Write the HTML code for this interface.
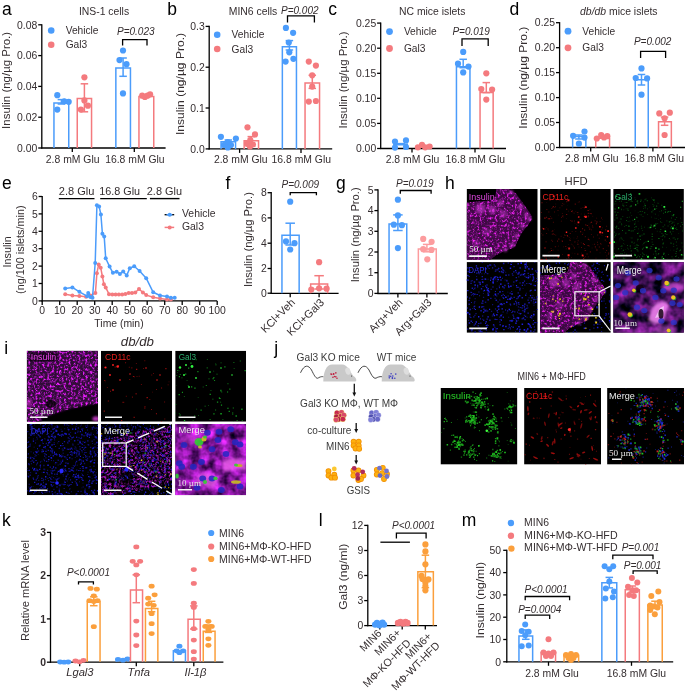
<!DOCTYPE html>
<html><head><meta charset="utf-8"><style>
html,body{margin:0;padding:0;background:#fff;width:685px;height:693px;overflow:hidden}
svg{will-change:transform}
svg text{font-family:"Liberation Sans",sans-serif}
</style></head><body>
<svg width="685" height="693" viewBox="0 0 685 693" style="display:block;font-family:'Liberation Sans', sans-serif"><defs><filter id="fmag" x="0" y="0" width="1" height="1" color-interpolation-filters="sRGB"><feTurbulence type="fractalNoise" baseFrequency="0.400" numOctaves="3" seed="3" result="n"/><feColorMatrix in="n" type="matrix" values="1.600 0 0 0 -0.360 0.220 0 0 0 -0.050 1.600 0 0 0 -0.340 3.000 0 0 0 -1.120" result="c"/><feGaussianBlur in="c" stdDeviation="0.30" result="c"/><feComposite in="c" in2="SourceGraphic" operator="in"/></filter><filter id="fblur1" x="-1" y="-1" width="3" height="3"><feGaussianBlur stdDeviation="1.2"/></filter><filter id="fmag2" x="0" y="0" width="1" height="1" color-interpolation-filters="sRGB"><feTurbulence type="fractalNoise" baseFrequency="0.350" numOctaves="2" seed="7" result="n"/><feColorMatrix in="n" type="matrix" values="2.600 0 0 0 -0.450 0.350 0 0 0 -0.060 2.600 0 0 0 -0.450 0 0 0 0 1" result="c"/><feComposite in="c" in2="SourceGraphic" operator="in"/></filter><filter id="fmagz" x="0" y="0" width="1" height="1" color-interpolation-filters="sRGB"><feTurbulence type="fractalNoise" baseFrequency="0.080" numOctaves="3" seed="11" result="n"/><feColorMatrix in="n" type="matrix" values="1.300 0 0 0 -0.380 0.300 0 0 0 -0.080 1.300 0 0 0 -0.300 0 0 0 0 1" result="c"/><feComposite in="c" in2="SourceGraphic" operator="in"/></filter><filter id="fred" x="0" y="0" width="1" height="1" color-interpolation-filters="sRGB"><feTurbulence type="fractalNoise" baseFrequency="0.500" numOctaves="2" seed="5" result="n"/><feColorMatrix in="n" type="matrix" values="1.200 0 0 0 -0.450 0.000 0 0 0 0.000 0.000 0 0 0 0.000 0 0 0 0 1" result="c"/><feComposite in="c" in2="SourceGraphic" operator="in"/></filter><filter id="fgrn" x="0" y="0" width="1" height="1" color-interpolation-filters="sRGB"><feTurbulence type="fractalNoise" baseFrequency="0.500" numOctaves="2" seed="6" result="n"/><feColorMatrix in="n" type="matrix" values="0.000 0 0 0 0.000 1.200 0 0 0 -0.450 0.100 0 0 0 0.000 0 0 0 0 1" result="c"/><feComposite in="c" in2="SourceGraphic" operator="in"/></filter><clipPath id="cp1"><rect x="466.60" y="188.90" width="71.10" height="70.90"/></clipPath><clipPath id="cp2"><rect x="540.10" y="188.90" width="70.70" height="70.90"/></clipPath><clipPath id="cp3"><rect x="613.20" y="188.90" width="70.70" height="70.90"/></clipPath><clipPath id="cp4"><rect x="466.60" y="262.10" width="71.10" height="70.70"/></clipPath><clipPath id="cp5"><rect x="540.10" y="262.10" width="70.70" height="70.70"/></clipPath><filter id="fblur2" x="-1" y="-1" width="3" height="3"><feGaussianBlur stdDeviation="1.6"/></filter><filter id="fblur08" x="-1" y="-1" width="3" height="3"><feGaussianBlur stdDeviation="0.7"/></filter><clipPath id="cp6"><rect x="613.20" y="262.10" width="70.70" height="70.70"/></clipPath><filter id="fmagi" x="0" y="0" width="1" height="1" color-interpolation-filters="sRGB"><feTurbulence type="fractalNoise" baseFrequency="0.420" numOctaves="4" seed="13" result="n"/><feColorMatrix in="n" type="matrix" values="1.600 0 0 0 -0.350 0.200 0 0 0 -0.040 1.700 0 0 0 -0.350 3.200 0 0 0 -1.150" result="c"/><feGaussianBlur in="c" stdDeviation="0.30" result="c"/><feComposite in="c" in2="SourceGraphic" operator="in"/></filter><clipPath id="cp7"><rect x="26.80" y="350.70" width="71.20" height="71.00"/></clipPath><clipPath id="cp8"><rect x="101.00" y="350.70" width="71.10" height="71.00"/></clipPath><clipPath id="cp9"><rect x="175.20" y="350.70" width="70.90" height="71.00"/></clipPath><clipPath id="cp10"><rect x="26.80" y="423.90" width="71.20" height="71.30"/></clipPath><clipPath id="cp11"><rect x="101.00" y="423.90" width="71.10" height="71.30"/></clipPath><filter id="fmagzi" x="0" y="0" width="1" height="1" color-interpolation-filters="sRGB"><feTurbulence type="fractalNoise" baseFrequency="0.100" numOctaves="3" seed="17" result="n"/><feColorMatrix in="n" type="matrix" values="1.300 0 0 0 -0.120 0.300 0 0 0 -0.060 1.350 0 0 0 -0.050 0 0 0 0 1" result="c"/><feComposite in="c" in2="SourceGraphic" operator="in"/></filter><clipPath id="cp12"><rect x="175.20" y="423.90" width="70.90" height="71.30"/></clipPath><clipPath id="cp13"><rect x="440.50" y="388.00" width="76.90" height="76.60"/></clipPath><clipPath id="cp14"><rect x="524.10" y="388.00" width="76.90" height="76.60"/></clipPath><clipPath id="cp15"><rect x="607.10" y="388.00" width="76.90" height="76.60"/></clipPath></defs><text x="2.00" y="14.80" font-size="17.50" fill="#000">a</text>
<text x="104.00" y="14.92" font-size="10.40" text-anchor="middle" fill="#352e30" style="">INS-1 cells</text>
<text x="6.50" y="84.27" font-size="10.80" text-anchor="middle" fill="#352e30" transform="rotate(-90 6.50 80.40)" textLength="97.0" lengthAdjust="spacingAndGlyphs">Insulin (ng/µg Pro.)</text>
<line x1="41.80" y1="24.20" x2="41.80" y2="148.60" stroke="#000" stroke-width="1.30" stroke-linecap="butt"/>
<line x1="38.20" y1="24.80" x2="41.80" y2="24.80" stroke="#000" stroke-width="1.30" stroke-linecap="butt"/>
<text x="37.30" y="28.52" font-size="10.40" text-anchor="end" fill="#352e30" style="">0.08</text>
<line x1="38.20" y1="55.60" x2="41.80" y2="55.60" stroke="#000" stroke-width="1.30" stroke-linecap="butt"/>
<text x="37.30" y="59.32" font-size="10.40" text-anchor="end" fill="#352e30" style="">0.06</text>
<line x1="38.20" y1="86.40" x2="41.80" y2="86.40" stroke="#000" stroke-width="1.30" stroke-linecap="butt"/>
<text x="37.30" y="90.12" font-size="10.40" text-anchor="end" fill="#352e30" style="">0.04</text>
<line x1="38.20" y1="117.20" x2="41.80" y2="117.20" stroke="#000" stroke-width="1.30" stroke-linecap="butt"/>
<text x="37.30" y="120.92" font-size="10.40" text-anchor="end" fill="#352e30" style="">0.02</text>
<line x1="38.20" y1="148.00" x2="41.80" y2="148.00" stroke="#000" stroke-width="1.30" stroke-linecap="butt"/>
<text x="37.30" y="151.72" font-size="10.40" text-anchor="end" fill="#352e30" style="">0.00</text>
<line x1="41.20" y1="148.00" x2="165.60" y2="148.00" stroke="#000" stroke-width="1.30" stroke-linecap="butt"/>
<line x1="72.30" y1="148.00" x2="72.30" y2="152.00" stroke="#000" stroke-width="1.30" stroke-linecap="butt"/>
<line x1="134.30" y1="148.00" x2="134.30" y2="152.00" stroke="#000" stroke-width="1.30" stroke-linecap="butt"/>
<path d="M53.95 148.00 L53.95 102.95 L68.75 102.95 L68.75 148.00" stroke="#4b9cfb" stroke-width="1.50" fill="none" stroke-linejoin="miter"/>
<line x1="61.40" y1="104.00" x2="61.40" y2="99.60" stroke="#4b9cfb" stroke-width="1.50" stroke-linecap="butt"/>
<line x1="57.65" y1="99.60" x2="65.15" y2="99.60" stroke="#4b9cfb" stroke-width="1.50" stroke-linecap="butt"/>
<line x1="57.65" y1="104.00" x2="65.15" y2="104.00" stroke="#4b9cfb" stroke-width="1.50" stroke-linecap="butt"/>
<circle cx="57.30" cy="95.20" r="3.10" fill="#4b9cfb"/>
<circle cx="57.30" cy="109.60" r="3.10" fill="#4b9cfb"/>
<circle cx="64.30" cy="101.30" r="3.10" fill="#4b9cfb"/>
<circle cx="68.70" cy="101.80" r="3.10" fill="#4b9cfb"/>
<path d="M77.25 148.00 L77.25 98.55 L91.55 98.55 L91.55 148.00" stroke="#f47a7e" stroke-width="1.50" fill="none" stroke-linejoin="miter"/>
<line x1="84.40" y1="111.80" x2="84.40" y2="83.80" stroke="#f47a7e" stroke-width="1.50" stroke-linecap="butt"/>
<line x1="80.65" y1="83.80" x2="88.15" y2="83.80" stroke="#f47a7e" stroke-width="1.50" stroke-linecap="butt"/>
<line x1="80.65" y1="111.80" x2="88.15" y2="111.80" stroke="#f47a7e" stroke-width="1.50" stroke-linecap="butt"/>
<circle cx="84.40" cy="77.30" r="3.10" fill="#f47a7e"/>
<circle cx="84.40" cy="100.40" r="3.10" fill="#f47a7e"/>
<circle cx="87.90" cy="105.70" r="3.10" fill="#f47a7e"/>
<circle cx="80.90" cy="109.60" r="3.10" fill="#f47a7e"/>
<path d="M115.85 148.00 L115.85 67.95 L130.45 67.95 L130.45 148.00" stroke="#4b9cfb" stroke-width="1.50" fill="none" stroke-linejoin="miter"/>
<line x1="123.10" y1="76.30" x2="123.10" y2="58.00" stroke="#4b9cfb" stroke-width="1.50" stroke-linecap="butt"/>
<line x1="119.35" y1="58.00" x2="126.85" y2="58.00" stroke="#4b9cfb" stroke-width="1.50" stroke-linecap="butt"/>
<line x1="119.35" y1="76.30" x2="126.85" y2="76.30" stroke="#4b9cfb" stroke-width="1.50" stroke-linecap="butt"/>
<circle cx="123.00" cy="50.50" r="3.10" fill="#4b9cfb"/>
<circle cx="119.50" cy="60.10" r="3.10" fill="#4b9cfb"/>
<circle cx="126.50" cy="64.20" r="3.10" fill="#4b9cfb"/>
<circle cx="123.00" cy="93.40" r="3.10" fill="#4b9cfb"/>
<path d="M138.95 148.00 L138.95 96.45 L153.75 96.45 L153.75 148.00" stroke="#f47a7e" stroke-width="1.50" fill="none" stroke-linejoin="miter"/>
<circle cx="142.20" cy="95.70" r="3.10" fill="#f47a7e"/>
<circle cx="144.90" cy="96.90" r="3.10" fill="#f47a7e"/>
<circle cx="147.50" cy="95.70" r="3.10" fill="#f47a7e"/>
<circle cx="150.10" cy="94.30" r="3.10" fill="#f47a7e"/>
<circle cx="51.20" cy="30.50" r="3.30" fill="#4b9cfb"/>
<text x="65.70" y="34.15" font-size="10.20" text-anchor="start" fill="#352e30" style="">Vehicle</text>
<circle cx="51.20" cy="44.70" r="3.30" fill="#f47a7e"/>
<text x="65.70" y="48.35" font-size="10.20" text-anchor="start" fill="#352e30" style="">Gal3</text>
<text x="117.00" y="35.18" font-size="10.00" text-anchor="start" fill="#352e30" style="font-style:italic;">P=0.023</text>
<path d="M122.60 45.60 L122.60 39.70 L147.00 39.70 L147.00 45.60" stroke="#000" stroke-width="1.30" fill="none" />
<text x="72.70" y="162.52" font-size="10.40" text-anchor="middle" fill="#352e30" style="">2.8 mM Glu</text>
<text x="134.90" y="162.52" font-size="10.40" text-anchor="middle" fill="#352e30" style="">16.8 mM Glu</text>
<text x="167.30" y="14.80" font-size="17.50" fill="#000">b</text>
<text x="253.00" y="14.62" font-size="10.40" text-anchor="middle" fill="#352e30" style="">MIN6 cells</text>
<text x="281.00" y="14.48" font-size="10.00" text-anchor="start" fill="#352e30" style="font-style:italic;">P=0.002</text>
<path d="M287.50 22.50 L287.50 15.80 L314.40 15.80 L314.40 22.50" stroke="#000" stroke-width="1.30" fill="none" />
<text x="180.30" y="87.87" font-size="10.80" text-anchor="middle" fill="#352e30" transform="rotate(-90 180.30 84.00)" textLength="102.0" lengthAdjust="spacingAndGlyphs">Insulin (ng/µg Pro.)</text>
<line x1="209.20" y1="25.80" x2="209.20" y2="149.50" stroke="#000" stroke-width="1.30" stroke-linecap="butt"/>
<line x1="205.60" y1="26.40" x2="209.20" y2="26.40" stroke="#000" stroke-width="1.30" stroke-linecap="butt"/>
<text x="204.70" y="30.12" font-size="10.40" text-anchor="end" fill="#352e30" style="">0.3</text>
<line x1="205.60" y1="67.20" x2="209.20" y2="67.20" stroke="#000" stroke-width="1.30" stroke-linecap="butt"/>
<text x="204.70" y="70.92" font-size="10.40" text-anchor="end" fill="#352e30" style="">0.2</text>
<line x1="205.60" y1="108.00" x2="209.20" y2="108.00" stroke="#000" stroke-width="1.30" stroke-linecap="butt"/>
<text x="204.70" y="111.72" font-size="10.40" text-anchor="end" fill="#352e30" style="">0.1</text>
<line x1="205.60" y1="148.90" x2="209.20" y2="148.90" stroke="#000" stroke-width="1.30" stroke-linecap="butt"/>
<text x="204.70" y="152.62" font-size="10.40" text-anchor="end" fill="#352e30" style="">0.0</text>
<line x1="208.60" y1="148.90" x2="332.20" y2="148.90" stroke="#000" stroke-width="1.30" stroke-linecap="butt"/>
<line x1="239.60" y1="148.90" x2="239.60" y2="152.90" stroke="#000" stroke-width="1.30" stroke-linecap="butt"/>
<line x1="301.00" y1="148.90" x2="301.00" y2="152.90" stroke="#000" stroke-width="1.30" stroke-linecap="butt"/>
<path d="M221.05 148.90 L221.05 141.75 L235.55 141.75 L235.55 148.90" stroke="#4b9cfb" stroke-width="1.50" fill="none" stroke-linejoin="miter"/>
<line x1="228.30" y1="146.50" x2="228.30" y2="140.00" stroke="#4b9cfb" stroke-width="1.50" stroke-linecap="butt"/>
<line x1="224.55" y1="140.00" x2="232.05" y2="140.00" stroke="#4b9cfb" stroke-width="1.50" stroke-linecap="butt"/>
<line x1="224.55" y1="146.50" x2="232.05" y2="146.50" stroke="#4b9cfb" stroke-width="1.50" stroke-linecap="butt"/>
<circle cx="220.90" cy="136.80" r="3.10" fill="#4b9cfb"/>
<circle cx="235.90" cy="138.50" r="3.10" fill="#4b9cfb"/>
<circle cx="227.80" cy="142.00" r="3.10" fill="#4b9cfb"/>
<circle cx="224.00" cy="145.00" r="3.10" fill="#4b9cfb"/>
<circle cx="231.00" cy="145.00" r="3.10" fill="#4b9cfb"/>
<circle cx="227.80" cy="147.50" r="3.10" fill="#4b9cfb"/>
<path d="M244.15 148.90 L244.15 140.75 L258.55 140.75 L258.55 148.90" stroke="#f47a7e" stroke-width="1.50" fill="none" stroke-linejoin="miter"/>
<line x1="251.30" y1="146.00" x2="251.30" y2="136.60" stroke="#f47a7e" stroke-width="1.50" stroke-linecap="butt"/>
<line x1="247.55" y1="136.60" x2="255.05" y2="136.60" stroke="#f47a7e" stroke-width="1.50" stroke-linecap="butt"/>
<line x1="247.55" y1="146.00" x2="255.05" y2="146.00" stroke="#f47a7e" stroke-width="1.50" stroke-linecap="butt"/>
<circle cx="247.50" cy="127.30" r="3.10" fill="#f47a7e"/>
<circle cx="255.00" cy="134.40" r="3.10" fill="#f47a7e"/>
<circle cx="250.30" cy="140.00" r="3.10" fill="#f47a7e"/>
<circle cx="247.00" cy="143.80" r="3.10" fill="#f47a7e"/>
<circle cx="253.00" cy="144.50" r="3.10" fill="#f47a7e"/>
<circle cx="250.00" cy="146.50" r="3.10" fill="#f47a7e"/>
<path d="M282.35 148.90 L282.35 46.65 L296.45 46.65 L296.45 148.90" stroke="#4b9cfb" stroke-width="1.50" fill="none" stroke-linejoin="miter"/>
<line x1="289.40" y1="50.00" x2="289.40" y2="40.60" stroke="#4b9cfb" stroke-width="1.50" stroke-linecap="butt"/>
<line x1="285.65" y1="40.60" x2="293.15" y2="40.60" stroke="#4b9cfb" stroke-width="1.50" stroke-linecap="butt"/>
<line x1="285.65" y1="50.00" x2="293.15" y2="50.00" stroke="#4b9cfb" stroke-width="1.50" stroke-linecap="butt"/>
<circle cx="285.90" cy="27.90" r="3.10" fill="#4b9cfb"/>
<circle cx="293.10" cy="32.80" r="3.10" fill="#4b9cfb"/>
<circle cx="288.80" cy="42.50" r="3.10" fill="#4b9cfb"/>
<circle cx="289.30" cy="52.30" r="3.10" fill="#4b9cfb"/>
<circle cx="285.60" cy="61.60" r="3.10" fill="#4b9cfb"/>
<circle cx="293.40" cy="58.80" r="3.10" fill="#4b9cfb"/>
<path d="M305.05 148.90 L305.05 83.05 L319.55 83.05 L319.55 148.90" stroke="#f47a7e" stroke-width="1.50" fill="none" stroke-linejoin="miter"/>
<line x1="312.30" y1="88.40" x2="312.30" y2="75.30" stroke="#f47a7e" stroke-width="1.50" stroke-linecap="butt"/>
<line x1="308.55" y1="75.30" x2="316.05" y2="75.30" stroke="#f47a7e" stroke-width="1.50" stroke-linecap="butt"/>
<line x1="308.55" y1="88.40" x2="316.05" y2="88.40" stroke="#f47a7e" stroke-width="1.50" stroke-linecap="butt"/>
<circle cx="308.80" cy="61.60" r="3.10" fill="#f47a7e"/>
<circle cx="315.90" cy="65.60" r="3.10" fill="#f47a7e"/>
<circle cx="312.20" cy="75.30" r="3.10" fill="#f47a7e"/>
<circle cx="312.20" cy="86.60" r="3.10" fill="#f47a7e"/>
<circle cx="308.80" cy="101.60" r="3.10" fill="#f47a7e"/>
<circle cx="315.90" cy="101.00" r="3.10" fill="#f47a7e"/>
<circle cx="217.20" cy="34.70" r="3.30" fill="#4b9cfb"/>
<text x="231.60" y="38.35" font-size="10.20" text-anchor="start" fill="#352e30" style="">Vehicle</text>
<circle cx="217.20" cy="49.00" r="3.30" fill="#f47a7e"/>
<text x="231.60" y="52.65" font-size="10.20" text-anchor="start" fill="#352e30" style="">Gal3</text>
<text x="240.80" y="163.02" font-size="10.40" text-anchor="middle" fill="#352e30" style="">2.8 mM Glu</text>
<text x="301.30" y="163.02" font-size="10.40" text-anchor="middle" fill="#352e30" style="">16.8 mM Glu</text>
<text x="328.20" y="14.80" font-size="17.50" fill="#000">c</text>
<text x="432.20" y="15.22" font-size="10.40" text-anchor="middle" fill="#352e30" style="">NC mice islets</text>
<text x="343.00" y="83.87" font-size="10.80" text-anchor="middle" fill="#352e30" transform="rotate(-90 343.00 80.00)" textLength="97.0" lengthAdjust="spacingAndGlyphs">Insulin (ng/µg Pro.)</text>
<line x1="380.70" y1="22.50" x2="380.70" y2="149.10" stroke="#000" stroke-width="1.30" stroke-linecap="butt"/>
<line x1="377.10" y1="23.10" x2="380.70" y2="23.10" stroke="#000" stroke-width="1.30" stroke-linecap="butt"/>
<text x="376.20" y="26.82" font-size="10.40" text-anchor="end" fill="#352e30" style="">0.25</text>
<line x1="377.10" y1="48.20" x2="380.70" y2="48.20" stroke="#000" stroke-width="1.30" stroke-linecap="butt"/>
<text x="376.20" y="51.92" font-size="10.40" text-anchor="end" fill="#352e30" style="">0.20</text>
<line x1="377.10" y1="73.30" x2="380.70" y2="73.30" stroke="#000" stroke-width="1.30" stroke-linecap="butt"/>
<text x="376.20" y="77.02" font-size="10.40" text-anchor="end" fill="#352e30" style="">0.15</text>
<line x1="377.10" y1="98.30" x2="380.70" y2="98.30" stroke="#000" stroke-width="1.30" stroke-linecap="butt"/>
<text x="376.20" y="102.02" font-size="10.40" text-anchor="end" fill="#352e30" style="">0.10</text>
<line x1="377.10" y1="123.40" x2="380.70" y2="123.40" stroke="#000" stroke-width="1.30" stroke-linecap="butt"/>
<text x="376.20" y="127.12" font-size="10.40" text-anchor="end" fill="#352e30" style="">0.05</text>
<line x1="377.10" y1="148.50" x2="380.70" y2="148.50" stroke="#000" stroke-width="1.30" stroke-linecap="butt"/>
<text x="376.20" y="152.22" font-size="10.40" text-anchor="end" fill="#352e30" style="">0.00</text>
<line x1="380.10" y1="148.50" x2="506.00" y2="148.50" stroke="#000" stroke-width="1.30" stroke-linecap="butt"/>
<line x1="412.00" y1="148.50" x2="412.00" y2="152.50" stroke="#000" stroke-width="1.30" stroke-linecap="butt"/>
<line x1="475.00" y1="148.50" x2="475.00" y2="152.50" stroke="#000" stroke-width="1.30" stroke-linecap="butt"/>
<path d="M393.85 148.50 L393.85 144.15 L407.25 144.15 L407.25 148.50" stroke="#4b9cfb" stroke-width="1.50" fill="none" stroke-linejoin="miter"/>
<circle cx="395.00" cy="141.60" r="3.10" fill="#4b9cfb"/>
<circle cx="406.00" cy="140.40" r="3.10" fill="#4b9cfb"/>
<circle cx="395.00" cy="147.60" r="3.10" fill="#4b9cfb"/>
<circle cx="406.00" cy="147.00" r="3.10" fill="#4b9cfb"/>
<line x1="396.00" y1="143.50" x2="405.00" y2="143.50" stroke="#4b9cfb" stroke-width="1.30" stroke-linecap="butt"/>
<line x1="396.00" y1="145.00" x2="405.00" y2="145.00" stroke="#4b9cfb" stroke-width="1.00" stroke-linecap="butt"/>
<path d="M417.55 148.50 L417.55 146.75 L430.95 146.75 L430.95 148.50" stroke="#f47a7e" stroke-width="1.50" fill="none" stroke-linejoin="miter"/>
<circle cx="417.90" cy="147.30" r="3.10" fill="#f47a7e"/>
<circle cx="422.00" cy="144.90" r="3.10" fill="#f47a7e"/>
<circle cx="425.20" cy="147.30" r="3.10" fill="#f47a7e"/>
<circle cx="429.60" cy="146.50" r="3.10" fill="#f47a7e"/>
<path d="M456.45 148.50 L456.45 66.65 L469.95 66.65 L469.95 148.50" stroke="#4b9cfb" stroke-width="1.50" fill="none" stroke-linejoin="miter"/>
<line x1="463.20" y1="67.70" x2="463.20" y2="59.30" stroke="#4b9cfb" stroke-width="1.50" stroke-linecap="butt"/>
<line x1="459.45" y1="59.30" x2="466.95" y2="59.30" stroke="#4b9cfb" stroke-width="1.50" stroke-linecap="butt"/>
<line x1="459.45" y1="67.70" x2="466.95" y2="67.70" stroke="#4b9cfb" stroke-width="1.50" stroke-linecap="butt"/>
<circle cx="463.20" cy="51.90" r="3.10" fill="#4b9cfb"/>
<circle cx="458.00" cy="63.70" r="3.10" fill="#4b9cfb"/>
<circle cx="468.50" cy="66.60" r="3.10" fill="#4b9cfb"/>
<circle cx="463.20" cy="72.40" r="3.10" fill="#4b9cfb"/>
<path d="M480.05 148.50 L480.05 92.45 L493.15 92.45 L493.15 148.50" stroke="#f47a7e" stroke-width="1.50" fill="none" stroke-linejoin="miter"/>
<line x1="486.30" y1="92.60" x2="486.30" y2="82.60" stroke="#f47a7e" stroke-width="1.50" stroke-linecap="butt"/>
<line x1="482.55" y1="82.60" x2="490.05" y2="82.60" stroke="#f47a7e" stroke-width="1.50" stroke-linecap="butt"/>
<line x1="482.55" y1="92.60" x2="490.05" y2="92.60" stroke="#f47a7e" stroke-width="1.50" stroke-linecap="butt"/>
<circle cx="486.30" cy="73.30" r="3.10" fill="#f47a7e"/>
<circle cx="481.30" cy="89.10" r="3.10" fill="#f47a7e"/>
<circle cx="492.10" cy="89.60" r="3.10" fill="#f47a7e"/>
<circle cx="486.30" cy="99.60" r="3.10" fill="#f47a7e"/>
<circle cx="389.50" cy="31.60" r="3.40" fill="#4b9cfb"/>
<text x="403.90" y="35.25" font-size="10.20" text-anchor="start" fill="#352e30" style="">Vehicle</text>
<circle cx="389.50" cy="48.50" r="3.40" fill="#f47a7e"/>
<text x="403.90" y="52.15" font-size="10.20" text-anchor="start" fill="#352e30" style="">Gal3</text>
<text x="452.40" y="35.48" font-size="10.00" text-anchor="start" fill="#352e30" style="font-style:italic;">P=0.019</text>
<path d="M462.00 46.00 L462.00 38.80 L488.20 38.80 L488.20 46.00" stroke="#000" stroke-width="1.30" fill="none" />
<text x="412.50" y="163.42" font-size="10.40" text-anchor="middle" fill="#352e30" style="">2.8 mM Glu</text>
<text x="475.30" y="163.42" font-size="10.40" text-anchor="middle" fill="#352e30" style="">16.8 mM Glu</text>
<text x="509.50" y="14.80" font-size="17.50" fill="#000">d</text>
<text x="618.80" y="15.22" font-size="10.40" text-anchor="middle" fill="#352e30"><tspan font-style="italic">db/db</tspan> mice islets</text>
<text x="522.80" y="81.57" font-size="10.80" text-anchor="middle" fill="#352e30" transform="rotate(-90 522.80 77.70)" textLength="102.0" lengthAdjust="spacingAndGlyphs">Insulin (ng/µg Pro.)</text>
<line x1="559.60" y1="22.10" x2="559.60" y2="148.10" stroke="#000" stroke-width="1.30" stroke-linecap="butt"/>
<line x1="556.00" y1="22.70" x2="559.60" y2="22.70" stroke="#000" stroke-width="1.30" stroke-linecap="butt"/>
<text x="555.10" y="26.42" font-size="10.40" text-anchor="end" fill="#352e30" style="">0.25</text>
<line x1="556.00" y1="47.70" x2="559.60" y2="47.70" stroke="#000" stroke-width="1.30" stroke-linecap="butt"/>
<text x="555.10" y="51.42" font-size="10.40" text-anchor="end" fill="#352e30" style="">0.20</text>
<line x1="556.00" y1="72.60" x2="559.60" y2="72.60" stroke="#000" stroke-width="1.30" stroke-linecap="butt"/>
<text x="555.10" y="76.32" font-size="10.40" text-anchor="end" fill="#352e30" style="">0.15</text>
<line x1="556.00" y1="97.60" x2="559.60" y2="97.60" stroke="#000" stroke-width="1.30" stroke-linecap="butt"/>
<text x="555.10" y="101.32" font-size="10.40" text-anchor="end" fill="#352e30" style="">0.10</text>
<line x1="556.00" y1="122.50" x2="559.60" y2="122.50" stroke="#000" stroke-width="1.30" stroke-linecap="butt"/>
<text x="555.10" y="126.22" font-size="10.40" text-anchor="end" fill="#352e30" style="">0.05</text>
<line x1="556.00" y1="147.50" x2="559.60" y2="147.50" stroke="#000" stroke-width="1.30" stroke-linecap="butt"/>
<text x="555.10" y="151.22" font-size="10.40" text-anchor="end" fill="#352e30" style="">0.00</text>
<line x1="559.00" y1="147.50" x2="685.50" y2="147.50" stroke="#000" stroke-width="1.30" stroke-linecap="butt"/>
<line x1="590.70" y1="147.50" x2="590.70" y2="151.50" stroke="#000" stroke-width="1.30" stroke-linecap="butt"/>
<line x1="652.90" y1="147.50" x2="652.90" y2="151.50" stroke="#000" stroke-width="1.30" stroke-linecap="butt"/>
<path d="M572.65 147.50 L572.65 136.55 L585.85 136.55 L585.85 147.50" stroke="#4b9cfb" stroke-width="1.50" fill="none" stroke-linejoin="miter"/>
<line x1="578.90" y1="139.00" x2="578.90" y2="135.00" stroke="#4b9cfb" stroke-width="1.50" stroke-linecap="butt"/>
<line x1="575.15" y1="135.00" x2="582.65" y2="135.00" stroke="#4b9cfb" stroke-width="1.50" stroke-linecap="butt"/>
<line x1="575.15" y1="139.00" x2="582.65" y2="139.00" stroke="#4b9cfb" stroke-width="1.50" stroke-linecap="butt"/>
<circle cx="573.10" cy="135.80" r="3.10" fill="#4b9cfb"/>
<circle cx="584.50" cy="131.50" r="3.10" fill="#4b9cfb"/>
<circle cx="584.50" cy="137.60" r="3.10" fill="#4b9cfb"/>
<circle cx="578.90" cy="143.70" r="3.10" fill="#4b9cfb"/>
<path d="M595.75 147.50 L595.75 138.35 L609.55 138.35 L609.55 147.50" stroke="#f47a7e" stroke-width="1.50" fill="none" stroke-linejoin="miter"/>
<circle cx="596.80" cy="138.50" r="3.10" fill="#f47a7e"/>
<circle cx="601.20" cy="135.00" r="3.10" fill="#f47a7e"/>
<circle cx="607.30" cy="136.20" r="3.10" fill="#f47a7e"/>
<circle cx="604.00" cy="137.50" r="3.10" fill="#f47a7e"/>
<path d="M635.25 147.50 L635.25 79.65 L648.25 79.65 L648.25 147.50" stroke="#4b9cfb" stroke-width="1.50" fill="none" stroke-linejoin="miter"/>
<line x1="641.50" y1="85.00" x2="641.50" y2="74.50" stroke="#4b9cfb" stroke-width="1.50" stroke-linecap="butt"/>
<line x1="637.75" y1="74.50" x2="645.25" y2="74.50" stroke="#4b9cfb" stroke-width="1.50" stroke-linecap="butt"/>
<line x1="637.75" y1="85.00" x2="645.25" y2="85.00" stroke="#4b9cfb" stroke-width="1.50" stroke-linecap="butt"/>
<circle cx="641.50" cy="68.40" r="3.10" fill="#4b9cfb"/>
<circle cx="635.70" cy="78.00" r="3.10" fill="#4b9cfb"/>
<circle cx="647.10" cy="78.40" r="3.10" fill="#4b9cfb"/>
<circle cx="641.50" cy="94.70" r="3.10" fill="#4b9cfb"/>
<path d="M658.55 147.50 L658.55 121.75 L671.35 121.75 L671.35 147.50" stroke="#f47a7e" stroke-width="1.50" fill="none" stroke-linejoin="miter"/>
<line x1="664.60" y1="125.30" x2="664.60" y2="117.10" stroke="#f47a7e" stroke-width="1.50" stroke-linecap="butt"/>
<line x1="660.85" y1="117.10" x2="668.35" y2="117.10" stroke="#f47a7e" stroke-width="1.50" stroke-linecap="butt"/>
<line x1="660.85" y1="125.30" x2="668.35" y2="125.30" stroke="#f47a7e" stroke-width="1.50" stroke-linecap="butt"/>
<circle cx="659.30" cy="113.40" r="3.10" fill="#f47a7e"/>
<circle cx="669.80" cy="112.70" r="3.10" fill="#f47a7e"/>
<circle cx="664.60" cy="118.30" r="3.10" fill="#f47a7e"/>
<circle cx="664.60" cy="135.00" r="3.10" fill="#f47a7e"/>
<circle cx="568.00" cy="31.20" r="3.40" fill="#4b9cfb"/>
<text x="582.30" y="34.85" font-size="10.20" text-anchor="start" fill="#352e30" style="">Vehicle</text>
<circle cx="568.00" cy="47.80" r="3.40" fill="#f47a7e"/>
<text x="582.30" y="51.45" font-size="10.20" text-anchor="start" fill="#352e30" style="">Gal3</text>
<text x="633.90" y="45.18" font-size="10.00" text-anchor="start" fill="#352e30" style="font-style:italic;">P=0.002</text>
<path d="M640.60 57.90 L640.60 51.40 L665.60 51.40 L665.60 57.90" stroke="#000" stroke-width="1.30" fill="none" />
<text x="591.80" y="162.12" font-size="10.40" text-anchor="middle" fill="#352e30" style="">2.8 mM Glu</text>
<text x="654.30" y="162.12" font-size="10.40" text-anchor="middle" fill="#352e30" style="">16.8 mM Glu</text>
<text x="225.60" y="188.70" font-size="17.50" fill="#000">f</text>
<text x="247.70" y="243.47" font-size="10.80" text-anchor="middle" fill="#352e30" transform="rotate(-90 247.70 239.60)" textLength="95.0" lengthAdjust="spacingAndGlyphs">Insulin (ng/µg Pro.)</text>
<line x1="271.20" y1="192.10" x2="271.20" y2="293.90" stroke="#000" stroke-width="1.30" stroke-linecap="butt"/>
<line x1="267.60" y1="192.70" x2="271.20" y2="192.70" stroke="#000" stroke-width="1.30" stroke-linecap="butt"/>
<text x="266.70" y="196.42" font-size="10.40" text-anchor="end" fill="#352e30" style="">8</text>
<line x1="267.60" y1="217.90" x2="271.20" y2="217.90" stroke="#000" stroke-width="1.30" stroke-linecap="butt"/>
<text x="266.70" y="221.62" font-size="10.40" text-anchor="end" fill="#352e30" style="">6</text>
<line x1="267.60" y1="243.20" x2="271.20" y2="243.20" stroke="#000" stroke-width="1.30" stroke-linecap="butt"/>
<text x="266.70" y="246.92" font-size="10.40" text-anchor="end" fill="#352e30" style="">4</text>
<line x1="267.60" y1="268.50" x2="271.20" y2="268.50" stroke="#000" stroke-width="1.30" stroke-linecap="butt"/>
<text x="266.70" y="272.22" font-size="10.40" text-anchor="end" fill="#352e30" style="">2</text>
<line x1="267.60" y1="293.20" x2="271.20" y2="293.20" stroke="#000" stroke-width="1.30" stroke-linecap="butt"/>
<text x="266.70" y="296.92" font-size="10.40" text-anchor="end" fill="#352e30" style="">0</text>
<line x1="270.60" y1="293.30" x2="338.60" y2="293.30" stroke="#000" stroke-width="1.30" stroke-linecap="butt"/>
<line x1="290.20" y1="293.30" x2="290.20" y2="297.30" stroke="#000" stroke-width="1.30" stroke-linecap="butt"/>
<line x1="319.10" y1="293.30" x2="319.10" y2="297.30" stroke="#000" stroke-width="1.30" stroke-linecap="butt"/>
<path d="M281.95 293.20 L281.95 235.25 L299.15 235.25 L299.15 293.20" stroke="#4b9cfb" stroke-width="1.50" fill="none" stroke-linejoin="miter"/>
<line x1="290.20" y1="245.00" x2="290.20" y2="223.20" stroke="#4b9cfb" stroke-width="1.50" stroke-linecap="butt"/>
<line x1="285.45" y1="223.20" x2="294.95" y2="223.20" stroke="#4b9cfb" stroke-width="1.50" stroke-linecap="butt"/>
<line x1="285.45" y1="245.00" x2="294.95" y2="245.00" stroke="#4b9cfb" stroke-width="1.50" stroke-linecap="butt"/>
<circle cx="290.20" cy="201.70" r="3.10" fill="#4b9cfb"/>
<circle cx="286.00" cy="241.40" r="3.10" fill="#4b9cfb"/>
<circle cx="294.50" cy="243.20" r="3.10" fill="#4b9cfb"/>
<circle cx="290.20" cy="249.50" r="3.10" fill="#4b9cfb"/>
<path d="M310.65 293.20 L310.65 284.05 L327.65 284.05 L327.65 293.20" stroke="#f47a7e" stroke-width="1.50" fill="none" stroke-linejoin="miter"/>
<line x1="319.10" y1="289.00" x2="319.10" y2="275.70" stroke="#f47a7e" stroke-width="1.50" stroke-linecap="butt"/>
<line x1="314.35" y1="275.70" x2="323.85" y2="275.70" stroke="#f47a7e" stroke-width="1.50" stroke-linecap="butt"/>
<line x1="314.35" y1="289.00" x2="323.85" y2="289.00" stroke="#f47a7e" stroke-width="1.50" stroke-linecap="butt"/>
<circle cx="319.10" cy="262.20" r="3.10" fill="#f47a7e"/>
<circle cx="311.30" cy="289.60" r="3.10" fill="#f47a7e"/>
<circle cx="319.10" cy="288.30" r="3.10" fill="#f47a7e"/>
<circle cx="326.60" cy="288.70" r="3.10" fill="#f47a7e"/>
<text x="281.50" y="188.48" font-size="10.00" text-anchor="start" fill="#352e30" style="font-style:italic;">P=0.009</text>
<path d="M290.20 195.20 L290.20 192.70 L316.40 192.70 L316.40 195.20" stroke="#000" stroke-width="1.30" fill="none" />
<text x="293.00" y="304.24" font-size="11.00" text-anchor="end" fill="#352e30" style="" transform="rotate(-45 293.0 300.3)">KCl+Veh</text>
<text x="322.00" y="304.24" font-size="11.00" text-anchor="end" fill="#352e30" style="" transform="rotate(-45 322.0 300.3)">KCl+Gal3</text>
<text x="336.00" y="188.70" font-size="17.50" fill="#000">g</text>
<text x="355.20" y="238.67" font-size="10.80" text-anchor="middle" fill="#352e30" transform="rotate(-90 355.20 234.80)" textLength="95.0" lengthAdjust="spacingAndGlyphs">Insulin (ng/µg Pro.)</text>
<line x1="378.00" y1="189.30" x2="378.00" y2="294.10" stroke="#000" stroke-width="1.30" stroke-linecap="butt"/>
<line x1="374.40" y1="189.90" x2="378.00" y2="189.90" stroke="#000" stroke-width="1.30" stroke-linecap="butt"/>
<text x="373.50" y="193.62" font-size="10.40" text-anchor="end" fill="#352e30" style="">5</text>
<line x1="374.40" y1="210.60" x2="378.00" y2="210.60" stroke="#000" stroke-width="1.30" stroke-linecap="butt"/>
<text x="373.50" y="214.32" font-size="10.40" text-anchor="end" fill="#352e30" style="">4</text>
<line x1="374.40" y1="231.30" x2="378.00" y2="231.30" stroke="#000" stroke-width="1.30" stroke-linecap="butt"/>
<text x="373.50" y="235.02" font-size="10.40" text-anchor="end" fill="#352e30" style="">3</text>
<line x1="374.40" y1="252.00" x2="378.00" y2="252.00" stroke="#000" stroke-width="1.30" stroke-linecap="butt"/>
<text x="373.50" y="255.72" font-size="10.40" text-anchor="end" fill="#352e30" style="">2</text>
<line x1="374.40" y1="272.70" x2="378.00" y2="272.70" stroke="#000" stroke-width="1.30" stroke-linecap="butt"/>
<text x="373.50" y="276.42" font-size="10.40" text-anchor="end" fill="#352e30" style="">1</text>
<line x1="374.40" y1="293.40" x2="378.00" y2="293.40" stroke="#000" stroke-width="1.30" stroke-linecap="butt"/>
<text x="373.50" y="297.12" font-size="10.40" text-anchor="end" fill="#352e30" style="">0</text>
<line x1="377.40" y1="293.50" x2="447.80" y2="293.50" stroke="#000" stroke-width="1.30" stroke-linecap="butt"/>
<line x1="397.90" y1="293.50" x2="397.90" y2="297.50" stroke="#000" stroke-width="1.30" stroke-linecap="butt"/>
<line x1="426.90" y1="293.50" x2="426.90" y2="297.50" stroke="#000" stroke-width="1.30" stroke-linecap="butt"/>
<path d="M389.05 293.40 L389.05 223.95 L406.75 223.95 L406.75 293.40" stroke="#4b9cfb" stroke-width="1.50" fill="none" stroke-linejoin="miter"/>
<line x1="397.90" y1="230.50" x2="397.90" y2="214.90" stroke="#4b9cfb" stroke-width="1.50" stroke-linecap="butt"/>
<line x1="393.15" y1="214.90" x2="402.65" y2="214.90" stroke="#4b9cfb" stroke-width="1.50" stroke-linecap="butt"/>
<line x1="393.15" y1="230.50" x2="402.65" y2="230.50" stroke="#4b9cfb" stroke-width="1.50" stroke-linecap="butt"/>
<circle cx="397.90" cy="199.70" r="3.10" fill="#4b9cfb"/>
<circle cx="397.90" cy="215.40" r="3.10" fill="#4b9cfb"/>
<circle cx="393.80" cy="224.70" r="3.10" fill="#4b9cfb"/>
<circle cx="401.90" cy="225.20" r="3.10" fill="#4b9cfb"/>
<circle cx="397.90" cy="248.10" r="3.10" fill="#4b9cfb"/>
<path d="M418.35 293.40 L418.35 249.05 L436.25 249.05 L436.25 293.40" stroke="#fc9c9e" stroke-width="1.50" fill="none" stroke-linejoin="miter"/>
<line x1="426.90" y1="251.80" x2="426.90" y2="244.40" stroke="#fc9c9e" stroke-width="1.50" stroke-linecap="butt"/>
<line x1="422.90" y1="244.40" x2="430.90" y2="244.40" stroke="#fc9c9e" stroke-width="1.50" stroke-linecap="butt"/>
<line x1="422.90" y1="251.80" x2="430.90" y2="251.80" stroke="#fc9c9e" stroke-width="1.50" stroke-linecap="butt"/>
<circle cx="423.20" cy="238.90" r="3.10" fill="#fc9c9e"/>
<circle cx="431.60" cy="241.80" r="3.10" fill="#fc9c9e"/>
<circle cx="423.20" cy="249.20" r="3.10" fill="#fc9c9e"/>
<circle cx="431.50" cy="249.90" r="3.10" fill="#fc9c9e"/>
<circle cx="427.30" cy="259.30" r="3.10" fill="#fc9c9e"/>
<text x="396.00" y="186.68" font-size="10.00" text-anchor="start" fill="#352e30" style="font-style:italic;">P=0.019</text>
<path d="M400.30 193.80 L400.30 190.50 L431.10 190.50 L431.10 193.80" stroke="#000" stroke-width="1.30" fill="none" />
<text x="400.60" y="304.24" font-size="11.00" text-anchor="end" fill="#352e30" style="" transform="rotate(-45 400.6 300.3)">Arg+Veh</text>
<text x="429.60" y="304.24" font-size="11.00" text-anchor="end" fill="#352e30" style="" transform="rotate(-45 429.6 300.3)">Arg+Gal3</text>
<text x="2.00" y="526.00" font-size="17.50" fill="#000">k</text>
<text x="25.30" y="594.32" font-size="10.40" text-anchor="middle" fill="#352e30" transform="rotate(-90 25.30 590.60)" textLength="101.0" lengthAdjust="spacingAndGlyphs">Relative mRNA level</text>
<line x1="50.50" y1="531.80" x2="50.50" y2="662.80" stroke="#000" stroke-width="1.30" stroke-linecap="butt"/>
<line x1="46.90" y1="532.40" x2="50.50" y2="532.40" stroke="#000" stroke-width="1.30" stroke-linecap="butt"/>
<text x="46.00" y="536.12" font-size="10.40" text-anchor="end" fill="#352e30" style="font-weight:bold;">3</text>
<line x1="46.90" y1="575.60" x2="50.50" y2="575.60" stroke="#000" stroke-width="1.30" stroke-linecap="butt"/>
<text x="46.00" y="579.32" font-size="10.40" text-anchor="end" fill="#352e30" style="font-weight:bold;">2</text>
<line x1="46.90" y1="618.90" x2="50.50" y2="618.90" stroke="#000" stroke-width="1.30" stroke-linecap="butt"/>
<text x="46.00" y="622.62" font-size="10.40" text-anchor="end" fill="#352e30" style="font-weight:bold;">1</text>
<line x1="46.90" y1="662.20" x2="50.50" y2="662.20" stroke="#000" stroke-width="1.30" stroke-linecap="butt"/>
<text x="46.00" y="665.92" font-size="10.40" text-anchor="end" fill="#352e30" style="font-weight:bold;">0</text>
<line x1="49.90" y1="662.20" x2="223.40" y2="662.20" stroke="#000" stroke-width="1.30" stroke-linecap="butt"/>
<line x1="79.70" y1="662.20" x2="79.70" y2="666.20" stroke="#000" stroke-width="1.30" stroke-linecap="butt"/>
<line x1="136.30" y1="662.20" x2="136.30" y2="666.20" stroke="#000" stroke-width="1.30" stroke-linecap="butt"/>
<line x1="193.80" y1="662.20" x2="193.80" y2="666.20" stroke="#000" stroke-width="1.30" stroke-linecap="butt"/>
<path d="M58.25 661.80 L58.25 661.75 L69.75 661.75 L69.75 661.80" stroke="#4b9cfb" stroke-width="1.50" fill="none" stroke-linejoin="miter"/>
<ellipse cx="60.20" cy="662.00" rx="3.00" ry="2.40" fill="#4b9cfb"/>
<ellipse cx="64.20" cy="662.20" rx="3.00" ry="2.40" fill="#4b9cfb"/>
<ellipse cx="68.20" cy="662.00" rx="3.00" ry="2.40" fill="#4b9cfb"/>
<path d="M73.45 661.80 L73.45 661.25 L84.25 661.25 L84.25 661.80" stroke="#f47a7e" stroke-width="1.50" fill="none" stroke-linejoin="miter"/>
<ellipse cx="75.50" cy="661.00" rx="3.00" ry="2.40" fill="#f47a7e"/>
<ellipse cx="79.50" cy="661.80" rx="3.00" ry="2.40" fill="#f47a7e"/>
<ellipse cx="83.50" cy="660.30" rx="3.00" ry="2.40" fill="#f47a7e"/>
<path d="M87.25 661.80 L87.25 601.45 L100.05 601.45 L100.05 661.80" stroke="#fb9f3c" stroke-width="1.50" fill="none" stroke-linejoin="miter"/>
<line x1="93.80" y1="605.70" x2="93.80" y2="596.80" stroke="#fb9f3c" stroke-width="1.50" stroke-linecap="butt"/>
<line x1="90.05" y1="596.80" x2="97.55" y2="596.80" stroke="#fb9f3c" stroke-width="1.50" stroke-linecap="butt"/>
<line x1="90.05" y1="605.70" x2="97.55" y2="605.70" stroke="#fb9f3c" stroke-width="1.50" stroke-linecap="butt"/>
<ellipse cx="90.50" cy="588.40" rx="3.00" ry="2.40" fill="#fb9f3c"/>
<ellipse cx="96.80" cy="589.20" rx="3.00" ry="2.40" fill="#fb9f3c"/>
<ellipse cx="93.80" cy="595.80" rx="3.00" ry="2.40" fill="#fb9f3c"/>
<ellipse cx="89.50" cy="600.70" rx="3.00" ry="2.40" fill="#fb9f3c"/>
<ellipse cx="93.80" cy="601.50" rx="3.00" ry="2.40" fill="#fb9f3c"/>
<ellipse cx="97.50" cy="600.70" rx="3.00" ry="2.40" fill="#fb9f3c"/>
<ellipse cx="93.80" cy="626.70" rx="3.00" ry="2.40" fill="#fb9f3c"/>
<path d="M116.25 661.80 L116.25 660.25 L128.05 660.25 L128.05 661.80" stroke="#4b9cfb" stroke-width="1.50" fill="none" stroke-linejoin="miter"/>
<ellipse cx="118.00" cy="659.30" rx="3.00" ry="2.40" fill="#4b9cfb"/>
<ellipse cx="123.00" cy="660.20" rx="3.00" ry="2.40" fill="#4b9cfb"/>
<ellipse cx="127.50" cy="658.80" rx="3.00" ry="2.40" fill="#4b9cfb"/>
<path d="M130.45 661.80 L130.45 589.95 L142.55 589.95 L142.55 661.80" stroke="#f47a7e" stroke-width="1.50" fill="none" stroke-linejoin="miter"/>
<line x1="136.30" y1="602.70" x2="136.30" y2="574.80" stroke="#f47a7e" stroke-width="1.50" stroke-linecap="butt"/>
<line x1="132.55" y1="574.80" x2="140.05" y2="574.80" stroke="#f47a7e" stroke-width="1.50" stroke-linecap="butt"/>
<line x1="132.55" y1="602.70" x2="140.05" y2="602.70" stroke="#f47a7e" stroke-width="1.50" stroke-linecap="butt"/>
<ellipse cx="136.30" cy="546.90" rx="3.00" ry="2.40" fill="#f47a7e"/>
<ellipse cx="132.70" cy="561.30" rx="3.00" ry="2.40" fill="#f47a7e"/>
<ellipse cx="140.10" cy="561.30" rx="3.00" ry="2.40" fill="#f47a7e"/>
<ellipse cx="136.30" cy="564.90" rx="3.00" ry="2.40" fill="#f47a7e"/>
<ellipse cx="136.30" cy="574.80" rx="3.00" ry="2.40" fill="#f47a7e"/>
<ellipse cx="136.30" cy="621.10" rx="3.00" ry="2.40" fill="#f47a7e"/>
<ellipse cx="136.30" cy="635.00" rx="3.00" ry="2.40" fill="#f47a7e"/>
<ellipse cx="136.30" cy="645.60" rx="3.00" ry="2.40" fill="#f47a7e"/>
<path d="M145.45 661.80 L145.45 608.45 L157.85 608.45 L157.85 661.80" stroke="#fb9f3c" stroke-width="1.50" fill="none" stroke-linejoin="miter"/>
<line x1="151.60" y1="611.70" x2="151.60" y2="601.30" stroke="#fb9f3c" stroke-width="1.50" stroke-linecap="butt"/>
<line x1="147.85" y1="601.30" x2="155.35" y2="601.30" stroke="#fb9f3c" stroke-width="1.50" stroke-linecap="butt"/>
<line x1="147.85" y1="611.70" x2="155.35" y2="611.70" stroke="#fb9f3c" stroke-width="1.50" stroke-linecap="butt"/>
<ellipse cx="151.60" cy="586.20" rx="3.00" ry="2.40" fill="#fb9f3c"/>
<ellipse cx="154.60" cy="594.80" rx="3.00" ry="2.40" fill="#fb9f3c"/>
<ellipse cx="148.20" cy="598.20" rx="3.00" ry="2.40" fill="#fb9f3c"/>
<ellipse cx="153.60" cy="605.30" rx="3.00" ry="2.40" fill="#fb9f3c"/>
<ellipse cx="148.20" cy="604.10" rx="3.00" ry="2.40" fill="#fb9f3c"/>
<ellipse cx="151.60" cy="613.70" rx="3.00" ry="2.40" fill="#fb9f3c"/>
<ellipse cx="151.60" cy="623.70" rx="3.00" ry="2.40" fill="#fb9f3c"/>
<ellipse cx="151.60" cy="633.60" rx="3.00" ry="2.40" fill="#fb9f3c"/>
<path d="M173.35 661.80 L173.35 650.65 L185.45 650.65 L185.45 661.80" stroke="#4b9cfb" stroke-width="1.50" fill="none" stroke-linejoin="miter"/>
<ellipse cx="179.40" cy="646.20" rx="3.00" ry="2.40" fill="#4b9cfb"/>
<ellipse cx="176.60" cy="650.80" rx="3.00" ry="2.40" fill="#4b9cfb"/>
<ellipse cx="183.10" cy="650.80" rx="3.00" ry="2.40" fill="#4b9cfb"/>
<ellipse cx="179.40" cy="652.70" rx="3.00" ry="2.40" fill="#4b9cfb"/>
<path d="M188.05 661.80 L188.05 619.25 L200.25 619.25 L200.25 661.80" stroke="#f47a7e" stroke-width="1.50" fill="none" stroke-linejoin="miter"/>
<line x1="193.80" y1="629.00" x2="193.80" y2="605.90" stroke="#f47a7e" stroke-width="1.50" stroke-linecap="butt"/>
<line x1="190.05" y1="605.90" x2="197.55" y2="605.90" stroke="#f47a7e" stroke-width="1.50" stroke-linecap="butt"/>
<line x1="190.05" y1="629.00" x2="197.55" y2="629.00" stroke="#f47a7e" stroke-width="1.50" stroke-linecap="butt"/>
<ellipse cx="193.80" cy="569.60" rx="3.00" ry="2.40" fill="#f47a7e"/>
<ellipse cx="193.80" cy="583.40" rx="3.00" ry="2.40" fill="#f47a7e"/>
<ellipse cx="193.80" cy="603.20" rx="3.00" ry="2.40" fill="#f47a7e"/>
<ellipse cx="193.80" cy="607.40" rx="3.00" ry="2.40" fill="#f47a7e"/>
<ellipse cx="193.80" cy="628.70" rx="3.00" ry="2.40" fill="#f47a7e"/>
<ellipse cx="193.80" cy="640.10" rx="3.00" ry="2.40" fill="#f47a7e"/>
<ellipse cx="193.80" cy="651.70" rx="3.00" ry="2.40" fill="#f47a7e"/>
<ellipse cx="193.80" cy="659.10" rx="3.00" ry="2.40" fill="#f47a7e"/>
<path d="M203.25 661.80 L203.25 631.25 L215.05 631.25 L215.05 661.80" stroke="#fb9f3c" stroke-width="1.50" fill="none" stroke-linejoin="miter"/>
<line x1="208.40" y1="632.40" x2="208.40" y2="625.00" stroke="#fb9f3c" stroke-width="1.50" stroke-linecap="butt"/>
<line x1="204.65" y1="625.00" x2="212.15" y2="625.00" stroke="#fb9f3c" stroke-width="1.50" stroke-linecap="butt"/>
<line x1="204.65" y1="632.40" x2="212.15" y2="632.40" stroke="#fb9f3c" stroke-width="1.50" stroke-linecap="butt"/>
<ellipse cx="208.40" cy="621.30" rx="3.00" ry="2.40" fill="#fb9f3c"/>
<ellipse cx="205.30" cy="626.40" rx="3.00" ry="2.40" fill="#fb9f3c"/>
<ellipse cx="211.70" cy="626.40" rx="3.00" ry="2.40" fill="#fb9f3c"/>
<ellipse cx="208.40" cy="629.60" rx="3.00" ry="2.40" fill="#fb9f3c"/>
<ellipse cx="208.40" cy="638.80" rx="3.00" ry="2.40" fill="#fb9f3c"/>
<ellipse cx="208.40" cy="645.30" rx="3.00" ry="2.40" fill="#fb9f3c"/>
<text x="66.90" y="575.98" font-size="10.00" text-anchor="start" fill="#352e30" style="font-style:italic;">P&lt;0.0001</text>
<path d="M78.50 584.40 L78.50 581.80 L93.40 581.80 L93.40 584.40" stroke="#000" stroke-width="1.30" fill="none" />
<text x="79.90" y="676.21" font-size="11.20" text-anchor="middle" fill="#352e30" style="font-style:italic;">Lgal3</text>
<text x="138.70" y="676.21" font-size="11.20" text-anchor="middle" fill="#352e30" style="font-style:italic;">Tnfa</text>
<text x="195.50" y="676.21" font-size="11.20" text-anchor="middle" fill="#352e30" style="font-style:italic;">Il-1β</text>
<circle cx="211.20" cy="533.00" r="3.10" fill="#4b9cfb"/>
<text x="219.10" y="536.62" font-size="10.40" text-anchor="start" fill="#352e30" style="">MIN6</text>
<circle cx="211.20" cy="546.50" r="3.10" fill="#f47a7e"/>
<text x="219.10" y="550.22" font-size="10.40" text-anchor="start" fill="#352e30" style="" textLength="92.3" lengthAdjust="spacingAndGlyphs">MIN6+MΦ-KO-HFD</text>
<circle cx="211.20" cy="559.00" r="3.10" fill="#fb9f3c"/>
<text x="219.10" y="562.72" font-size="10.40" text-anchor="start" fill="#352e30" style="" textLength="92.5" lengthAdjust="spacingAndGlyphs">MIN6+MΦ-WT-HFD</text>
<text x="318.70" y="525.70" font-size="17.50" fill="#000">l</text>
<text x="343.60" y="580.67" font-size="10.80" text-anchor="middle" fill="#352e30" transform="rotate(-90 343.60 576.80)" textLength="66.0" lengthAdjust="spacingAndGlyphs">Gal3 (ng/ml)</text>
<line x1="367.80" y1="524.80" x2="367.80" y2="626.20" stroke="#000" stroke-width="1.30" stroke-linecap="butt"/>
<line x1="364.20" y1="525.40" x2="367.80" y2="525.40" stroke="#000" stroke-width="1.30" stroke-linecap="butt"/>
<text x="363.30" y="529.12" font-size="10.40" text-anchor="end" fill="#352e30" style="">12</text>
<line x1="364.20" y1="550.50" x2="367.80" y2="550.50" stroke="#000" stroke-width="1.30" stroke-linecap="butt"/>
<text x="363.30" y="554.22" font-size="10.40" text-anchor="end" fill="#352e30" style="">9</text>
<line x1="364.20" y1="575.50" x2="367.80" y2="575.50" stroke="#000" stroke-width="1.30" stroke-linecap="butt"/>
<text x="363.30" y="579.22" font-size="10.40" text-anchor="end" fill="#352e30" style="">6</text>
<line x1="364.20" y1="600.60" x2="367.80" y2="600.60" stroke="#000" stroke-width="1.30" stroke-linecap="butt"/>
<text x="363.30" y="604.32" font-size="10.40" text-anchor="end" fill="#352e30" style="">3</text>
<line x1="364.20" y1="625.60" x2="367.80" y2="625.60" stroke="#000" stroke-width="1.30" stroke-linecap="butt"/>
<text x="363.30" y="629.32" font-size="10.40" text-anchor="end" fill="#352e30" style="">0</text>
<line x1="367.20" y1="625.60" x2="437.00" y2="625.60" stroke="#000" stroke-width="1.30" stroke-linecap="butt"/>
<line x1="379.80" y1="625.60" x2="379.80" y2="629.60" stroke="#000" stroke-width="1.30" stroke-linecap="butt"/>
<line x1="402.20" y1="625.60" x2="402.20" y2="629.60" stroke="#000" stroke-width="1.30" stroke-linecap="butt"/>
<line x1="425.30" y1="625.60" x2="425.30" y2="629.60" stroke="#000" stroke-width="1.30" stroke-linecap="butt"/>
<path d="M373.25 625.60 L373.25 624.75 L386.25 624.75 L386.25 625.60" stroke="#4b9cfb" stroke-width="1.50" fill="none" stroke-linejoin="miter"/>
<circle cx="375.20" cy="624.60" r="3.20" fill="#4b9cfb"/>
<circle cx="377.00" cy="623.00" r="3.20" fill="#4b9cfb"/>
<circle cx="379.50" cy="625.20" r="3.20" fill="#4b9cfb"/>
<circle cx="382.50" cy="622.80" r="3.20" fill="#4b9cfb"/>
<circle cx="384.00" cy="624.60" r="3.20" fill="#4b9cfb"/>
<path d="M396.25 625.60 L396.25 623.45 L408.75 623.45 L408.75 625.60" stroke="#f47a7e" stroke-width="1.50" fill="none" stroke-linejoin="miter"/>
<circle cx="398.00" cy="623.00" r="3.20" fill="#f47a7e"/>
<circle cx="400.50" cy="622.00" r="3.20" fill="#f47a7e"/>
<circle cx="403.00" cy="623.60" r="3.20" fill="#f47a7e"/>
<circle cx="405.50" cy="622.00" r="3.20" fill="#f47a7e"/>
<circle cx="407.50" cy="623.00" r="3.20" fill="#f47a7e"/>
<path d="M417.85 625.60 L417.85 571.65 L433.35 571.65 L433.35 625.60" stroke="#fb9f3c" stroke-width="1.50" fill="none" stroke-linejoin="miter"/>
<line x1="425.40" y1="587.70" x2="425.40" y2="555.20" stroke="#fb9f3c" stroke-width="1.50" stroke-linecap="butt"/>
<line x1="421.65" y1="555.20" x2="429.15" y2="555.20" stroke="#fb9f3c" stroke-width="1.50" stroke-linecap="butt"/>
<line x1="421.65" y1="587.70" x2="429.15" y2="587.70" stroke="#fb9f3c" stroke-width="1.50" stroke-linecap="butt"/>
<circle cx="425.40" cy="544.40" r="3.10" fill="#fb9f3c"/>
<circle cx="425.40" cy="551.40" r="3.10" fill="#fb9f3c"/>
<circle cx="425.40" cy="564.30" r="3.10" fill="#fb9f3c"/>
<circle cx="421.50" cy="575.90" r="3.10" fill="#fb9f3c"/>
<circle cx="428.40" cy="579.40" r="3.10" fill="#fb9f3c"/>
<circle cx="422.50" cy="579.00" r="3.10" fill="#fb9f3c"/>
<circle cx="425.40" cy="582.50" r="3.10" fill="#fb9f3c"/>
<circle cx="425.40" cy="586.00" r="3.10" fill="#fb9f3c"/>
<circle cx="425.40" cy="590.30" r="3.10" fill="#fb9f3c"/>
<line x1="380.40" y1="542.20" x2="409.90" y2="542.20" stroke="#000" stroke-width="1.30" stroke-linecap="butt"/>
<path d="M396.40 538.40 L396.40 533.20 L426.10 533.20 L426.10 538.40" stroke="#000" stroke-width="1.30" fill="none" />
<text x="392.00" y="528.58" font-size="10.00" text-anchor="start" fill="#352e30" style="font-style:italic;">P&lt;0.0001</text>
<text x="461.70" y="525.70" font-size="17.50" fill="#000">m</text>
<text x="480.10" y="604.07" font-size="10.80" text-anchor="middle" fill="#352e30" transform="rotate(-90 480.10 600.20)" textLength="76.5" lengthAdjust="spacingAndGlyphs">Insulin (ng/ml)</text>
<line x1="506.80" y1="549.70" x2="506.80" y2="662.40" stroke="#000" stroke-width="1.30" stroke-linecap="butt"/>
<line x1="503.20" y1="550.30" x2="506.80" y2="550.30" stroke="#000" stroke-width="1.30" stroke-linecap="butt"/>
<text x="501.00" y="554.02" font-size="10.40" text-anchor="end" fill="#352e30" style="">50</text>
<line x1="503.20" y1="572.60" x2="506.80" y2="572.60" stroke="#000" stroke-width="1.30" stroke-linecap="butt"/>
<text x="501.00" y="576.32" font-size="10.40" text-anchor="end" fill="#352e30" style="">40</text>
<line x1="503.20" y1="594.90" x2="506.80" y2="594.90" stroke="#000" stroke-width="1.30" stroke-linecap="butt"/>
<text x="501.00" y="598.62" font-size="10.40" text-anchor="end" fill="#352e30" style="">30</text>
<line x1="503.20" y1="617.20" x2="506.80" y2="617.20" stroke="#000" stroke-width="1.30" stroke-linecap="butt"/>
<text x="501.00" y="620.92" font-size="10.40" text-anchor="end" fill="#352e30" style="">20</text>
<line x1="503.20" y1="639.50" x2="506.80" y2="639.50" stroke="#000" stroke-width="1.30" stroke-linecap="butt"/>
<text x="501.00" y="643.22" font-size="10.40" text-anchor="end" fill="#352e30" style="">10</text>
<line x1="503.20" y1="661.80" x2="506.80" y2="661.80" stroke="#000" stroke-width="1.30" stroke-linecap="butt"/>
<text x="501.00" y="665.52" font-size="10.40" text-anchor="end" fill="#352e30" style="">0</text>
<line x1="506.20" y1="661.80" x2="673.20" y2="661.80" stroke="#000" stroke-width="1.30" stroke-linecap="butt"/>
<line x1="548.50" y1="661.80" x2="548.50" y2="665.80" stroke="#000" stroke-width="1.30" stroke-linecap="butt"/>
<line x1="631.50" y1="661.80" x2="631.50" y2="665.80" stroke="#000" stroke-width="1.30" stroke-linecap="butt"/>
<path d="M518.95 661.80 L518.95 636.05 L532.65 636.05 L532.65 661.80" stroke="#4b9cfb" stroke-width="1.50" fill="none" stroke-linejoin="miter"/>
<line x1="525.80" y1="639.30" x2="525.80" y2="629.90" stroke="#4b9cfb" stroke-width="1.50" stroke-linecap="butt"/>
<line x1="522.05" y1="629.90" x2="529.55" y2="629.90" stroke="#4b9cfb" stroke-width="1.50" stroke-linecap="butt"/>
<line x1="522.05" y1="639.30" x2="529.55" y2="639.30" stroke="#4b9cfb" stroke-width="1.50" stroke-linecap="butt"/>
<circle cx="525.20" cy="624.60" r="3.00" fill="#4b9cfb"/>
<circle cx="521.70" cy="631.10" r="3.00" fill="#4b9cfb"/>
<circle cx="528.70" cy="631.80" r="3.00" fill="#4b9cfb"/>
<circle cx="525.20" cy="635.30" r="3.00" fill="#4b9cfb"/>
<circle cx="521.70" cy="646.30" r="3.00" fill="#4b9cfb"/>
<circle cx="528.70" cy="645.60" r="3.00" fill="#4b9cfb"/>
<path d="M541.15 661.80 L541.15 652.45 L555.55 652.45 L555.55 661.80" stroke="#f47a7e" stroke-width="1.50" fill="none" stroke-linejoin="miter"/>
<circle cx="548.50" cy="639.30" r="3.00" fill="#f47a7e"/>
<circle cx="543.50" cy="652.50" r="3.00" fill="#f47a7e"/>
<circle cx="548.50" cy="653.50" r="3.00" fill="#f47a7e"/>
<circle cx="553.50" cy="652.50" r="3.00" fill="#f47a7e"/>
<circle cx="546.00" cy="656.00" r="3.00" fill="#f47a7e"/>
<circle cx="551.00" cy="656.00" r="3.00" fill="#f47a7e"/>
<path d="M564.05 661.80 L564.05 655.25 L578.65 655.25 L578.65 661.80" stroke="#fb9f3c" stroke-width="1.50" fill="none" stroke-linejoin="miter"/>
<circle cx="566.00" cy="655.00" r="3.00" fill="#fb9f3c"/>
<circle cx="571.00" cy="654.00" r="3.00" fill="#fb9f3c"/>
<circle cx="576.00" cy="655.00" r="3.00" fill="#fb9f3c"/>
<circle cx="568.50" cy="658.00" r="3.00" fill="#fb9f3c"/>
<circle cx="573.50" cy="658.00" r="3.00" fill="#fb9f3c"/>
<circle cx="571.00" cy="660.00" r="3.00" fill="#fb9f3c"/>
<path d="M601.85 661.80 L601.85 582.75 L616.75 582.75 L616.75 661.80" stroke="#4b9cfb" stroke-width="1.50" fill="none" stroke-linejoin="miter"/>
<line x1="609.30" y1="587.90" x2="609.30" y2="577.40" stroke="#4b9cfb" stroke-width="1.50" stroke-linecap="butt"/>
<line x1="605.55" y1="577.40" x2="613.05" y2="577.40" stroke="#4b9cfb" stroke-width="1.50" stroke-linecap="butt"/>
<line x1="605.55" y1="587.90" x2="613.05" y2="587.90" stroke="#4b9cfb" stroke-width="1.50" stroke-linecap="butt"/>
<circle cx="604.60" cy="566.20" r="3.00" fill="#4b9cfb"/>
<circle cx="613.20" cy="566.20" r="3.00" fill="#4b9cfb"/>
<circle cx="609.30" cy="569.20" r="3.00" fill="#4b9cfb"/>
<circle cx="609.30" cy="581.60" r="3.00" fill="#4b9cfb"/>
<circle cx="605.80" cy="588.60" r="3.00" fill="#4b9cfb"/>
<circle cx="614.00" cy="591.40" r="3.00" fill="#4b9cfb"/>
<circle cx="605.30" cy="598.40" r="3.00" fill="#4b9cfb"/>
<circle cx="612.80" cy="597.20" r="3.00" fill="#4b9cfb"/>
<path d="M625.25 661.80 L625.25 589.85 L639.35 589.85 L639.35 661.80" stroke="#f47a7e" stroke-width="1.50" fill="none" stroke-linejoin="miter"/>
<line x1="632.30" y1="592.00" x2="632.30" y2="586.00" stroke="#f47a7e" stroke-width="1.50" stroke-linecap="butt"/>
<line x1="628.55" y1="586.00" x2="636.05" y2="586.00" stroke="#f47a7e" stroke-width="1.50" stroke-linecap="butt"/>
<line x1="628.55" y1="592.00" x2="636.05" y2="592.00" stroke="#f47a7e" stroke-width="1.50" stroke-linecap="butt"/>
<circle cx="631.90" cy="578.10" r="3.00" fill="#f47a7e"/>
<circle cx="637.30" cy="582.50" r="3.00" fill="#f47a7e"/>
<circle cx="628.00" cy="586.70" r="3.00" fill="#f47a7e"/>
<circle cx="632.60" cy="590.20" r="3.00" fill="#f47a7e"/>
<circle cx="636.10" cy="590.20" r="3.00" fill="#f47a7e"/>
<circle cx="629.10" cy="594.90" r="3.00" fill="#f47a7e"/>
<circle cx="633.80" cy="596.10" r="3.00" fill="#f47a7e"/>
<path d="M647.85 661.80 L647.85 604.95 L662.25 604.95 L662.25 661.80" stroke="#fb9f3c" stroke-width="1.50" fill="none" stroke-linejoin="miter"/>
<line x1="655.00" y1="607.70" x2="655.00" y2="601.20" stroke="#fb9f3c" stroke-width="1.50" stroke-linecap="butt"/>
<line x1="651.25" y1="601.20" x2="658.75" y2="601.20" stroke="#fb9f3c" stroke-width="1.50" stroke-linecap="butt"/>
<line x1="651.25" y1="607.70" x2="658.75" y2="607.70" stroke="#fb9f3c" stroke-width="1.50" stroke-linecap="butt"/>
<circle cx="658.30" cy="591.40" r="3.00" fill="#fb9f3c"/>
<circle cx="651.30" cy="596.10" r="3.00" fill="#fb9f3c"/>
<circle cx="659.50" cy="601.90" r="3.00" fill="#fb9f3c"/>
<circle cx="650.20" cy="605.40" r="3.00" fill="#fb9f3c"/>
<circle cx="653.70" cy="606.60" r="3.00" fill="#fb9f3c"/>
<circle cx="657.50" cy="607.50" r="3.00" fill="#fb9f3c"/>
<circle cx="654.80" cy="614.30" r="3.00" fill="#fb9f3c"/>
<circle cx="650.20" cy="610.10" r="3.00" fill="#fb9f3c"/>
<path d="M525.20 600.30 L525.20 596.50 L569.60 596.50 L569.60 600.30" stroke="#000" stroke-width="1.30" fill="none" />
<text x="524.50" y="593.08" font-size="10.00" text-anchor="start" fill="#352e30" style="font-style:italic;">P&lt;0.0001</text>
<path d="M525.20 619.00 L525.20 615.20 L549.70 615.20 L549.70 619.00" stroke="#000" stroke-width="1.30" fill="none" />
<text x="518.20" y="612.98" font-size="10.00" text-anchor="start" fill="#352e30" style="font-style:italic;">P=0.0004</text>
<path d="M612.80 559.20 L612.80 555.20 L653.00 555.20 L653.00 559.20" stroke="#000" stroke-width="1.30" fill="none" />
<text x="621.70" y="550.58" font-size="10.00" text-anchor="start" fill="#352e30" style="font-style:italic;">P=0.001</text>
<path d="M633.10 573.90 L633.10 570.80 L657.20 570.80 L657.20 573.90" stroke="#000" stroke-width="1.30" fill="none" />
<text x="623.80" y="569.28" font-size="10.00" text-anchor="start" fill="#352e30" style="font-style:italic;">P=0.001</text>
<circle cx="510.90" cy="523.00" r="3.20" fill="#4b9cfb"/>
<text x="524.10" y="525.82" font-size="10.40" text-anchor="start" fill="#352e30" style="">MIN6</text>
<circle cx="510.90" cy="535.80" r="3.20" fill="#f47a7e"/>
<text x="524.10" y="539.12" font-size="10.40" text-anchor="start" fill="#352e30" style="" textLength="93.5" lengthAdjust="spacingAndGlyphs">MIN6+MΦ-KO-HFD</text>
<circle cx="511.40" cy="548.60" r="3.20" fill="#fb9f3c"/>
<text x="524.10" y="551.02" font-size="10.40" text-anchor="start" fill="#352e30" style="" textLength="93.6" lengthAdjust="spacingAndGlyphs">MIN6+MΦ-WT-HFD</text>
<text x="552.00" y="676.92" font-size="10.40" text-anchor="middle" fill="#352e30" style="">2.8 mM Glu</text>
<text x="636.40" y="676.92" font-size="10.40" text-anchor="middle" fill="#352e30" style="">16.8 mM Glu</text>
<text x="2.00" y="188.60" font-size="17.50" fill="#000">e</text>
<text x="7.40" y="255.77" font-size="10.80" text-anchor="middle" fill="#352e30" transform="rotate(-90 7.40 251.90)">Insulin</text>
<text x="19.80" y="253.57" font-size="10.80" text-anchor="middle" fill="#352e30" transform="rotate(-90 19.80 249.70)" textLength="88.5" lengthAdjust="spacingAndGlyphs">(ng/100 islets/min)</text>
<line x1="42.20" y1="195.90" x2="42.20" y2="301.50" stroke="#000" stroke-width="1.30" stroke-linecap="butt"/>
<line x1="38.60" y1="196.50" x2="42.20" y2="196.50" stroke="#000" stroke-width="1.30" stroke-linecap="butt"/>
<text x="37.70" y="200.22" font-size="10.40" text-anchor="end" fill="#352e30" style="">6</text>
<line x1="38.60" y1="213.90" x2="42.20" y2="213.90" stroke="#000" stroke-width="1.30" stroke-linecap="butt"/>
<text x="37.70" y="217.62" font-size="10.40" text-anchor="end" fill="#352e30" style="">5</text>
<line x1="38.60" y1="231.30" x2="42.20" y2="231.30" stroke="#000" stroke-width="1.30" stroke-linecap="butt"/>
<text x="37.70" y="235.02" font-size="10.40" text-anchor="end" fill="#352e30" style="">4</text>
<line x1="38.60" y1="248.70" x2="42.20" y2="248.70" stroke="#000" stroke-width="1.30" stroke-linecap="butt"/>
<text x="37.70" y="252.42" font-size="10.40" text-anchor="end" fill="#352e30" style="">3</text>
<line x1="38.60" y1="266.10" x2="42.20" y2="266.10" stroke="#000" stroke-width="1.30" stroke-linecap="butt"/>
<text x="37.70" y="269.82" font-size="10.40" text-anchor="end" fill="#352e30" style="">2</text>
<line x1="38.60" y1="283.50" x2="42.20" y2="283.50" stroke="#000" stroke-width="1.30" stroke-linecap="butt"/>
<text x="37.70" y="287.22" font-size="10.40" text-anchor="end" fill="#352e30" style="">1</text>
<line x1="38.60" y1="300.90" x2="42.20" y2="300.90" stroke="#000" stroke-width="1.30" stroke-linecap="butt"/>
<text x="37.70" y="304.62" font-size="10.40" text-anchor="end" fill="#352e30" style="">0</text>
<line x1="41.60" y1="300.90" x2="217.20" y2="300.90" stroke="#000" stroke-width="1.30" stroke-linecap="butt"/>
<line x1="42.20" y1="300.90" x2="42.20" y2="304.90" stroke="#000" stroke-width="1.30" stroke-linecap="butt"/>
<line x1="59.70" y1="300.90" x2="59.70" y2="304.90" stroke="#000" stroke-width="1.30" stroke-linecap="butt"/>
<line x1="77.20" y1="300.90" x2="77.20" y2="304.90" stroke="#000" stroke-width="1.30" stroke-linecap="butt"/>
<line x1="94.70" y1="300.90" x2="94.70" y2="304.90" stroke="#000" stroke-width="1.30" stroke-linecap="butt"/>
<line x1="112.20" y1="300.90" x2="112.20" y2="304.90" stroke="#000" stroke-width="1.30" stroke-linecap="butt"/>
<line x1="129.70" y1="300.90" x2="129.70" y2="304.90" stroke="#000" stroke-width="1.30" stroke-linecap="butt"/>
<line x1="147.20" y1="300.90" x2="147.20" y2="304.90" stroke="#000" stroke-width="1.30" stroke-linecap="butt"/>
<line x1="164.70" y1="300.90" x2="164.70" y2="304.90" stroke="#000" stroke-width="1.30" stroke-linecap="butt"/>
<line x1="182.20" y1="300.90" x2="182.20" y2="304.90" stroke="#000" stroke-width="1.30" stroke-linecap="butt"/>
<line x1="199.70" y1="300.90" x2="199.70" y2="304.90" stroke="#000" stroke-width="1.30" stroke-linecap="butt"/>
<line x1="217.20" y1="300.90" x2="217.20" y2="304.90" stroke="#000" stroke-width="1.30" stroke-linecap="butt"/>
<text x="42.20" y="313.52" font-size="10.40" text-anchor="middle" fill="#352e30" style="">0</text>
<text x="59.70" y="313.52" font-size="10.40" text-anchor="middle" fill="#352e30" style="">10</text>
<text x="77.20" y="313.52" font-size="10.40" text-anchor="middle" fill="#352e30" style="">20</text>
<text x="94.70" y="313.52" font-size="10.40" text-anchor="middle" fill="#352e30" style="">30</text>
<text x="112.20" y="313.52" font-size="10.40" text-anchor="middle" fill="#352e30" style="">40</text>
<text x="129.70" y="313.52" font-size="10.40" text-anchor="middle" fill="#352e30" style="">50</text>
<text x="147.20" y="313.52" font-size="10.40" text-anchor="middle" fill="#352e30" style="">60</text>
<text x="164.70" y="313.52" font-size="10.40" text-anchor="middle" fill="#352e30" style="">70</text>
<text x="182.20" y="313.52" font-size="10.40" text-anchor="middle" fill="#352e30" style="">80</text>
<text x="199.70" y="313.52" font-size="10.40" text-anchor="middle" fill="#352e30" style="">90</text>
<text x="217.20" y="313.52" font-size="10.40" text-anchor="middle" fill="#352e30" style="">100</text>
<text x="119.00" y="326.92" font-size="10.40" text-anchor="middle" fill="#352e30" style="">Time (min)</text>
<text x="58.80" y="195.18" font-size="10.00" text-anchor="start" fill="#352e30" style="" textLength="35.6" lengthAdjust="spacingAndGlyphs">2.8 Glu</text>
<text x="99.20" y="195.18" font-size="10.00" text-anchor="start" fill="#352e30" style="" textLength="40.9" lengthAdjust="spacingAndGlyphs">16.8 Glu</text>
<text x="146.80" y="195.18" font-size="10.00" text-anchor="start" fill="#352e30" style="" textLength="35.2" lengthAdjust="spacingAndGlyphs">2.8 Glu</text>
<line x1="58.80" y1="198.60" x2="94.50" y2="198.60" stroke="#000" stroke-width="1.40" stroke-linecap="butt"/>
<line x1="100.20" y1="198.60" x2="146.80" y2="198.60" stroke="#000" stroke-width="1.40" stroke-linecap="butt"/>
<line x1="149.90" y1="198.60" x2="179.50" y2="198.60" stroke="#000" stroke-width="1.40" stroke-linecap="butt"/>
<path d="M65.2 294.2 L72.4 295.5 L79.4 296.0 L86.0 296.8 L90.4 295.5 L95.4 292.9 L96.9 273.2 L98.7 264.4 L100.7 267.7 L102.4 276.5 L103.9 284.2 L105.7 287.4 L109.0 294.2 L112.3 294.6 L115.6 294.6 L118.9 294.6 L122.2 294.6 L125.4 294.0 L128.7 293.0 L132.0 293.0 L135.3 292.5 L139.0 289.0 L142.9 292.5 L146.2 295.1 L153.2 297.3 L160.0 298.4 L167.0 299.5 L170.9 299.5" stroke="#f47a7e" stroke-width="1.50" fill="none" stroke-linejoin="round"/>
<circle cx="65.20" cy="294.20" r="2.00" fill="#f47a7e"/>
<circle cx="72.40" cy="295.50" r="2.00" fill="#f47a7e"/>
<circle cx="79.40" cy="296.00" r="2.00" fill="#f47a7e"/>
<circle cx="86.00" cy="296.80" r="2.00" fill="#f47a7e"/>
<circle cx="90.40" cy="295.50" r="2.00" fill="#f47a7e"/>
<circle cx="95.40" cy="292.90" r="2.00" fill="#f47a7e"/>
<circle cx="96.90" cy="273.20" r="2.00" fill="#f47a7e"/>
<circle cx="98.70" cy="264.40" r="2.00" fill="#f47a7e"/>
<circle cx="100.70" cy="267.70" r="2.00" fill="#f47a7e"/>
<circle cx="102.40" cy="276.50" r="2.00" fill="#f47a7e"/>
<circle cx="103.90" cy="284.20" r="2.00" fill="#f47a7e"/>
<circle cx="105.70" cy="287.40" r="2.00" fill="#f47a7e"/>
<circle cx="109.00" cy="294.20" r="2.00" fill="#f47a7e"/>
<circle cx="112.30" cy="294.60" r="2.00" fill="#f47a7e"/>
<circle cx="115.60" cy="294.60" r="2.00" fill="#f47a7e"/>
<circle cx="118.90" cy="294.60" r="2.00" fill="#f47a7e"/>
<circle cx="122.20" cy="294.60" r="2.00" fill="#f47a7e"/>
<circle cx="125.40" cy="294.00" r="2.00" fill="#f47a7e"/>
<circle cx="128.70" cy="293.00" r="2.00" fill="#f47a7e"/>
<circle cx="132.00" cy="293.00" r="2.00" fill="#f47a7e"/>
<circle cx="135.30" cy="292.50" r="2.00" fill="#f47a7e"/>
<circle cx="139.00" cy="289.00" r="2.00" fill="#f47a7e"/>
<circle cx="142.90" cy="292.50" r="2.00" fill="#f47a7e"/>
<circle cx="146.20" cy="295.10" r="2.00" fill="#f47a7e"/>
<circle cx="153.20" cy="297.30" r="2.00" fill="#f47a7e"/>
<circle cx="160.00" cy="298.40" r="2.00" fill="#f47a7e"/>
<circle cx="167.00" cy="299.50" r="2.00" fill="#f47a7e"/>
<circle cx="170.90" cy="299.50" r="2.00" fill="#f47a7e"/>
<path d="M65.2 288.5 L72.4 287.4 L79.4 291.8 L87.1 296.2 L88.2 292.9 L90.4 297.0 L92.5 297.7 L95.2 262.9 L96.9 205.3 L99.1 206.4 L100.9 214.5 L102.4 233.8 L104.2 236.4 L105.7 258.3 L109.6 266.6 L112.9 272.8 L116.6 271.7 L119.9 273.9 L123.2 271.5 L126.7 275.4 L129.8 268.2 L134.2 266.2 L139.6 271.0 L146.2 278.2 L153.2 292.3 L160.0 295.5 L167.0 296.6 L170.9 297.7 L174.7 297.7" stroke="#4b9cfb" stroke-width="1.50" fill="none" stroke-linejoin="round"/>
<circle cx="65.20" cy="288.50" r="2.00" fill="#4b9cfb"/>
<circle cx="72.40" cy="287.40" r="2.00" fill="#4b9cfb"/>
<circle cx="79.40" cy="291.80" r="2.00" fill="#4b9cfb"/>
<circle cx="87.10" cy="296.20" r="2.00" fill="#4b9cfb"/>
<circle cx="88.20" cy="292.90" r="2.00" fill="#4b9cfb"/>
<circle cx="90.40" cy="297.00" r="2.00" fill="#4b9cfb"/>
<circle cx="92.50" cy="297.70" r="2.00" fill="#4b9cfb"/>
<circle cx="95.20" cy="262.90" r="2.00" fill="#4b9cfb"/>
<circle cx="96.90" cy="205.30" r="2.00" fill="#4b9cfb"/>
<circle cx="99.10" cy="206.40" r="2.00" fill="#4b9cfb"/>
<circle cx="100.90" cy="214.50" r="2.00" fill="#4b9cfb"/>
<circle cx="102.40" cy="233.80" r="2.00" fill="#4b9cfb"/>
<circle cx="104.20" cy="236.40" r="2.00" fill="#4b9cfb"/>
<circle cx="105.70" cy="258.30" r="2.00" fill="#4b9cfb"/>
<circle cx="109.60" cy="266.60" r="2.00" fill="#4b9cfb"/>
<circle cx="112.90" cy="272.80" r="2.00" fill="#4b9cfb"/>
<circle cx="116.60" cy="271.70" r="2.00" fill="#4b9cfb"/>
<circle cx="119.90" cy="273.90" r="2.00" fill="#4b9cfb"/>
<circle cx="123.20" cy="271.50" r="2.00" fill="#4b9cfb"/>
<circle cx="126.70" cy="275.40" r="2.00" fill="#4b9cfb"/>
<circle cx="129.80" cy="268.20" r="2.00" fill="#4b9cfb"/>
<circle cx="134.20" cy="266.20" r="2.00" fill="#4b9cfb"/>
<circle cx="139.60" cy="271.00" r="2.00" fill="#4b9cfb"/>
<circle cx="146.20" cy="278.20" r="2.00" fill="#4b9cfb"/>
<circle cx="153.20" cy="292.30" r="2.00" fill="#4b9cfb"/>
<circle cx="160.00" cy="295.50" r="2.00" fill="#4b9cfb"/>
<circle cx="167.00" cy="296.60" r="2.00" fill="#4b9cfb"/>
<circle cx="170.90" cy="297.70" r="2.00" fill="#4b9cfb"/>
<circle cx="174.70" cy="297.70" r="2.00" fill="#4b9cfb"/>
<line x1="164.60" y1="214.70" x2="174.20" y2="214.70" stroke="#000" stroke-width="1.30" stroke-linecap="butt"/>
<line x1="166.50" y1="214.70" x2="172.30" y2="214.70" stroke="#4b9cfb" stroke-width="1.50" stroke-linecap="butt"/>
<circle cx="169.70" cy="214.70" r="2.00" fill="#4b9cfb"/>
<text x="182.00" y="216.92" font-size="10.40" text-anchor="start" fill="#352e30" style="">Vehicle</text>
<line x1="164.60" y1="227.40" x2="174.20" y2="227.40" stroke="#f47a7e" stroke-width="1.50" stroke-linecap="butt"/>
<circle cx="169.70" cy="227.40" r="2.00" fill="#f47a7e"/>
<text x="182.00" y="230.02" font-size="10.40" text-anchor="start" fill="#352e30" style="">Gal3</text>
<text x="379.60" y="635.17" font-size="10.80" text-anchor="end" fill="#352e30" style="" transform="rotate(-45 379.6 631.3)">MIN6</text>
<text x="398.80" y="634.67" font-size="10.80" text-anchor="end" fill="#352e30" style="" transform="rotate(-45 398.8 630.8)">MIN6+</text>
<text x="408.80" y="644.97" font-size="10.80" text-anchor="end" fill="#352e30" style="" transform="rotate(-45 408.8 641.1)">MΦ-KO-HFD</text>
<text x="429.60" y="638.07" font-size="10.80" text-anchor="end" fill="#352e30" style="" transform="rotate(-45 429.6 634.2)">MIN6+</text>
<text x="437.80" y="647.47" font-size="10.80" text-anchor="end" fill="#352e30" style="" transform="rotate(-45 437.8 643.6)">MΦ-WT-HFD</text>
<text x="445.00" y="188.80" font-size="17.50" fill="#000">h</text>
<text x="576.10" y="184.92" font-size="11.80" text-anchor="middle" fill="#352e30" style="" textLength="23.2" lengthAdjust="spacingAndGlyphs">HFD</text>
<g clip-path="url(#cp1)">
<rect x="466.60" y="188.90" width="71.10" height="70.90" fill="#000" stroke="none" stroke-width="0.00"/>
<path d="M466.6 202.4 L474.6 201.7 L482.6 201.2 L489.6 200.4 L494.1 198.4 L495.6 193.9 L496.6 188.9 L508.6 188.9 L511.6 190.9 L515.6 192.9 L518.6 196.9 L520.6 199.9 L523.6 203.9 L525.6 206.9 L528.6 210.9 L531.1 214.9 L532.1 218.9 L529.6 221.9 L527.6 225.9 L524.6 228.9 L522.6 231.9 L520.6 234.9 L518.6 238.9 L516.6 242.9 L515.1 246.4 L511.6 248.4 L507.6 249.9 L503.6 251.4 L499.6 253.4 L495.6 255.4 L492.6 257.9 L489.6 260.4 L466.6 260.4 Z" fill="#3e0a44" opacity="1.00"/>
<path d="M466.6 202.4 L474.6 201.7 L482.6 201.2 L489.6 200.4 L494.1 198.4 L495.6 193.9 L496.6 188.9 L508.6 188.9 L511.6 190.9 L515.6 192.9 L518.6 196.9 L520.6 199.9 L523.6 203.9 L525.6 206.9 L528.6 210.9 L531.1 214.9 L532.1 218.9 L529.6 221.9 L527.6 225.9 L524.6 228.9 L522.6 231.9 L520.6 234.9 L518.6 238.9 L516.6 242.9 L515.1 246.4 L511.6 248.4 L507.6 249.9 L503.6 251.4 L499.6 253.4 L495.6 255.4 L492.6 257.9 L489.6 260.4 L466.6 260.4 Z" fill="#fff" filter="url(#fmag)" opacity="1.00"/>
<circle cx="480.4" cy="208.9" r="5.0" fill="#e040e8" opacity="0.50" filter="url(#fblur1)"/>
<circle cx="492.4" cy="209.9" r="4.0" fill="#e040e8" opacity="0.45" filter="url(#fblur1)"/>
<circle cx="503.4" cy="213.9" r="4.0" fill="#e040e8" opacity="0.40" filter="url(#fblur1)"/>
<circle cx="520.4" cy="206.9" r="2.5" fill="#e040e8" opacity="0.60" filter="url(#fblur1)"/>
<circle cx="526.4" cy="214.9" r="2.0" fill="#e040e8" opacity="0.70" filter="url(#fblur1)"/>
<circle cx="529.4" cy="218.9" r="2.0" fill="#e040e8" opacity="0.70" filter="url(#fblur1)"/>
<circle cx="522.4" cy="225.9" r="2.0" fill="#e040e8" opacity="0.60" filter="url(#fblur1)"/>
<circle cx="516.4" cy="235.9" r="2.0" fill="#e040e8" opacity="0.60" filter="url(#fblur1)"/>
<circle cx="512.4" cy="244.9" r="2.2" fill="#e040e8" opacity="0.60" filter="url(#fblur1)"/>
<circle cx="505.4" cy="249.9" r="2.0" fill="#e040e8" opacity="0.60" filter="url(#fblur1)"/>
<circle cx="500.4" cy="202.9" r="3.0" fill="#e040e8" opacity="0.45" filter="url(#fblur1)"/>
<circle cx="511.4" cy="191.9" r="2.0" fill="#e040e8" opacity="0.60" filter="url(#fblur1)"/>
<circle cx="486.4" cy="231.9" r="4.0" fill="#e040e8" opacity="0.30" filter="url(#fblur1)"/>
<circle cx="476.4" cy="242.9" r="3.5" fill="#e040e8" opacity="0.30" filter="url(#fblur1)"/>
<text x="468.80" y="200.40" font-size="9.50" text-anchor="start" fill="#e048e0" style="" textLength="25.8" lengthAdjust="spacingAndGlyphs">Insulin</text>
<line x1="469.20" y1="256.10" x2="486.90" y2="256.10" stroke="#f4f4f4" stroke-width="1.60" stroke-linecap="butt"/>
<text x="469.20" y="252.02" font-size="9.00" text-anchor="start" fill="#e6e6e6" style="font-family:'Liberation Serif', serif;" textLength="23.5" lengthAdjust="spacingAndGlyphs">50 µm</text>
</g>
<g clip-path="url(#cp2)">
<rect x="540.10" y="188.90" width="70.70" height="70.90" fill="#000" stroke="none" stroke-width="0.00"/>
<path d="M551.3 239.8h1.0v1.0h-1.0zM554.8 246.2h1.1v1.1h-1.1zM575.5 211.4h0.6v0.6h-0.6zM556.0 199.0h1.2v1.2h-1.2zM601.7 235.3h0.6v0.6h-0.6zM574.7 203.6h1.2v1.2h-1.2zM571.7 231.2h0.8v0.8h-0.8zM552.8 198.7h1.1v1.1h-1.1zM608.1 252.6h1.1v1.1h-1.1zM580.8 242.5h0.7v0.7h-0.7zM604.9 252.3h0.8v0.8h-0.8zM571.4 220.6h1.2v1.2h-1.2zM574.7 227.4h0.9v0.9h-0.9zM555.3 234.7h0.9v0.9h-0.9zM544.2 247.5h1.1v1.1h-1.1zM568.3 258.5h1.2v1.2h-1.2zM602.1 227.4h0.8v0.8h-0.8zM544.5 247.0h1.1v1.1h-1.1zM577.0 242.4h0.6v0.6h-0.6zM598.8 246.4h1.1v1.1h-1.1zM569.7 232.9h1.1v1.1h-1.1zM588.2 256.6h0.6v0.6h-0.6zM585.1 250.0h1.0v1.0h-1.0zM546.5 202.5h0.6v0.6h-0.6zM577.7 216.8h0.9v0.9h-0.9zM551.4 208.1h0.8v0.8h-0.8zM589.8 251.3h1.1v1.1h-1.1zM540.3 225.8h0.6v0.6h-0.6zM552.1 241.3h0.8v0.8h-0.8zM561.9 199.1h0.8v0.8h-0.8zM561.6 240.4h0.9v0.9h-0.9zM544.0 247.6h1.2v1.2h-1.2zM544.8 247.6h1.1v1.1h-1.1zM585.2 224.3h0.9v0.9h-0.9zM568.2 210.8h0.6v0.6h-0.6zM557.0 240.6h1.1v1.1h-1.1zM571.9 211.4h0.8v0.8h-0.8zM584.4 257.2h0.7v0.7h-0.7zM574.3 241.4h1.1v1.1h-1.1zM589.5 209.4h0.8v0.8h-0.8zM587.7 212.7h1.2v1.2h-1.2zM557.7 249.7h0.7v0.7h-0.7zM553.8 234.1h0.8v0.8h-0.8zM606.2 225.8h0.9v0.9h-0.9zM559.5 207.5h0.8v0.8h-0.8zM553.1 257.0h0.6v0.6h-0.6zM605.9 240.9h0.6v0.6h-0.6zM542.4 234.6h1.0v1.0h-1.0zM540.3 230.8h0.7v0.7h-0.7zM552.9 221.8h0.9v0.9h-0.9zM597.2 234.6h1.0v1.0h-1.0zM596.3 217.8h0.8v0.8h-0.8zM544.4 228.6h1.0v1.0h-1.0zM558.9 200.3h0.6v0.6h-0.6zM605.5 230.4h0.8v0.8h-0.8zM554.8 199.0h0.8v0.8h-0.8zM584.0 207.3h1.0v1.0h-1.0zM577.2 253.5h1.2v1.2h-1.2zM564.5 235.0h1.0v1.0h-1.0zM585.3 206.5h1.2v1.2h-1.2zM610.1 231.3h1.1v1.1h-1.1zM602.2 219.4h0.6v0.6h-0.6zM552.2 230.3h1.1v1.1h-1.1zM548.9 198.2h0.9v0.9h-0.9zM605.1 229.2h1.1v1.1h-1.1zM548.4 211.6h0.9v0.9h-0.9zM594.1 243.7h1.0v1.0h-1.0zM570.1 220.2h0.9v0.9h-0.9zM581.0 246.9h1.0v1.0h-1.0zM567.4 196.6h1.0v1.0h-1.0zM580.5 259.3h0.7v0.7h-0.7zM565.8 248.4h0.9v0.9h-0.9zM567.2 236.0h1.0v1.0h-1.0zM600.9 243.7h0.8v0.8h-0.8zM594.8 246.2h1.2v1.2h-1.2zM599.7 252.6h0.6v0.6h-0.6zM584.4 205.5h1.1v1.1h-1.1zM588.0 215.1h0.7v0.7h-0.7zM574.9 241.4h0.7v0.7h-0.7zM563.4 237.3h0.8v0.8h-0.8zM549.6 200.0h1.0v1.0h-1.0zM590.9 233.9h0.9v0.9h-0.9zM584.7 236.5h0.8v0.8h-0.8zM593.0 236.5h0.9v0.9h-0.9zM555.6 246.2h0.6v0.6h-0.6zM571.8 210.3h1.0v1.0h-1.0zM545.9 227.4h0.7v0.7h-0.7zM568.4 244.4h0.7v0.7h-0.7zM577.8 201.9h0.7v0.7h-0.7zM576.6 238.3h0.6v0.6h-0.6zM562.2 253.9h0.8v0.8h-0.8zM542.0 227.7h1.1v1.1h-1.1zM607.8 245.2h1.0v1.0h-1.0zM551.2 217.8h1.0v1.0h-1.0zM567.3 247.0h0.6v0.6h-0.6zM546.0 216.8h1.1v1.1h-1.1zM550.3 216.0h0.7v0.7h-0.7zM569.7 239.9h1.0v1.0h-1.0zM579.1 219.4h0.7v0.7h-0.7zM569.9 209.2h0.6v0.6h-0.6zM601.0 217.6h1.0v1.0h-1.0zM585.6 224.7h1.0v1.0h-1.0zM566.6 258.0h0.7v0.7h-0.7zM584.0 213.7h0.8v0.8h-0.8zM602.7 248.1h1.2v1.2h-1.2zM589.1 228.6h1.2v1.2h-1.2zM571.9 244.6h0.6v0.6h-0.6zM547.6 228.6h0.8v0.8h-0.8zM590.0 222.5h0.8v0.8h-0.8zM549.1 218.0h1.2v1.2h-1.2zM584.4 248.0h0.8v0.8h-0.8zM540.0 218.0h0.7v0.7h-0.7zM557.6 210.1h0.8v0.8h-0.8zM600.0 243.3h1.0v1.0h-1.0zM607.9 254.2h0.9v0.9h-0.9zM551.6 231.1h0.7v0.7h-0.7zM561.5 205.3h1.0v1.0h-1.0zM543.9 256.1h1.2v1.2h-1.2zM580.2 219.3h1.0v1.0h-1.0zM570.9 243.7h0.7v0.7h-0.7zM544.6 253.9h0.7v0.7h-0.7zM561.9 213.0h0.8v0.8h-0.8zM554.0 211.6h0.8v0.8h-0.8zM598.8 237.8h0.9v0.9h-0.9zM588.1 216.3h1.0v1.0h-1.0zM558.2 238.5h1.2v1.2h-1.2zM590.7 213.1h1.1v1.1h-1.1zM585.2 236.1h0.7v0.7h-0.7zM577.7 240.3h0.9v0.9h-0.9zM608.3 245.7h0.7v0.7h-0.7zM569.3 239.4h1.0v1.0h-1.0zM588.7 223.7h0.6v0.6h-0.6zM605.4 235.9h1.1v1.1h-1.1zM581.3 252.8h0.6v0.6h-0.6zM563.4 246.6h0.7v0.7h-0.7zM551.8 233.8h1.0v1.0h-1.0zM545.5 256.5h1.1v1.1h-1.1zM600.5 234.4h0.7v0.7h-0.7zM552.8 233.3h1.0v1.0h-1.0zM568.2 257.1h0.8v0.8h-0.8zM563.5 203.7h0.8v0.8h-0.8zM576.8 212.2h0.8v0.8h-0.8zM562.2 202.9h0.8v0.8h-0.8zM597.2 244.2h1.1v1.1h-1.1zM568.9 237.1h0.6v0.6h-0.6zM589.7 213.1h0.9v0.9h-0.9zM565.2 245.9h1.1v1.1h-1.1zM571.3 257.1h0.7v0.7h-0.7zM586.5 253.4h1.2v1.2h-1.2zM595.6 257.7h0.8v0.8h-0.8zM558.1 245.8h0.7v0.7h-0.7zM584.0 229.6h1.2v1.2h-1.2zM574.6 222.7h0.7v0.7h-0.7zM581.9 234.0h1.0v1.0h-1.0zM604.7 239.6h1.1v1.1h-1.1zM574.0 220.6h0.8v0.8h-0.8zM573.6 237.7h0.6v0.6h-0.6zM548.7 257.4h0.9v0.9h-0.9zM582.0 207.2h0.6v0.6h-0.6zM599.6 220.9h0.9v0.9h-0.9zM588.6 245.5h1.1v1.1h-1.1zM573.3 245.8h0.8v0.8h-0.8zM584.5 250.1h0.7v0.7h-0.7zM555.0 206.3h0.9v0.9h-0.9zM585.0 256.2h0.7v0.7h-0.7zM558.0 198.9h1.0v1.0h-1.0zM555.4 254.4h1.0v1.0h-1.0zM552.7 249.8h0.8v0.8h-0.8zM577.0 236.4h0.9v0.9h-0.9zM601.5 229.1h0.6v0.6h-0.6zM606.5 258.0h0.9v0.9h-0.9zM540.9 212.0h0.9v0.9h-0.9zM544.3 217.4h1.0v1.0h-1.0zM552.1 241.2h0.9v0.9h-0.9zM597.1 241.8h0.9v0.9h-0.9zM566.2 201.1h1.1v1.1h-1.1z" fill="#b01010" fill-opacity="0.50"/>
<path d="M550.7 248.0h0.7v0.7h-0.7zM541.5 202.3h1.0v1.0h-1.0zM552.5 207.2h0.8v0.8h-0.8zM587.8 238.8h1.1v1.1h-1.1zM544.4 217.6h1.1v1.1h-1.1zM592.5 226.7h0.8v0.8h-0.8zM582.1 228.3h1.0v1.0h-1.0zM583.9 244.1h1.0v1.0h-1.0zM589.1 239.5h0.7v0.7h-0.7zM566.8 235.0h1.1v1.1h-1.1zM578.8 201.5h0.8v0.8h-0.8zM592.3 225.6h0.7v0.7h-0.7zM596.3 249.4h1.2v1.2h-1.2zM541.0 233.2h0.6v0.6h-0.6zM591.2 229.6h0.6v0.6h-0.6zM551.0 249.9h1.1v1.1h-1.1zM587.6 210.0h1.1v1.1h-1.1zM577.8 225.4h0.6v0.6h-0.6zM552.8 206.0h1.0v1.0h-1.0zM546.4 209.2h0.9v0.9h-0.9zM571.0 211.1h0.8v0.8h-0.8zM561.3 217.3h0.7v0.7h-0.7zM566.2 214.0h1.0v1.0h-1.0zM588.6 226.7h0.8v0.8h-0.8zM587.6 245.0h1.0v1.0h-1.0zM582.9 243.2h1.1v1.1h-1.1zM547.8 218.3h1.0v1.0h-1.0zM583.8 216.1h1.0v1.0h-1.0zM580.1 231.2h1.1v1.1h-1.1zM562.4 215.6h0.9v0.9h-0.9zM583.1 258.1h1.1v1.1h-1.1zM545.6 241.4h0.9v0.9h-0.9zM577.4 243.7h1.0v1.0h-1.0zM577.5 212.2h0.8v0.8h-0.8zM566.2 208.8h1.0v1.0h-1.0zM591.0 221.7h1.1v1.1h-1.1zM595.8 223.2h1.1v1.1h-1.1zM594.7 220.4h0.8v0.8h-0.8zM596.3 221.4h1.2v1.2h-1.2zM546.3 233.2h0.8v0.8h-0.8zM561.9 240.8h1.0v1.0h-1.0zM606.3 250.2h0.8v0.8h-0.8zM548.9 218.4h0.9v0.9h-0.9zM560.9 220.8h0.7v0.7h-0.7zM587.2 225.0h0.9v0.9h-0.9zM573.9 247.5h0.9v0.9h-0.9z" fill="#b01010" fill-opacity="0.75"/>
<path d="M564.2 234.1h0.8v0.8h-0.8zM557.9 214.7h0.9v0.9h-0.9zM577.3 213.7h1.1v1.1h-1.1zM568.2 256.6h1.1v1.1h-1.1zM549.6 251.0h1.0v1.0h-1.0zM575.1 230.9h1.2v1.2h-1.2zM562.3 259.0h0.7v0.7h-0.7zM561.8 216.1h0.8v0.8h-0.8zM571.8 252.8h0.8v0.8h-0.8zM595.6 248.2h0.9v0.9h-0.9zM592.6 244.3h0.7v0.7h-0.7zM560.6 235.8h1.1v1.1h-1.1zM587.9 237.6h0.7v0.7h-0.7zM606.1 255.3h1.1v1.1h-1.1zM541.6 238.4h0.7v0.7h-0.7zM591.6 247.6h0.9v0.9h-0.9zM548.3 251.8h1.0v1.0h-1.0zM562.8 217.2h0.7v0.7h-0.7zM555.3 203.5h0.9v0.9h-0.9zM580.5 207.8h1.2v1.2h-1.2zM570.2 238.3h0.8v0.8h-0.8zM567.1 205.2h0.6v0.6h-0.6zM554.6 198.0h1.1v1.1h-1.1zM583.5 207.0h1.1v1.1h-1.1zM548.0 230.1h0.6v0.6h-0.6zM566.1 217.9h0.9v0.9h-0.9zM587.7 256.7h0.7v0.7h-0.7zM597.8 225.8h0.6v0.6h-0.6zM554.2 228.9h0.7v0.7h-0.7zM578.5 246.5h0.9v0.9h-0.9zM574.3 253.2h1.1v1.1h-1.1zM554.2 207.0h1.0v1.0h-1.0zM580.7 213.4h1.0v1.0h-1.0zM592.2 215.7h1.0v1.0h-1.0zM573.5 212.6h1.2v1.2h-1.2zM585.4 216.3h0.7v0.7h-0.7zM582.4 232.5h1.1v1.1h-1.1zM576.3 223.8h1.0v1.0h-1.0z" fill="#b01010" fill-opacity="0.25"/>
<path d="M541.1 259.0h1.3v1.3h-1.3zM585.2 215.7h1.9v1.9h-1.9zM601.7 232.0h1.4v1.4h-1.4zM545.6 258.8h1.5v1.5h-1.5zM567.5 199.3h1.9v1.9h-1.9zM578.0 216.2h1.5v1.5h-1.5zM585.0 206.3h1.8v1.8h-1.8zM568.2 247.5h1.9v1.9h-1.9z" fill="#ff2020" fill-opacity="0.75"/>
<path d="M581.7 254.5h1.7v1.7h-1.7zM599.2 231.3h2.0v2.0h-2.0zM607.2 230.3h1.8v1.8h-1.8zM557.6 256.2h1.4v1.4h-1.4zM606.9 236.1h1.3v1.3h-1.3zM543.0 228.3h1.2v1.2h-1.2zM575.1 227.2h1.5v1.5h-1.5zM565.8 231.6h1.4v1.4h-1.4zM577.6 221.6h1.7v1.7h-1.7zM567.6 254.2h2.0v2.0h-2.0zM552.8 195.5h1.6v1.6h-1.6zM599.1 225.9h1.6v1.6h-1.6zM609.4 242.1h1.6v1.6h-1.6zM584.7 216.3h1.8v1.8h-1.8zM582.5 255.4h1.2v1.2h-1.2zM584.3 215.7h1.3v1.3h-1.3z" fill="#ff2020" fill-opacity="1.00"/>
<text x="542.40" y="200.40" font-size="9.50" text-anchor="start" fill="#e8201c" style="" textLength="25.9" lengthAdjust="spacingAndGlyphs">CD11c</text>
<line x1="542.40" y1="255.60" x2="559.70" y2="255.60" stroke="#f4f4f4" stroke-width="1.60" stroke-linecap="butt"/>
</g>
<g clip-path="url(#cp3)">
<rect x="613.20" y="188.90" width="70.70" height="70.90" fill="#000" stroke="none" stroke-width="0.00"/>
<path d="M613.7 203.6h0.8v0.8h-0.8zM622.6 203.6h0.7v0.7h-0.7zM619.2 197.6h1.2v1.2h-1.2zM627.6 210.1h1.0v1.0h-1.0zM680.2 249.2h0.8v0.8h-0.8zM672.0 258.8h0.6v0.6h-0.6zM674.2 237.5h0.7v0.7h-0.7zM664.3 208.6h1.0v1.0h-1.0zM615.7 217.6h0.8v0.8h-0.8zM626.3 254.4h1.0v1.0h-1.0zM619.4 221.4h1.1v1.1h-1.1zM644.9 246.8h0.9v0.9h-0.9zM621.2 208.7h0.8v0.8h-0.8zM673.1 226.4h0.9v0.9h-0.9zM632.4 219.8h1.0v1.0h-1.0zM615.6 203.6h0.7v0.7h-0.7zM661.7 257.6h1.1v1.1h-1.1zM621.7 251.0h0.6v0.6h-0.6zM627.3 208.5h1.1v1.1h-1.1zM625.7 225.0h1.0v1.0h-1.0zM673.5 221.7h0.9v0.9h-0.9zM621.3 223.3h0.7v0.7h-0.7zM634.4 223.2h1.0v1.0h-1.0zM615.0 235.0h1.1v1.1h-1.1zM627.1 247.7h0.8v0.8h-0.8zM670.6 220.7h0.7v0.7h-0.7zM637.2 240.4h0.8v0.8h-0.8zM617.4 212.1h1.0v1.0h-1.0zM615.2 226.9h0.8v0.8h-0.8zM613.2 196.5h0.8v0.8h-0.8zM634.0 253.8h0.9v0.9h-0.9zM651.1 216.7h0.7v0.7h-0.7zM660.2 229.0h1.1v1.1h-1.1zM640.1 239.0h0.9v0.9h-0.9zM641.9 248.3h0.7v0.7h-0.7zM616.1 256.4h1.0v1.0h-1.0zM682.4 246.7h0.6v0.6h-0.6zM634.9 199.3h0.8v0.8h-0.8zM644.0 205.5h0.6v0.6h-0.6zM643.9 226.7h0.9v0.9h-0.9zM676.4 248.4h1.0v1.0h-1.0zM653.0 253.7h0.8v0.8h-0.8zM615.5 242.4h0.9v0.9h-0.9zM670.4 242.6h1.1v1.1h-1.1zM677.1 223.4h0.9v0.9h-0.9zM642.6 216.2h0.8v0.8h-0.8zM660.2 218.1h0.7v0.7h-0.7zM631.2 253.6h0.7v0.7h-0.7zM620.5 246.0h0.8v0.8h-0.8zM643.4 201.5h0.7v0.7h-0.7zM651.1 227.1h0.8v0.8h-0.8zM646.8 200.3h1.0v1.0h-1.0zM651.7 233.6h1.1v1.1h-1.1zM651.2 245.9h1.0v1.0h-1.0zM656.0 205.6h1.2v1.2h-1.2zM671.0 217.6h0.9v0.9h-0.9zM662.8 242.8h1.0v1.0h-1.0zM633.9 248.2h0.6v0.6h-0.6zM622.8 257.6h1.1v1.1h-1.1zM655.7 254.6h0.8v0.8h-0.8zM663.6 252.1h0.7v0.7h-0.7zM613.6 231.5h1.2v1.2h-1.2zM677.4 238.0h0.9v0.9h-0.9zM624.1 225.9h0.8v0.8h-0.8zM645.7 241.5h0.8v0.8h-0.8zM653.0 258.3h0.6v0.6h-0.6zM636.4 246.9h1.2v1.2h-1.2zM618.4 233.8h1.0v1.0h-1.0zM667.6 225.6h0.9v0.9h-0.9zM644.7 206.4h1.0v1.0h-1.0zM661.3 256.8h0.7v0.7h-0.7zM640.9 225.7h0.9v0.9h-0.9zM680.1 225.8h1.0v1.0h-1.0zM636.7 256.2h1.0v1.0h-1.0zM630.6 200.7h1.0v1.0h-1.0zM634.3 224.2h0.8v0.8h-0.8zM652.9 206.2h0.7v0.7h-0.7zM619.0 201.2h0.7v0.7h-0.7zM671.6 214.7h0.7v0.7h-0.7zM628.5 226.0h1.0v1.0h-1.0zM649.6 248.2h1.1v1.1h-1.1zM671.3 259.1h1.0v1.0h-1.0zM628.3 199.9h1.2v1.2h-1.2zM655.3 251.3h1.0v1.0h-1.0zM654.2 201.7h0.8v0.8h-0.8zM668.9 238.0h1.0v1.0h-1.0zM637.8 220.8h0.6v0.6h-0.6zM677.1 247.8h0.7v0.7h-0.7zM665.4 209.1h0.8v0.8h-0.8zM657.3 223.2h0.8v0.8h-0.8zM615.5 215.3h0.8v0.8h-0.8zM652.6 209.8h0.9v0.9h-0.9zM639.0 256.2h1.0v1.0h-1.0zM618.8 233.2h0.8v0.8h-0.8zM662.6 226.2h1.0v1.0h-1.0zM651.3 211.3h1.1v1.1h-1.1zM614.0 247.7h0.8v0.8h-0.8zM672.2 221.8h0.9v0.9h-0.9zM658.3 219.4h0.7v0.7h-0.7zM614.2 236.4h1.0v1.0h-1.0zM651.6 238.7h1.0v1.0h-1.0zM618.1 248.0h1.0v1.0h-1.0zM614.5 208.3h1.1v1.1h-1.1zM616.0 227.4h1.2v1.2h-1.2zM634.1 226.9h0.8v0.8h-0.8zM646.1 254.7h1.1v1.1h-1.1zM676.0 227.6h0.7v0.7h-0.7zM647.9 259.2h0.7v0.7h-0.7zM630.7 250.3h1.1v1.1h-1.1zM640.3 254.0h0.7v0.7h-0.7zM623.6 257.7h1.1v1.1h-1.1zM622.3 204.8h1.0v1.0h-1.0zM613.5 257.1h0.8v0.8h-0.8zM657.7 254.0h0.8v0.8h-0.8zM637.3 250.4h1.2v1.2h-1.2zM681.3 222.0h1.0v1.0h-1.0zM653.9 199.6h1.0v1.0h-1.0zM658.0 253.1h1.2v1.2h-1.2zM638.0 228.5h0.7v0.7h-0.7zM642.0 230.0h0.7v0.7h-0.7zM634.4 229.1h0.8v0.8h-0.8zM637.1 200.3h1.1v1.1h-1.1zM676.3 229.0h1.1v1.1h-1.1zM654.5 256.3h0.7v0.7h-0.7zM640.0 200.9h1.2v1.2h-1.2zM671.1 233.6h1.0v1.0h-1.0zM629.5 220.8h0.8v0.8h-0.8zM660.8 258.7h0.9v0.9h-0.9zM621.2 224.2h1.0v1.0h-1.0zM614.7 208.8h1.0v1.0h-1.0zM664.2 224.6h1.0v1.0h-1.0zM651.6 259.2h1.1v1.1h-1.1zM668.1 253.9h0.8v0.8h-0.8zM633.7 259.3h0.7v0.7h-0.7zM682.6 257.7h1.1v1.1h-1.1zM679.1 250.4h0.9v0.9h-0.9zM636.0 216.8h0.9v0.9h-0.9zM663.3 242.4h0.8v0.8h-0.8zM629.9 247.7h0.9v0.9h-0.9zM627.7 221.0h0.8v0.8h-0.8zM645.6 198.6h0.8v0.8h-0.8zM623.5 209.5h0.7v0.7h-0.7zM632.5 230.3h1.1v1.1h-1.1zM635.5 226.0h1.2v1.2h-1.2zM621.3 209.5h0.7v0.7h-0.7zM647.8 227.6h0.6v0.6h-0.6zM636.4 217.1h1.1v1.1h-1.1zM643.1 247.5h0.9v0.9h-0.9zM614.3 219.5h1.0v1.0h-1.0zM664.9 255.6h0.6v0.6h-0.6zM672.7 237.6h1.0v1.0h-1.0zM630.6 200.3h1.2v1.2h-1.2zM613.7 225.9h0.7v0.7h-0.7zM634.6 245.5h0.7v0.7h-0.7zM641.9 211.1h0.8v0.8h-0.8zM634.2 224.3h0.8v0.8h-0.8zM675.0 228.3h0.7v0.7h-0.7zM623.5 249.5h0.6v0.6h-0.6zM625.5 249.2h0.6v0.6h-0.6zM626.7 256.4h0.6v0.6h-0.6zM677.1 239.1h0.6v0.6h-0.6zM652.4 243.9h1.1v1.1h-1.1zM682.1 230.4h1.0v1.0h-1.0zM662.0 239.2h1.0v1.0h-1.0zM647.0 208.4h0.8v0.8h-0.8zM661.3 204.8h1.0v1.0h-1.0zM622.8 249.9h1.1v1.1h-1.1zM642.6 244.6h0.6v0.6h-0.6zM661.8 256.1h1.2v1.2h-1.2zM621.1 248.0h0.7v0.7h-0.7zM661.1 210.3h0.9v0.9h-0.9zM680.0 217.8h0.7v0.7h-0.7zM613.7 253.1h1.2v1.2h-1.2zM661.4 221.9h0.8v0.8h-0.8zM620.9 200.7h1.0v1.0h-1.0zM618.0 227.9h1.2v1.2h-1.2zM664.5 236.8h0.7v0.7h-0.7zM615.1 201.1h0.8v0.8h-0.8zM666.1 247.4h0.6v0.6h-0.6zM637.1 202.5h1.2v1.2h-1.2zM620.6 237.4h1.2v1.2h-1.2zM635.0 221.6h0.6v0.6h-0.6zM623.1 205.4h1.2v1.2h-1.2zM671.5 223.1h0.9v0.9h-0.9zM631.5 237.6h0.9v0.9h-0.9zM643.0 208.3h0.8v0.8h-0.8zM664.8 233.3h1.0v1.0h-1.0zM653.5 205.4h0.9v0.9h-0.9zM628.3 248.7h0.7v0.7h-0.7zM679.7 249.9h1.1v1.1h-1.1zM642.1 252.5h0.9v0.9h-0.9zM636.6 200.8h1.2v1.2h-1.2zM627.1 245.0h0.9v0.9h-0.9zM632.0 201.2h0.8v0.8h-0.8zM675.9 241.5h0.9v0.9h-0.9zM662.5 243.3h1.1v1.1h-1.1zM644.5 199.3h1.0v1.0h-1.0zM663.0 253.9h1.1v1.1h-1.1zM614.1 253.7h0.6v0.6h-0.6zM615.2 200.7h1.1v1.1h-1.1zM656.4 208.1h0.7v0.7h-0.7zM619.6 221.9h0.7v0.7h-0.7zM641.2 227.7h1.0v1.0h-1.0zM631.4 241.5h1.2v1.2h-1.2zM673.9 224.7h1.1v1.1h-1.1zM651.1 225.3h1.0v1.0h-1.0zM620.4 252.9h1.1v1.1h-1.1zM654.8 250.5h1.2v1.2h-1.2zM673.6 249.7h0.7v0.7h-0.7zM663.1 212.8h0.9v0.9h-0.9zM673.1 243.5h1.0v1.0h-1.0zM651.1 197.5h0.7v0.7h-0.7zM676.4 245.1h0.7v0.7h-0.7zM652.9 226.2h1.1v1.1h-1.1zM675.8 251.0h1.1v1.1h-1.1zM642.9 253.6h0.8v0.8h-0.8zM629.6 206.2h1.1v1.1h-1.1zM676.2 255.1h0.7v0.7h-0.7zM675.4 253.0h1.0v1.0h-1.0zM674.8 238.8h1.0v1.0h-1.0zM631.8 255.8h0.9v0.9h-0.9zM630.1 212.5h0.7v0.7h-0.7zM655.7 218.3h0.8v0.8h-0.8zM636.4 249.1h1.2v1.2h-1.2zM668.8 221.3h1.2v1.2h-1.2zM630.7 230.4h1.1v1.1h-1.1zM655.1 228.1h0.8v0.8h-0.8zM637.6 245.0h1.1v1.1h-1.1zM630.8 206.0h0.7v0.7h-0.7zM658.5 203.0h0.6v0.6h-0.6zM670.4 220.7h1.0v1.0h-1.0zM615.5 233.4h1.2v1.2h-1.2zM637.0 200.6h0.7v0.7h-0.7zM659.6 231.3h1.0v1.0h-1.0zM644.4 203.6h0.8v0.8h-0.8zM649.5 227.3h1.1v1.1h-1.1zM640.5 199.6h1.1v1.1h-1.1zM658.3 248.1h1.2v1.2h-1.2zM678.1 257.1h0.7v0.7h-0.7zM671.0 225.9h1.1v1.1h-1.1zM667.2 212.0h1.0v1.0h-1.0zM681.4 242.5h0.9v0.9h-0.9zM622.3 215.9h0.9v0.9h-0.9zM625.2 232.5h1.2v1.2h-1.2zM636.6 244.6h0.6v0.6h-0.6zM628.9 216.7h0.9v0.9h-0.9zM624.2 252.4h0.9v0.9h-0.9zM655.6 252.9h0.9v0.9h-0.9zM637.8 211.9h0.7v0.7h-0.7zM637.3 238.8h1.2v1.2h-1.2zM650.2 245.9h0.7v0.7h-0.7zM616.8 217.5h1.0v1.0h-1.0z" fill="#0f9a20" fill-opacity="0.50"/>
<path d="M623.1 243.0h1.0v1.0h-1.0zM683.0 246.2h0.8v0.8h-0.8zM656.8 230.7h1.0v1.0h-1.0zM666.9 258.5h0.8v0.8h-0.8zM639.4 214.3h0.7v0.7h-0.7zM645.4 241.6h0.9v0.9h-0.9zM648.2 255.4h0.8v0.8h-0.8zM647.6 259.3h0.7v0.7h-0.7zM624.6 202.0h1.1v1.1h-1.1zM672.5 230.9h1.1v1.1h-1.1zM673.3 257.9h0.8v0.8h-0.8zM650.4 247.8h1.1v1.1h-1.1zM644.8 207.8h0.9v0.9h-0.9zM625.9 204.9h1.1v1.1h-1.1zM657.9 214.7h0.7v0.7h-0.7zM670.2 249.8h0.8v0.8h-0.8zM618.0 222.6h0.8v0.8h-0.8zM649.2 206.8h0.6v0.6h-0.6zM623.2 239.9h1.0v1.0h-1.0zM666.3 220.3h1.1v1.1h-1.1zM670.7 259.2h0.6v0.6h-0.6zM663.1 209.7h0.8v0.8h-0.8zM671.4 243.3h0.7v0.7h-0.7zM682.4 228.7h0.8v0.8h-0.8zM664.7 228.2h0.7v0.7h-0.7zM616.6 213.7h0.6v0.6h-0.6zM637.8 232.5h1.1v1.1h-1.1zM637.8 254.7h1.1v1.1h-1.1zM631.2 215.1h0.9v0.9h-0.9zM656.7 250.0h0.7v0.7h-0.7zM641.4 234.5h1.2v1.2h-1.2zM682.7 227.0h0.7v0.7h-0.7zM613.1 251.2h0.7v0.7h-0.7zM629.8 237.6h0.7v0.7h-0.7zM678.3 233.1h0.8v0.8h-0.8zM624.4 244.2h0.7v0.7h-0.7zM634.7 210.5h0.7v0.7h-0.7zM677.9 222.9h1.0v1.0h-1.0zM633.0 243.3h0.7v0.7h-0.7zM669.4 224.2h0.9v0.9h-0.9zM644.4 255.6h0.6v0.6h-0.6zM654.3 217.7h0.8v0.8h-0.8zM645.5 246.1h1.0v1.0h-1.0zM625.7 208.3h0.9v0.9h-0.9zM646.7 200.2h1.0v1.0h-1.0zM659.3 211.1h0.9v0.9h-0.9zM652.1 199.1h1.0v1.0h-1.0zM642.9 206.1h0.8v0.8h-0.8zM633.9 242.3h1.1v1.1h-1.1zM660.6 236.0h1.1v1.1h-1.1zM619.1 238.5h1.1v1.1h-1.1zM674.7 227.8h1.0v1.0h-1.0zM619.5 240.5h0.7v0.7h-0.7zM651.6 241.5h1.2v1.2h-1.2zM664.2 235.7h1.2v1.2h-1.2zM653.6 213.6h0.7v0.7h-0.7zM625.3 257.4h1.0v1.0h-1.0zM640.5 211.3h0.8v0.8h-0.8zM650.6 226.1h1.0v1.0h-1.0zM634.4 197.3h1.0v1.0h-1.0zM670.2 239.5h0.6v0.6h-0.6zM665.8 231.4h1.1v1.1h-1.1zM643.0 243.0h1.0v1.0h-1.0z" fill="#0f9a20" fill-opacity="0.25"/>
<path d="M650.6 224.6h0.8v0.8h-0.8zM626.8 217.3h0.8v0.8h-0.8zM658.3 248.9h1.2v1.2h-1.2zM652.6 204.0h0.7v0.7h-0.7zM621.4 245.6h1.0v1.0h-1.0zM661.6 233.0h0.7v0.7h-0.7zM629.8 245.4h1.0v1.0h-1.0zM667.7 211.1h1.0v1.0h-1.0zM626.0 219.9h0.9v0.9h-0.9zM642.2 255.8h1.0v1.0h-1.0zM644.8 205.1h1.0v1.0h-1.0zM639.7 210.9h0.8v0.8h-0.8zM662.6 234.7h1.1v1.1h-1.1zM674.8 218.9h0.8v0.8h-0.8zM673.5 246.1h0.6v0.6h-0.6zM676.4 217.0h0.7v0.7h-0.7zM658.3 237.9h1.2v1.2h-1.2zM614.6 211.5h1.0v1.0h-1.0zM655.4 213.8h0.6v0.6h-0.6zM662.0 235.9h0.7v0.7h-0.7zM643.4 258.8h0.9v0.9h-0.9zM626.2 253.8h0.6v0.6h-0.6zM660.1 221.5h0.8v0.8h-0.8zM630.6 205.3h1.1v1.1h-1.1zM669.8 231.5h1.0v1.0h-1.0zM636.6 244.6h0.8v0.8h-0.8zM643.5 233.6h1.0v1.0h-1.0zM617.9 248.7h0.8v0.8h-0.8zM626.4 202.1h0.9v0.9h-0.9zM647.2 213.9h0.7v0.7h-0.7zM643.8 242.4h0.9v0.9h-0.9zM671.6 256.4h0.8v0.8h-0.8zM666.5 234.3h0.8v0.8h-0.8zM616.1 225.7h1.1v1.1h-1.1zM673.1 214.0h1.2v1.2h-1.2zM682.0 224.2h0.9v0.9h-0.9zM647.8 255.6h0.8v0.8h-0.8zM634.9 247.8h1.1v1.1h-1.1zM655.3 223.4h1.2v1.2h-1.2zM682.7 254.7h1.0v1.0h-1.0zM651.7 236.0h1.0v1.0h-1.0zM662.3 246.8h0.8v0.8h-0.8zM637.1 233.0h1.1v1.1h-1.1zM643.8 254.0h0.7v0.7h-0.7zM670.4 227.6h0.9v0.9h-0.9zM672.6 215.1h1.1v1.1h-1.1zM616.0 214.5h0.9v0.9h-0.9zM639.5 235.6h1.1v1.1h-1.1zM640.7 214.5h0.8v0.8h-0.8zM669.7 211.1h1.0v1.0h-1.0zM636.1 257.0h0.8v0.8h-0.8zM628.3 225.5h1.1v1.1h-1.1zM644.3 212.3h0.9v0.9h-0.9zM633.8 248.2h0.8v0.8h-0.8zM642.2 249.3h0.7v0.7h-0.7zM675.3 256.0h1.0v1.0h-1.0zM620.5 218.4h1.0v1.0h-1.0zM628.5 229.8h1.1v1.1h-1.1zM622.3 253.1h0.6v0.6h-0.6zM622.1 230.1h0.8v0.8h-0.8zM653.1 199.6h1.1v1.1h-1.1zM664.9 211.6h1.1v1.1h-1.1zM663.4 253.1h1.1v1.1h-1.1zM621.8 238.8h0.7v0.7h-0.7zM657.6 202.7h0.7v0.7h-0.7z" fill="#0f9a20" fill-opacity="0.75"/>
<path d="M618.0 207.3h1.3v1.3h-1.3zM647.7 240.8h1.1v1.1h-1.1zM671.9 227.4h1.9v1.9h-1.9zM613.0 241.2h1.8v1.8h-1.8zM634.5 254.5h1.2v1.2h-1.2zM664.6 230.6h1.5v1.5h-1.5zM646.2 246.8h1.4v1.4h-1.4zM612.9 255.8h1.6v1.6h-1.6zM647.1 255.9h1.8v1.8h-1.8zM663.4 205.9h1.8v1.8h-1.8zM630.2 193.5h1.0v1.0h-1.0zM663.0 257.9h1.2v1.2h-1.2z" fill="#30f040" fill-opacity="1.00"/>
<path d="M638.6 193.1h1.7v1.7h-1.7zM680.1 206.7h1.1v1.1h-1.1zM681.8 200.7h1.1v1.1h-1.1zM616.0 195.8h1.3v1.3h-1.3zM654.1 208.4h1.3v1.3h-1.3zM640.8 258.3h1.4v1.4h-1.4zM618.8 197.2h1.6v1.6h-1.6zM634.0 218.7h1.2v1.2h-1.2zM649.7 226.8h1.2v1.2h-1.2zM655.1 247.3h1.6v1.6h-1.6zM654.3 256.9h1.7v1.7h-1.7zM680.9 254.0h1.4v1.4h-1.4zM635.0 204.2h1.3v1.3h-1.3zM653.6 224.8h1.8v1.8h-1.8z" fill="#30f040" fill-opacity="0.75"/>
<text x="614.80" y="200.40" font-size="9.50" text-anchor="start" fill="#2aa86a" style="" textLength="17.5" lengthAdjust="spacingAndGlyphs">Gal3</text>
<line x1="614.80" y1="255.60" x2="632.00" y2="255.60" stroke="#f4f4f4" stroke-width="1.60" stroke-linecap="butt"/>
</g>
<g clip-path="url(#cp4)">
<rect x="466.60" y="262.10" width="71.10" height="70.70" fill="#000" stroke="none" stroke-width="0.00"/>
<path d="M493.2 277.9h1.0v1.0h-1.0zM470.4 317.1h0.9v0.9h-0.9zM475.0 309.0h1.0v1.0h-1.0zM510.2 304.6h1.0v1.0h-1.0zM496.2 314.1h1.3v1.3h-1.3zM468.7 322.3h1.5v1.5h-1.5zM473.9 308.3h1.0v1.0h-1.0zM485.7 325.0h1.1v1.1h-1.1zM505.1 296.5h1.6v1.6h-1.6zM524.4 263.6h1.3v1.3h-1.3zM508.2 286.3h1.4v1.4h-1.4zM530.5 283.4h1.0v1.0h-1.0zM533.0 320.0h0.9v0.9h-0.9zM517.1 311.7h0.9v0.9h-0.9zM478.3 322.9h1.1v1.1h-1.1zM500.3 314.7h1.5v1.5h-1.5zM529.9 294.9h1.3v1.3h-1.3zM513.3 281.5h1.1v1.1h-1.1zM485.1 267.9h1.5v1.5h-1.5zM487.7 290.1h1.3v1.3h-1.3zM466.9 307.4h1.1v1.1h-1.1zM534.4 322.0h1.3v1.3h-1.3zM523.6 329.1h1.6v1.6h-1.6zM509.7 267.4h1.5v1.5h-1.5zM492.2 328.9h1.5v1.5h-1.5zM501.1 267.3h1.3v1.3h-1.3zM521.7 307.4h1.0v1.0h-1.0zM527.0 328.3h1.5v1.5h-1.5zM484.6 278.5h1.1v1.1h-1.1zM497.4 278.9h1.2v1.2h-1.2zM534.4 289.6h1.4v1.4h-1.4zM486.6 289.5h1.2v1.2h-1.2zM510.9 263.9h1.1v1.1h-1.1zM467.3 290.0h1.0v1.0h-1.0zM490.0 280.1h0.9v0.9h-0.9zM511.3 293.3h1.5v1.5h-1.5zM525.3 263.6h1.3v1.3h-1.3zM534.6 284.9h1.3v1.3h-1.3zM487.4 316.2h1.4v1.4h-1.4zM530.9 314.9h1.3v1.3h-1.3zM507.7 262.5h1.1v1.1h-1.1zM536.8 309.0h1.1v1.1h-1.1zM521.6 323.4h1.5v1.5h-1.5zM493.7 314.8h1.4v1.4h-1.4zM481.2 331.2h1.3v1.3h-1.3zM500.9 319.6h1.1v1.1h-1.1zM483.9 289.7h1.2v1.2h-1.2zM515.9 320.3h1.4v1.4h-1.4zM522.8 273.7h1.5v1.5h-1.5zM532.1 273.7h1.5v1.5h-1.5zM486.5 326.7h1.4v1.4h-1.4zM474.8 323.3h1.3v1.3h-1.3zM530.5 289.8h1.1v1.1h-1.1zM501.3 303.8h1.4v1.4h-1.4zM497.1 276.9h1.3v1.3h-1.3zM496.4 276.3h1.0v1.0h-1.0zM478.7 306.5h1.3v1.3h-1.3zM508.0 285.2h1.0v1.0h-1.0zM492.7 279.1h1.5v1.5h-1.5zM517.2 328.0h0.9v0.9h-0.9zM487.6 294.3h1.6v1.6h-1.6zM518.9 294.9h1.5v1.5h-1.5zM507.2 298.8h1.2v1.2h-1.2zM505.2 325.8h1.4v1.4h-1.4zM515.9 285.1h1.2v1.2h-1.2zM496.4 319.0h1.0v1.0h-1.0zM487.3 290.0h1.2v1.2h-1.2zM487.6 288.1h1.2v1.2h-1.2zM482.3 315.6h0.9v0.9h-0.9zM499.5 276.5h1.5v1.5h-1.5zM487.4 292.4h1.3v1.3h-1.3zM487.5 299.2h1.3v1.3h-1.3zM466.1 279.2h1.6v1.6h-1.6zM485.0 285.5h1.1v1.1h-1.1zM533.0 313.7h1.5v1.5h-1.5zM508.6 308.7h1.4v1.4h-1.4zM527.6 323.1h1.5v1.5h-1.5zM478.0 316.0h1.4v1.4h-1.4zM475.8 265.3h1.3v1.3h-1.3zM499.4 321.6h0.9v0.9h-0.9zM517.8 317.6h1.3v1.3h-1.3zM515.1 270.1h1.2v1.2h-1.2zM492.3 281.8h1.6v1.6h-1.6zM494.6 293.5h1.6v1.6h-1.6zM495.4 331.2h1.4v1.4h-1.4zM479.0 306.2h1.1v1.1h-1.1zM489.0 308.7h1.2v1.2h-1.2zM472.0 321.9h0.9v0.9h-0.9zM533.1 277.2h1.1v1.1h-1.1zM531.3 317.6h1.0v1.0h-1.0zM485.8 329.5h1.0v1.0h-1.0zM467.0 311.9h1.6v1.6h-1.6zM503.3 329.0h1.2v1.2h-1.2zM511.2 320.2h1.5v1.5h-1.5zM510.2 285.5h1.4v1.4h-1.4zM508.2 274.4h1.2v1.2h-1.2zM531.6 268.3h1.4v1.4h-1.4zM525.9 262.2h1.0v1.0h-1.0zM466.9 296.5h1.1v1.1h-1.1zM515.3 322.6h1.3v1.3h-1.3zM505.1 309.4h1.0v1.0h-1.0zM530.2 274.0h1.3v1.3h-1.3zM497.8 305.6h1.6v1.6h-1.6zM516.6 317.3h1.2v1.2h-1.2zM483.3 290.4h1.0v1.0h-1.0zM519.0 331.3h1.2v1.2h-1.2zM493.2 313.2h1.0v1.0h-1.0zM489.1 291.5h1.0v1.0h-1.0zM497.7 278.9h1.3v1.3h-1.3zM522.2 304.9h1.3v1.3h-1.3zM506.1 301.5h1.4v1.4h-1.4zM524.2 303.5h1.3v1.3h-1.3zM476.6 294.0h1.1v1.1h-1.1zM528.5 323.7h1.4v1.4h-1.4zM527.5 276.8h1.6v1.6h-1.6zM485.9 286.8h1.4v1.4h-1.4zM487.3 265.2h1.3v1.3h-1.3zM529.8 316.5h1.3v1.3h-1.3zM468.9 313.4h1.5v1.5h-1.5zM533.8 326.4h1.0v1.0h-1.0zM475.6 321.3h1.4v1.4h-1.4zM493.8 276.8h1.3v1.3h-1.3zM520.4 262.3h1.6v1.6h-1.6zM501.5 308.2h1.4v1.4h-1.4zM509.3 298.3h1.6v1.6h-1.6zM534.9 301.5h1.5v1.5h-1.5zM486.7 324.5h1.1v1.1h-1.1zM529.6 290.4h1.1v1.1h-1.1zM518.3 326.0h1.4v1.4h-1.4zM494.6 276.2h1.4v1.4h-1.4zM502.1 325.6h1.2v1.2h-1.2z" fill="#2020e0" fill-opacity="1.00"/>
<path d="M507.0 310.2h1.3v1.3h-1.3zM517.9 302.1h1.4v1.4h-1.4zM517.3 273.3h1.4v1.4h-1.4zM525.7 276.7h1.4v1.4h-1.4zM515.1 330.9h0.9v0.9h-0.9zM526.3 282.9h1.0v1.0h-1.0zM494.9 308.4h1.2v1.2h-1.2zM467.5 271.0h1.2v1.2h-1.2zM512.5 314.4h1.3v1.3h-1.3zM526.4 329.6h1.1v1.1h-1.1zM518.2 309.6h1.2v1.2h-1.2zM534.9 281.1h1.0v1.0h-1.0zM492.9 324.0h1.4v1.4h-1.4zM513.5 266.1h1.1v1.1h-1.1zM477.1 284.8h1.1v1.1h-1.1zM474.4 332.0h1.3v1.3h-1.3zM517.9 317.0h1.0v1.0h-1.0zM509.4 320.0h1.5v1.5h-1.5zM507.6 282.8h1.5v1.5h-1.5zM479.1 295.2h1.0v1.0h-1.0zM479.9 318.3h1.1v1.1h-1.1zM502.5 271.9h1.4v1.4h-1.4zM503.4 302.9h1.4v1.4h-1.4zM497.3 312.1h1.0v1.0h-1.0zM470.5 320.4h1.6v1.6h-1.6zM477.2 267.7h1.5v1.5h-1.5zM530.0 330.2h1.5v1.5h-1.5zM529.5 326.0h1.6v1.6h-1.6zM500.3 279.3h1.4v1.4h-1.4zM495.5 328.3h1.2v1.2h-1.2zM468.7 275.9h1.1v1.1h-1.1zM478.4 291.4h1.0v1.0h-1.0zM529.4 324.7h1.5v1.5h-1.5zM467.1 328.4h1.3v1.3h-1.3zM496.8 280.8h0.9v0.9h-0.9zM527.5 299.5h1.2v1.2h-1.2zM502.9 297.5h1.4v1.4h-1.4zM479.1 331.2h1.1v1.1h-1.1zM524.8 267.2h1.5v1.5h-1.5zM492.0 328.7h1.0v1.0h-1.0zM533.5 314.4h1.0v1.0h-1.0zM502.2 290.9h1.1v1.1h-1.1zM472.8 293.1h1.1v1.1h-1.1zM482.5 286.1h1.0v1.0h-1.0zM502.6 325.1h1.3v1.3h-1.3zM513.5 303.2h1.5v1.5h-1.5zM501.9 277.8h1.0v1.0h-1.0zM487.6 325.0h1.0v1.0h-1.0zM494.6 265.5h1.2v1.2h-1.2zM499.2 291.1h1.6v1.6h-1.6zM469.5 308.7h1.5v1.5h-1.5zM510.1 263.8h1.2v1.2h-1.2zM471.1 302.0h0.9v0.9h-0.9zM494.5 318.7h1.4v1.4h-1.4zM466.3 311.7h1.4v1.4h-1.4zM536.4 296.3h1.2v1.2h-1.2zM473.6 305.9h1.0v1.0h-1.0zM509.6 310.0h1.0v1.0h-1.0zM532.0 279.7h1.5v1.5h-1.5zM524.0 270.1h1.6v1.6h-1.6zM499.6 303.5h1.6v1.6h-1.6zM515.6 280.1h1.4v1.4h-1.4zM519.9 274.6h1.2v1.2h-1.2zM519.7 307.0h1.1v1.1h-1.1zM495.4 269.2h1.3v1.3h-1.3zM484.3 310.1h1.4v1.4h-1.4zM508.7 324.0h1.4v1.4h-1.4zM502.7 316.6h1.3v1.3h-1.3zM518.0 317.2h1.3v1.3h-1.3zM511.3 291.0h0.9v0.9h-0.9zM515.1 300.7h1.2v1.2h-1.2zM471.5 328.7h1.5v1.5h-1.5zM532.6 276.2h1.4v1.4h-1.4zM473.8 302.4h1.0v1.0h-1.0zM476.0 278.7h1.5v1.5h-1.5zM515.8 302.3h1.4v1.4h-1.4zM529.5 276.3h1.2v1.2h-1.2zM525.0 294.6h1.4v1.4h-1.4zM514.2 311.3h1.2v1.2h-1.2zM528.3 302.0h1.5v1.5h-1.5zM520.0 328.7h1.1v1.1h-1.1zM495.3 278.5h1.0v1.0h-1.0zM534.9 270.6h0.9v0.9h-0.9zM488.1 290.5h1.2v1.2h-1.2zM524.4 275.8h1.0v1.0h-1.0zM474.3 288.3h1.0v1.0h-1.0zM478.4 272.5h1.2v1.2h-1.2zM507.7 327.7h1.1v1.1h-1.1zM533.5 284.7h1.1v1.1h-1.1zM492.7 314.1h1.2v1.2h-1.2zM480.8 288.0h1.4v1.4h-1.4zM497.5 301.4h1.1v1.1h-1.1zM472.3 308.2h0.9v0.9h-0.9zM482.4 318.8h0.9v0.9h-0.9zM534.3 299.1h1.2v1.2h-1.2zM521.5 296.9h1.6v1.6h-1.6zM492.0 267.2h1.2v1.2h-1.2zM480.3 310.0h1.5v1.5h-1.5zM531.3 296.9h1.5v1.5h-1.5zM534.2 329.3h1.3v1.3h-1.3zM487.2 273.1h1.1v1.1h-1.1zM495.5 299.5h1.6v1.6h-1.6zM515.7 277.1h1.2v1.2h-1.2zM493.6 277.6h1.1v1.1h-1.1zM470.4 291.8h1.2v1.2h-1.2zM478.6 327.5h1.2v1.2h-1.2zM481.6 306.1h1.2v1.2h-1.2zM528.0 267.9h1.3v1.3h-1.3zM490.2 297.8h1.3v1.3h-1.3zM517.4 263.0h1.6v1.6h-1.6zM487.3 289.0h1.0v1.0h-1.0zM525.6 330.6h1.5v1.5h-1.5zM496.3 295.4h1.0v1.0h-1.0zM536.7 280.1h1.3v1.3h-1.3zM489.2 319.6h1.4v1.4h-1.4zM496.9 306.3h1.0v1.0h-1.0zM477.1 286.3h1.1v1.1h-1.1zM481.6 275.9h1.4v1.4h-1.4zM518.5 271.7h1.3v1.3h-1.3zM498.9 287.1h1.1v1.1h-1.1zM526.6 266.0h1.4v1.4h-1.4zM474.1 293.6h1.5v1.5h-1.5zM530.6 331.0h0.9v0.9h-0.9zM500.5 302.9h1.5v1.5h-1.5zM498.8 270.9h1.4v1.4h-1.4zM526.2 307.7h1.2v1.2h-1.2zM469.1 297.5h1.3v1.3h-1.3zM485.0 322.8h1.1v1.1h-1.1zM474.7 298.3h0.9v0.9h-0.9zM513.2 271.3h1.3v1.3h-1.3zM491.8 315.6h0.9v0.9h-0.9zM482.3 278.7h1.0v1.0h-1.0zM489.2 264.3h1.5v1.5h-1.5zM493.6 325.4h1.0v1.0h-1.0zM532.9 298.7h1.0v1.0h-1.0zM501.1 294.9h1.3v1.3h-1.3zM512.5 326.8h1.3v1.3h-1.3zM494.9 290.9h1.1v1.1h-1.1zM492.5 328.1h1.5v1.5h-1.5zM523.8 306.6h1.1v1.1h-1.1zM528.3 268.3h1.5v1.5h-1.5zM507.6 295.5h1.1v1.1h-1.1zM512.9 326.6h1.0v1.0h-1.0zM502.9 262.7h1.5v1.5h-1.5zM528.7 283.0h1.1v1.1h-1.1zM471.1 292.1h1.0v1.0h-1.0zM498.0 308.4h1.5v1.5h-1.5zM524.4 319.0h1.3v1.3h-1.3zM482.0 281.4h1.5v1.5h-1.5zM488.6 267.9h1.1v1.1h-1.1zM479.9 331.0h1.3v1.3h-1.3zM509.4 298.0h1.4v1.4h-1.4zM490.4 277.2h1.3v1.3h-1.3zM523.8 311.1h1.5v1.5h-1.5zM527.6 272.7h1.2v1.2h-1.2zM467.8 279.6h1.2v1.2h-1.2zM506.3 279.7h1.1v1.1h-1.1zM469.4 270.2h1.1v1.1h-1.1zM517.6 292.3h1.2v1.2h-1.2zM479.5 329.6h1.0v1.0h-1.0zM510.4 296.8h1.4v1.4h-1.4zM532.5 323.6h1.4v1.4h-1.4zM536.4 278.1h1.0v1.0h-1.0zM474.3 288.1h0.9v0.9h-0.9zM524.0 272.9h1.3v1.3h-1.3zM517.9 272.6h1.6v1.6h-1.6zM496.5 310.0h1.5v1.5h-1.5zM519.3 289.3h1.2v1.2h-1.2zM523.9 280.5h1.2v1.2h-1.2zM502.5 297.0h1.0v1.0h-1.0zM497.9 267.7h1.2v1.2h-1.2zM481.4 302.6h1.3v1.3h-1.3zM505.3 274.4h1.5v1.5h-1.5zM524.9 315.7h1.3v1.3h-1.3zM509.6 326.9h1.0v1.0h-1.0zM476.2 276.2h0.9v0.9h-0.9zM471.6 287.4h1.5v1.5h-1.5zM467.1 267.2h1.4v1.4h-1.4zM519.5 282.4h1.2v1.2h-1.2zM498.3 268.0h1.1v1.1h-1.1zM504.2 284.8h1.4v1.4h-1.4zM519.1 328.7h1.5v1.5h-1.5zM470.4 282.8h1.3v1.3h-1.3zM499.4 299.5h0.9v0.9h-0.9zM522.2 282.0h1.6v1.6h-1.6zM473.7 281.3h1.5v1.5h-1.5zM532.8 278.2h1.5v1.5h-1.5zM509.3 298.0h1.5v1.5h-1.5zM500.9 270.8h1.6v1.6h-1.6zM536.7 270.6h1.5v1.5h-1.5zM504.0 295.0h1.0v1.0h-1.0zM519.4 267.2h1.5v1.5h-1.5zM509.8 328.3h1.1v1.1h-1.1zM483.1 319.7h1.3v1.3h-1.3zM521.7 284.8h1.3v1.3h-1.3zM502.0 285.9h1.5v1.5h-1.5zM479.3 281.8h1.5v1.5h-1.5zM474.4 284.3h1.6v1.6h-1.6zM530.7 326.9h1.3v1.3h-1.3zM511.3 262.1h1.0v1.0h-1.0zM524.3 308.5h1.5v1.5h-1.5zM481.5 279.0h0.9v0.9h-0.9zM479.5 283.4h1.5v1.5h-1.5zM500.5 284.1h1.0v1.0h-1.0zM482.0 300.2h1.5v1.5h-1.5zM516.4 286.7h1.4v1.4h-1.4zM480.2 322.5h1.3v1.3h-1.3zM500.0 283.3h1.6v1.6h-1.6zM513.6 296.7h1.2v1.2h-1.2zM534.4 261.8h0.9v0.9h-0.9zM536.6 322.0h1.3v1.3h-1.3zM467.3 274.9h1.3v1.3h-1.3zM513.1 317.8h1.1v1.1h-1.1zM516.1 304.4h1.1v1.1h-1.1zM495.2 295.0h1.0v1.0h-1.0zM518.5 312.7h1.0v1.0h-1.0zM516.3 297.9h1.3v1.3h-1.3zM522.7 317.3h1.5v1.5h-1.5zM518.5 304.1h1.0v1.0h-1.0zM492.5 280.9h1.2v1.2h-1.2zM524.6 265.8h1.5v1.5h-1.5zM499.5 324.1h1.4v1.4h-1.4zM469.0 299.8h0.9v0.9h-0.9zM484.7 278.5h1.6v1.6h-1.6zM486.5 318.4h1.3v1.3h-1.3zM483.9 273.4h0.9v0.9h-0.9zM527.5 312.5h1.3v1.3h-1.3zM509.6 303.5h1.2v1.2h-1.2zM483.3 308.6h1.3v1.3h-1.3zM473.6 324.6h1.2v1.2h-1.2zM466.6 324.4h1.0v1.0h-1.0zM532.7 323.4h1.1v1.1h-1.1zM485.5 321.1h1.5v1.5h-1.5zM503.1 270.2h1.3v1.3h-1.3zM512.3 319.7h1.1v1.1h-1.1zM525.5 331.6h1.5v1.5h-1.5zM483.0 311.6h1.4v1.4h-1.4zM467.0 289.9h1.4v1.4h-1.4zM511.3 311.9h1.2v1.2h-1.2zM496.7 327.9h1.3v1.3h-1.3zM468.5 303.6h1.4v1.4h-1.4zM527.5 307.4h0.9v0.9h-0.9zM502.3 268.9h1.3v1.3h-1.3zM481.7 261.6h1.2v1.2h-1.2zM473.2 316.2h1.2v1.2h-1.2zM502.6 311.4h1.0v1.0h-1.0zM471.2 330.2h1.2v1.2h-1.2zM520.9 307.4h0.9v0.9h-0.9zM530.6 327.0h1.2v1.2h-1.2zM519.7 313.1h1.4v1.4h-1.4zM503.5 287.2h1.3v1.3h-1.3zM517.7 296.0h1.2v1.2h-1.2zM473.2 295.4h0.9v0.9h-0.9zM524.2 305.5h0.9v0.9h-0.9zM479.8 330.3h1.3v1.3h-1.3zM476.2 272.4h1.3v1.3h-1.3zM511.3 326.0h0.9v0.9h-0.9zM516.4 328.7h1.4v1.4h-1.4zM512.1 310.7h1.4v1.4h-1.4zM533.5 304.7h0.9v0.9h-0.9z" fill="#2020e0" fill-opacity="0.75"/>
<path d="M525.8 292.7h1.0v1.0h-1.0zM512.7 284.4h1.0v1.0h-1.0zM481.4 273.3h0.9v0.9h-0.9zM511.3 297.7h1.4v1.4h-1.4zM482.9 296.8h1.3v1.3h-1.3zM468.0 319.8h1.1v1.1h-1.1zM520.5 312.9h1.2v1.2h-1.2zM506.5 312.5h1.0v1.0h-1.0zM519.4 287.7h1.5v1.5h-1.5zM492.2 286.2h1.5v1.5h-1.5zM530.1 283.5h1.5v1.5h-1.5zM526.5 316.7h1.1v1.1h-1.1zM485.2 310.3h1.5v1.5h-1.5zM523.8 314.8h1.3v1.3h-1.3zM517.8 306.3h1.2v1.2h-1.2zM501.0 267.7h1.3v1.3h-1.3zM521.8 317.9h1.6v1.6h-1.6zM536.0 272.0h1.1v1.1h-1.1zM504.6 279.4h1.1v1.1h-1.1zM490.5 288.7h1.4v1.4h-1.4zM494.7 270.5h1.6v1.6h-1.6zM497.5 293.0h1.4v1.4h-1.4zM500.4 315.4h1.0v1.0h-1.0zM490.0 279.2h1.2v1.2h-1.2zM532.9 331.1h1.4v1.4h-1.4zM520.9 273.8h1.6v1.6h-1.6zM482.9 293.1h0.9v0.9h-0.9zM533.7 297.2h1.2v1.2h-1.2zM470.5 280.4h1.4v1.4h-1.4zM526.5 304.8h1.1v1.1h-1.1zM473.6 307.2h0.9v0.9h-0.9zM505.2 271.8h1.0v1.0h-1.0zM520.5 261.6h1.0v1.0h-1.0zM481.8 280.9h1.5v1.5h-1.5zM496.7 314.4h0.9v0.9h-0.9zM490.9 310.8h1.3v1.3h-1.3zM533.6 302.6h1.1v1.1h-1.1zM475.3 312.9h1.4v1.4h-1.4zM484.9 322.9h1.1v1.1h-1.1zM486.4 329.7h0.9v0.9h-0.9zM510.8 319.7h1.5v1.5h-1.5zM521.5 318.1h1.4v1.4h-1.4zM502.5 293.8h1.5v1.5h-1.5zM522.5 310.0h1.2v1.2h-1.2zM486.8 310.3h1.5v1.5h-1.5zM474.3 301.1h1.1v1.1h-1.1zM473.0 289.1h0.9v0.9h-0.9zM533.3 299.3h1.0v1.0h-1.0zM486.2 284.2h1.6v1.6h-1.6zM532.5 315.7h1.1v1.1h-1.1zM515.7 271.8h1.4v1.4h-1.4zM515.1 318.4h1.3v1.3h-1.3zM497.0 268.9h1.6v1.6h-1.6zM533.2 331.2h1.4v1.4h-1.4zM469.4 316.4h1.0v1.0h-1.0zM484.8 301.5h1.5v1.5h-1.5zM499.1 316.5h1.3v1.3h-1.3zM471.6 279.9h1.3v1.3h-1.3zM528.5 297.3h1.1v1.1h-1.1zM480.7 328.8h1.2v1.2h-1.2zM492.0 304.1h1.2v1.2h-1.2zM508.7 326.3h1.1v1.1h-1.1zM516.6 279.7h1.2v1.2h-1.2zM524.1 309.5h1.4v1.4h-1.4zM528.1 275.1h1.1v1.1h-1.1zM490.2 264.4h1.3v1.3h-1.3zM532.7 302.6h1.0v1.0h-1.0zM536.8 296.8h1.3v1.3h-1.3zM522.6 287.9h0.9v0.9h-0.9zM535.8 298.4h1.3v1.3h-1.3zM536.9 282.9h1.1v1.1h-1.1zM468.1 299.9h1.2v1.2h-1.2zM478.3 281.4h1.4v1.4h-1.4zM493.4 295.3h0.9v0.9h-0.9zM483.0 305.9h1.3v1.3h-1.3zM518.1 319.6h0.9v0.9h-0.9zM521.9 310.2h1.0v1.0h-1.0zM506.2 280.3h1.4v1.4h-1.4zM487.2 266.5h1.3v1.3h-1.3zM530.6 299.9h1.4v1.4h-1.4zM493.1 282.9h0.9v0.9h-0.9zM493.7 264.1h1.3v1.3h-1.3zM482.7 302.7h1.0v1.0h-1.0zM487.6 278.7h1.0v1.0h-1.0zM467.0 274.7h1.3v1.3h-1.3zM511.7 273.1h1.3v1.3h-1.3zM495.4 330.1h1.0v1.0h-1.0zM481.0 306.5h1.5v1.5h-1.5zM484.6 328.7h1.3v1.3h-1.3zM517.6 297.0h1.4v1.4h-1.4zM513.0 316.0h1.2v1.2h-1.2zM517.4 316.7h1.0v1.0h-1.0zM525.9 264.9h1.1v1.1h-1.1zM512.2 274.7h1.4v1.4h-1.4zM509.5 292.5h1.4v1.4h-1.4zM485.4 309.2h1.3v1.3h-1.3zM474.5 286.7h1.0v1.0h-1.0zM526.9 305.5h1.1v1.1h-1.1zM485.9 332.0h1.1v1.1h-1.1zM472.1 293.8h1.3v1.3h-1.3zM470.9 294.6h1.1v1.1h-1.1zM474.5 331.0h1.3v1.3h-1.3zM533.6 311.1h1.0v1.0h-1.0zM478.7 273.7h0.9v0.9h-0.9zM518.1 276.2h1.3v1.3h-1.3zM533.0 300.8h1.0v1.0h-1.0zM474.2 314.7h1.3v1.3h-1.3zM469.5 315.4h1.0v1.0h-1.0zM494.5 297.7h1.2v1.2h-1.2zM492.1 278.6h1.5v1.5h-1.5zM473.9 305.4h1.5v1.5h-1.5zM507.4 291.7h0.9v0.9h-0.9zM535.3 270.2h1.0v1.0h-1.0zM485.8 272.4h1.1v1.1h-1.1zM524.0 264.3h1.1v1.1h-1.1zM524.2 284.5h1.2v1.2h-1.2zM518.9 330.3h1.3v1.3h-1.3zM496.1 288.2h1.4v1.4h-1.4zM498.7 285.5h1.3v1.3h-1.3zM478.2 330.3h1.3v1.3h-1.3zM499.6 319.0h1.3v1.3h-1.3zM494.3 326.7h1.2v1.2h-1.2zM508.2 316.7h1.0v1.0h-1.0zM470.7 329.1h1.4v1.4h-1.4zM513.5 317.7h1.4v1.4h-1.4zM501.4 314.1h1.0v1.0h-1.0zM532.3 295.2h1.1v1.1h-1.1zM517.9 286.8h1.3v1.3h-1.3zM477.5 325.0h1.5v1.5h-1.5z" fill="#2020e0" fill-opacity="0.50"/>
<text x="468.30" y="272.60" font-size="9.50" text-anchor="start" fill="#2a2ae0" style="" textLength="18.5" lengthAdjust="spacingAndGlyphs">DAPI</text>
<line x1="469.20" y1="328.40" x2="486.90" y2="328.40" stroke="#f4f4f4" stroke-width="1.60" stroke-linecap="butt"/>
</g>
<g clip-path="url(#cp5)">
<rect x="540.10" y="262.10" width="70.70" height="70.70" fill="#000" stroke="none" stroke-width="0.00"/>
<path d="M556.8 297.1h1.0v1.0h-1.0zM565.3 316.9h1.5v1.5h-1.5zM553.2 315.2h1.2v1.2h-1.2zM572.5 325.4h1.6v1.6h-1.6zM608.8 320.0h1.5v1.5h-1.5zM596.9 326.8h1.5v1.5h-1.5zM591.1 303.0h1.0v1.0h-1.0zM595.0 269.4h1.2v1.2h-1.2zM540.7 316.4h1.1v1.1h-1.1zM609.3 316.4h1.2v1.2h-1.2zM605.4 315.1h0.9v0.9h-0.9zM544.6 295.7h1.3v1.3h-1.3zM583.1 315.9h1.0v1.0h-1.0zM568.3 275.9h1.6v1.6h-1.6zM582.0 297.6h1.6v1.6h-1.6zM597.1 268.0h1.2v1.2h-1.2zM576.9 262.3h0.9v0.9h-0.9zM560.7 267.3h1.3v1.3h-1.3zM570.5 285.0h1.0v1.0h-1.0zM573.4 268.7h1.3v1.3h-1.3zM574.7 308.6h1.4v1.4h-1.4zM590.6 277.6h1.4v1.4h-1.4zM564.3 328.1h1.1v1.1h-1.1zM555.1 273.5h1.4v1.4h-1.4zM549.6 310.3h1.5v1.5h-1.5zM579.2 309.2h1.1v1.1h-1.1zM574.1 282.7h1.4v1.4h-1.4zM571.6 280.9h1.1v1.1h-1.1zM540.9 314.0h1.4v1.4h-1.4zM592.2 298.2h1.3v1.3h-1.3zM547.8 276.3h1.3v1.3h-1.3zM565.3 275.5h1.2v1.2h-1.2zM596.6 262.8h1.3v1.3h-1.3zM608.8 279.2h1.6v1.6h-1.6zM582.9 288.8h1.5v1.5h-1.5zM541.4 301.6h1.1v1.1h-1.1zM603.9 317.4h1.4v1.4h-1.4zM544.7 296.9h1.3v1.3h-1.3zM600.6 291.0h1.1v1.1h-1.1zM579.8 265.5h1.1v1.1h-1.1zM566.9 319.3h1.5v1.5h-1.5zM587.7 279.1h1.5v1.5h-1.5zM604.9 290.5h1.3v1.3h-1.3zM577.3 276.5h1.2v1.2h-1.2zM572.7 280.3h1.4v1.4h-1.4zM608.9 278.4h1.1v1.1h-1.1zM540.5 285.8h1.4v1.4h-1.4zM603.9 265.3h1.0v1.0h-1.0zM583.7 327.6h1.3v1.3h-1.3zM569.9 276.8h1.4v1.4h-1.4zM559.4 298.8h1.1v1.1h-1.1zM541.7 305.6h1.5v1.5h-1.5zM584.3 271.1h1.6v1.6h-1.6zM566.8 307.7h1.3v1.3h-1.3zM550.0 329.0h1.6v1.6h-1.6zM599.4 319.2h1.2v1.2h-1.2zM567.4 279.4h1.4v1.4h-1.4zM608.4 286.4h1.1v1.1h-1.1zM579.1 319.6h1.0v1.0h-1.0zM560.8 320.1h1.0v1.0h-1.0zM557.1 322.9h1.5v1.5h-1.5zM594.7 315.2h1.2v1.2h-1.2zM567.8 290.6h1.5v1.5h-1.5zM549.4 287.0h1.5v1.5h-1.5zM573.7 317.0h1.1v1.1h-1.1zM590.8 285.8h1.4v1.4h-1.4zM570.0 267.4h1.0v1.0h-1.0zM566.6 323.4h1.4v1.4h-1.4zM596.3 306.3h1.3v1.3h-1.3zM561.8 275.3h0.9v0.9h-0.9zM590.0 278.5h1.2v1.2h-1.2zM574.2 306.7h1.2v1.2h-1.2zM568.2 320.2h1.5v1.5h-1.5zM580.2 301.6h1.3v1.3h-1.3zM601.3 279.8h1.3v1.3h-1.3zM556.2 312.1h1.2v1.2h-1.2z" fill="#1c1cd8" fill-opacity="1.00"/>
<path d="M555.7 300.4h1.5v1.5h-1.5zM607.9 313.2h1.3v1.3h-1.3zM580.7 286.8h1.6v1.6h-1.6zM609.2 321.9h0.9v0.9h-0.9zM573.4 319.2h1.0v1.0h-1.0zM609.4 294.5h0.9v0.9h-0.9zM603.5 300.5h1.0v1.0h-1.0zM571.2 269.7h1.4v1.4h-1.4zM605.3 307.0h1.3v1.3h-1.3zM541.6 291.4h1.0v1.0h-1.0zM543.2 294.3h1.3v1.3h-1.3zM608.8 300.3h1.5v1.5h-1.5zM573.5 271.8h1.3v1.3h-1.3zM540.2 308.1h1.4v1.4h-1.4zM578.7 296.7h1.6v1.6h-1.6zM589.1 308.7h1.4v1.4h-1.4zM566.7 284.1h1.3v1.3h-1.3zM588.0 300.6h1.2v1.2h-1.2zM593.7 284.9h0.9v0.9h-0.9zM549.6 319.9h1.1v1.1h-1.1zM605.2 303.4h0.9v0.9h-0.9zM579.5 306.8h1.5v1.5h-1.5zM580.7 306.6h1.0v1.0h-1.0zM575.2 301.3h1.5v1.5h-1.5zM564.5 317.5h1.6v1.6h-1.6zM561.0 271.1h1.0v1.0h-1.0zM594.5 267.2h1.4v1.4h-1.4zM579.1 288.7h0.9v0.9h-0.9zM541.0 296.0h0.9v0.9h-0.9zM573.9 324.4h1.5v1.5h-1.5zM592.3 282.6h1.3v1.3h-1.3zM593.2 270.2h1.0v1.0h-1.0zM594.7 320.7h1.6v1.6h-1.6zM553.5 292.2h1.2v1.2h-1.2zM559.0 290.5h1.1v1.1h-1.1zM555.7 315.7h1.2v1.2h-1.2zM601.2 326.9h1.1v1.1h-1.1zM559.2 312.1h1.5v1.5h-1.5zM590.3 289.7h0.9v0.9h-0.9zM551.7 276.3h1.2v1.2h-1.2zM555.0 276.9h1.3v1.3h-1.3zM596.9 323.4h1.6v1.6h-1.6zM592.4 285.4h1.0v1.0h-1.0zM562.6 285.1h1.3v1.3h-1.3zM604.5 323.6h1.0v1.0h-1.0zM597.1 298.3h1.6v1.6h-1.6zM568.4 292.9h1.0v1.0h-1.0zM601.2 331.1h0.9v0.9h-0.9zM606.7 274.9h1.5v1.5h-1.5zM591.8 277.7h0.9v0.9h-0.9zM580.3 273.6h1.4v1.4h-1.4zM556.9 282.1h1.5v1.5h-1.5zM559.8 284.6h1.2v1.2h-1.2zM546.5 298.3h0.9v0.9h-0.9zM559.7 267.8h1.0v1.0h-1.0zM543.2 318.9h1.1v1.1h-1.1zM562.2 272.7h1.2v1.2h-1.2zM597.9 277.4h1.0v1.0h-1.0zM598.6 263.9h1.0v1.0h-1.0zM593.4 324.3h1.3v1.3h-1.3zM589.0 281.9h1.0v1.0h-1.0zM549.3 266.4h1.4v1.4h-1.4zM609.2 301.3h1.4v1.4h-1.4zM559.1 262.6h1.1v1.1h-1.1zM581.7 291.0h1.4v1.4h-1.4zM568.1 332.0h1.4v1.4h-1.4zM599.4 316.3h1.6v1.6h-1.6zM553.7 296.6h1.4v1.4h-1.4zM593.0 269.9h1.1v1.1h-1.1zM555.8 290.3h1.4v1.4h-1.4zM569.2 315.4h1.5v1.5h-1.5zM595.9 262.5h1.0v1.0h-1.0zM591.6 265.2h1.2v1.2h-1.2zM564.2 263.0h1.3v1.3h-1.3zM589.8 282.5h1.2v1.2h-1.2zM545.4 278.2h1.4v1.4h-1.4zM595.2 274.4h1.5v1.5h-1.5zM550.5 301.3h1.1v1.1h-1.1zM601.4 320.6h1.4v1.4h-1.4zM539.9 292.8h1.4v1.4h-1.4zM580.0 270.9h1.1v1.1h-1.1zM557.8 304.2h1.0v1.0h-1.0zM564.1 294.7h1.2v1.2h-1.2zM575.1 299.4h1.2v1.2h-1.2zM572.7 331.6h1.2v1.2h-1.2zM593.8 268.1h0.9v0.9h-0.9zM553.9 292.7h1.1v1.1h-1.1zM555.7 262.6h1.5v1.5h-1.5zM573.0 264.6h1.1v1.1h-1.1zM552.7 274.4h1.2v1.2h-1.2zM574.3 329.3h1.5v1.5h-1.5zM568.0 262.9h0.9v0.9h-0.9zM596.9 294.5h1.2v1.2h-1.2zM596.6 262.4h1.6v1.6h-1.6zM558.6 292.3h1.0v1.0h-1.0zM549.5 314.7h1.6v1.6h-1.6zM569.0 318.7h1.5v1.5h-1.5zM601.3 271.9h1.2v1.2h-1.2zM566.1 317.8h1.0v1.0h-1.0zM569.4 320.3h1.2v1.2h-1.2zM555.0 301.5h1.4v1.4h-1.4zM555.4 288.2h1.1v1.1h-1.1zM585.3 326.9h1.0v1.0h-1.0zM578.7 317.9h1.5v1.5h-1.5zM572.7 261.7h1.4v1.4h-1.4zM597.9 287.1h1.0v1.0h-1.0zM551.6 267.9h1.3v1.3h-1.3zM577.1 309.7h1.2v1.2h-1.2zM539.8 272.2h1.5v1.5h-1.5zM565.7 284.9h1.4v1.4h-1.4zM588.2 271.3h1.0v1.0h-1.0zM581.5 271.9h1.2v1.2h-1.2zM567.1 263.9h1.5v1.5h-1.5zM562.6 289.9h1.0v1.0h-1.0zM540.8 275.2h1.4v1.4h-1.4zM590.8 301.3h1.2v1.2h-1.2zM590.8 284.8h1.3v1.3h-1.3zM574.1 265.0h1.0v1.0h-1.0zM565.3 290.1h1.5v1.5h-1.5zM601.0 300.5h1.4v1.4h-1.4zM576.2 331.6h1.0v1.0h-1.0zM572.5 311.7h1.1v1.1h-1.1zM559.1 292.1h1.5v1.5h-1.5zM545.3 266.5h1.2v1.2h-1.2zM599.5 323.8h1.0v1.0h-1.0zM576.8 312.3h1.4v1.4h-1.4zM571.8 286.4h1.4v1.4h-1.4zM599.1 292.7h1.0v1.0h-1.0zM547.4 299.7h1.4v1.4h-1.4zM591.5 271.9h1.0v1.0h-1.0zM596.3 307.1h1.4v1.4h-1.4zM579.2 270.4h1.4v1.4h-1.4zM578.5 273.2h1.6v1.6h-1.6zM581.5 281.2h1.6v1.6h-1.6zM593.1 263.6h1.2v1.2h-1.2zM563.4 302.8h1.2v1.2h-1.2zM585.0 319.3h1.0v1.0h-1.0zM590.1 286.4h1.4v1.4h-1.4zM605.3 313.0h1.3v1.3h-1.3zM554.0 295.0h1.5v1.5h-1.5zM595.2 299.3h1.3v1.3h-1.3zM540.3 302.2h1.1v1.1h-1.1zM583.7 275.0h1.2v1.2h-1.2zM564.5 319.4h1.5v1.5h-1.5zM583.4 271.9h1.0v1.0h-1.0zM604.7 291.9h1.4v1.4h-1.4zM582.0 266.0h1.3v1.3h-1.3zM601.7 271.2h1.1v1.1h-1.1zM549.3 265.0h1.1v1.1h-1.1zM553.6 291.1h1.1v1.1h-1.1zM550.6 323.0h1.3v1.3h-1.3zM581.1 273.6h0.9v0.9h-0.9zM549.3 281.4h1.4v1.4h-1.4zM583.9 322.6h1.2v1.2h-1.2z" fill="#1c1cd8" fill-opacity="0.75"/>
<path d="M597.8 319.3h1.3v1.3h-1.3zM568.7 275.5h1.6v1.6h-1.6zM580.4 301.0h1.5v1.5h-1.5zM562.6 304.5h0.9v0.9h-0.9zM600.8 276.7h1.2v1.2h-1.2zM570.1 313.0h1.4v1.4h-1.4zM571.8 266.6h1.6v1.6h-1.6zM545.3 266.1h1.6v1.6h-1.6zM596.4 275.2h1.1v1.1h-1.1zM568.7 309.6h0.9v0.9h-0.9zM541.3 289.9h1.3v1.3h-1.3zM585.3 294.3h0.9v0.9h-0.9zM593.7 327.5h1.0v1.0h-1.0zM564.6 313.3h0.9v0.9h-0.9zM546.3 295.4h0.9v0.9h-0.9zM558.6 262.1h1.5v1.5h-1.5zM608.0 264.4h0.9v0.9h-0.9zM565.7 299.6h1.3v1.3h-1.3zM557.1 277.7h1.0v1.0h-1.0zM593.1 327.4h1.3v1.3h-1.3zM594.3 284.7h0.9v0.9h-0.9zM555.9 286.4h1.3v1.3h-1.3zM572.6 293.5h1.6v1.6h-1.6zM560.0 321.2h1.4v1.4h-1.4zM605.7 313.6h1.4v1.4h-1.4zM540.5 267.0h1.4v1.4h-1.4zM582.5 316.7h1.5v1.5h-1.5zM567.8 296.2h1.2v1.2h-1.2zM580.2 324.6h1.2v1.2h-1.2zM565.7 286.8h1.6v1.6h-1.6zM593.6 313.0h1.5v1.5h-1.5zM571.5 288.2h0.9v0.9h-0.9zM554.1 286.9h1.0v1.0h-1.0zM543.5 279.4h1.5v1.5h-1.5zM546.6 297.0h0.9v0.9h-0.9zM579.6 294.3h0.9v0.9h-0.9zM579.5 274.0h1.1v1.1h-1.1zM558.2 299.6h1.4v1.4h-1.4zM570.8 282.6h1.2v1.2h-1.2zM547.2 262.1h0.9v0.9h-0.9zM579.6 276.0h1.1v1.1h-1.1zM596.6 271.9h1.5v1.5h-1.5zM586.0 313.6h1.5v1.5h-1.5zM548.3 263.7h1.6v1.6h-1.6zM594.3 292.4h1.3v1.3h-1.3zM553.6 328.8h0.9v0.9h-0.9zM589.1 329.0h1.4v1.4h-1.4zM590.9 277.8h1.0v1.0h-1.0zM585.9 310.6h0.9v0.9h-0.9zM603.6 298.3h1.0v1.0h-1.0zM597.5 294.3h1.3v1.3h-1.3zM581.6 298.8h1.1v1.1h-1.1zM603.0 280.6h1.3v1.3h-1.3zM551.6 330.9h1.4v1.4h-1.4zM549.4 319.8h0.9v0.9h-0.9zM564.5 281.4h1.2v1.2h-1.2zM598.3 270.3h1.4v1.4h-1.4zM597.4 284.3h1.1v1.1h-1.1zM580.9 269.6h1.3v1.3h-1.3zM602.8 274.0h1.1v1.1h-1.1zM579.1 319.5h1.3v1.3h-1.3zM539.7 307.0h1.4v1.4h-1.4zM593.0 265.3h1.0v1.0h-1.0zM543.0 283.1h1.4v1.4h-1.4zM541.3 317.0h1.2v1.2h-1.2zM539.8 320.3h1.1v1.1h-1.1zM557.9 293.5h1.1v1.1h-1.1zM557.4 302.6h1.0v1.0h-1.0zM599.1 321.2h1.5v1.5h-1.5zM545.3 271.5h1.4v1.4h-1.4z" fill="#1c1cd8" fill-opacity="0.50"/>
<path d="M540.1 275.6 L548.1 274.9 L556.1 274.4 L563.1 273.6 L567.6 271.6 L569.1 267.1 L570.1 262.1 L582.1 262.1 L585.1 264.1 L589.1 266.1 L592.1 270.1 L594.1 273.1 L597.1 277.1 L599.1 280.1 L602.1 284.1 L604.6 288.1 L605.6 292.1 L603.1 295.1 L601.1 299.1 L598.1 302.1 L596.1 305.1 L594.1 308.1 L592.1 312.1 L590.1 316.1 L588.6 319.6 L585.1 321.6 L581.1 323.1 L577.1 324.6 L573.1 326.6 L569.1 328.6 L566.1 331.1 L563.1 333.6 L540.1 333.6 Z" fill="#3e0a44" opacity="0.95"/>
<path d="M540.1 275.6 L548.1 274.9 L556.1 274.4 L563.1 273.6 L567.6 271.6 L569.1 267.1 L570.1 262.1 L582.1 262.1 L585.1 264.1 L589.1 266.1 L592.1 270.1 L594.1 273.1 L597.1 277.1 L599.1 280.1 L602.1 284.1 L604.6 288.1 L605.6 292.1 L603.1 295.1 L601.1 299.1 L598.1 302.1 L596.1 305.1 L594.1 308.1 L592.1 312.1 L590.1 316.1 L588.6 319.6 L585.1 321.6 L581.1 323.1 L577.1 324.6 L573.1 326.6 L569.1 328.6 L566.1 331.1 L563.1 333.6 L540.1 333.6 Z" fill="#fff" filter="url(#fmag)" opacity="0.95"/>
<circle cx="553.9" cy="282.1" r="5.0" fill="#e040e8" opacity="0.47" filter="url(#fblur1)"/>
<circle cx="565.9" cy="283.1" r="4.0" fill="#e040e8" opacity="0.43" filter="url(#fblur1)"/>
<circle cx="576.9" cy="287.1" r="4.0" fill="#e040e8" opacity="0.38" filter="url(#fblur1)"/>
<circle cx="593.9" cy="280.1" r="2.5" fill="#e040e8" opacity="0.57" filter="url(#fblur1)"/>
<circle cx="599.9" cy="288.1" r="2.0" fill="#e040e8" opacity="0.66" filter="url(#fblur1)"/>
<circle cx="602.9" cy="292.1" r="2.0" fill="#e040e8" opacity="0.66" filter="url(#fblur1)"/>
<circle cx="595.9" cy="299.1" r="2.0" fill="#e040e8" opacity="0.57" filter="url(#fblur1)"/>
<circle cx="589.9" cy="309.1" r="2.0" fill="#e040e8" opacity="0.57" filter="url(#fblur1)"/>
<circle cx="585.9" cy="318.1" r="2.2" fill="#e040e8" opacity="0.57" filter="url(#fblur1)"/>
<circle cx="578.9" cy="323.1" r="2.0" fill="#e040e8" opacity="0.57" filter="url(#fblur1)"/>
<circle cx="573.9" cy="276.1" r="3.0" fill="#e040e8" opacity="0.43" filter="url(#fblur1)"/>
<circle cx="584.9" cy="265.1" r="2.0" fill="#e040e8" opacity="0.57" filter="url(#fblur1)"/>
<circle cx="559.9" cy="305.1" r="4.0" fill="#e040e8" opacity="0.28" filter="url(#fblur1)"/>
<circle cx="549.9" cy="316.1" r="3.5" fill="#e040e8" opacity="0.28" filter="url(#fblur1)"/>
<path d="M587.2 296.0h1.9v1.9h-1.9zM603.9 292.0h1.2v1.2h-1.2zM567.1 267.3h1.1v1.1h-1.1zM557.2 283.1h1.8v1.8h-1.8zM578.1 307.6h1.9v1.9h-1.9zM552.0 298.4h1.5v1.5h-1.5zM583.4 292.9h1.0v1.0h-1.0zM583.1 299.0h1.5v1.5h-1.5zM562.0 300.6h1.4v1.4h-1.4zM552.0 310.8h1.9v1.9h-1.9zM547.6 269.0h1.5v1.5h-1.5zM552.7 294.9h1.0v1.0h-1.0zM585.2 327.8h1.3v1.3h-1.3zM561.3 276.8h1.4v1.4h-1.4zM557.0 309.8h1.3v1.3h-1.3zM578.5 318.2h1.7v1.7h-1.7zM582.9 297.4h1.9v1.9h-1.9zM559.2 298.2h1.8v1.8h-1.8zM558.2 273.6h1.3v1.3h-1.3zM585.7 317.8h1.1v1.1h-1.1zM591.6 314.5h1.3v1.3h-1.3zM544.8 302.7h1.6v1.6h-1.6zM558.0 314.7h1.8v1.8h-1.8zM550.8 310.8h1.4v1.4h-1.4zM601.2 286.9h1.1v1.1h-1.1z" fill="#f0d020" fill-opacity="0.75"/>
<path d="M595.2 321.6h1.9v1.9h-1.9zM548.9 277.6h1.7v1.7h-1.7zM551.0 277.6h1.1v1.1h-1.1zM588.7 314.7h1.1v1.1h-1.1zM595.2 317.0h1.5v1.5h-1.5zM584.9 318.6h1.8v1.8h-1.8zM575.7 308.0h1.1v1.1h-1.1zM588.2 304.0h1.5v1.5h-1.5zM558.9 318.0h1.1v1.1h-1.1zM559.0 312.8h1.9v1.9h-1.9zM555.1 300.3h1.3v1.3h-1.3zM591.6 308.5h1.6v1.6h-1.6zM571.0 326.2h1.1v1.1h-1.1zM598.2 304.1h1.1v1.1h-1.1zM584.5 298.2h2.0v2.0h-2.0z" fill="#f0d020" fill-opacity="1.00"/>
<text x="541.60" y="273.08" font-size="10.00" text-anchor="start" fill="#ececec" style="" textLength="24.5" lengthAdjust="spacingAndGlyphs">Merge</text>
<line x1="542.40" y1="328.40" x2="559.70" y2="328.40" stroke="#f4f4f4" stroke-width="1.60" stroke-linecap="butt"/>
<rect x="574.90" y="291.80" width="24.20" height="24.00" fill="none" stroke="#fff" stroke-width="1.20"/>
</g>
<line x1="599.00" y1="292.00" x2="610.60" y2="286.00" stroke="#fff" stroke-width="1.20" stroke-linecap="butt"/>
<line x1="599.00" y1="315.80" x2="610.60" y2="331.00" stroke="#fff" stroke-width="1.20" stroke-linecap="butt"/>
<line x1="606.20" y1="270.50" x2="608.10" y2="263.90" stroke="#fff" stroke-width="1.20" stroke-linecap="butt"/>
<g clip-path="url(#cp6)">
<rect x="613.20" y="262.10" width="70.70" height="70.70" fill="#2c0a32" stroke="none" stroke-width="0.00"/>
<rect x="613.20" y="262.10" width="70.70" height="70.70" fill="#fff" filter="url(#fmagz)"/>
<ellipse cx="674" cy="287" rx="11" ry="4" fill="#d050d8" opacity="0.75" filter="url(#fblur2)"/>
<path d="M648 320 L652 308 L657 303 L664 301 L669 305 L666 313 L663 322 L655 324 Z" fill="#f080f0" opacity="0.9" filter="url(#fblur2)"/>
<path d="M655 318 L660 308 L664 306 L663 316 Z" fill="#fff0ff" opacity="0.6" filter="url(#fblur08)"/>
<ellipse cx="661" cy="314" rx="2.5" ry="5" fill="#180418" opacity="0.85" filter="url(#fblur08)"/>
<ellipse cx="640" cy="288" rx="4" ry="3.5" fill="#10040f" opacity="0.8" filter="url(#fblur08)"/>
<ellipse cx="665" cy="330" rx="10" ry="4" fill="#d060d8" opacity="0.5" filter="url(#fblur2)"/>
<ellipse cx="635.7" cy="283.0" rx="3.1" ry="2.7" fill="#2a32c8" opacity="0.8" filter="url(#fblur08)"/>
<ellipse cx="643.0" cy="290.8" rx="3.1" ry="2.7" fill="#2a32c8" opacity="0.8" filter="url(#fblur08)"/>
<ellipse cx="625.2" cy="292.8" rx="3.1" ry="2.7" fill="#2a32c8" opacity="0.8" filter="url(#fblur08)"/>
<ellipse cx="637.0" cy="307.3" rx="3.1" ry="2.7" fill="#2a32c8" opacity="0.8" filter="url(#fblur08)"/>
<ellipse cx="655.4" cy="297.4" rx="3.1" ry="2.7" fill="#2a32c8" opacity="0.8" filter="url(#fblur08)"/>
<ellipse cx="658.7" cy="277.7" rx="3.1" ry="2.7" fill="#2a32c8" opacity="0.8" filter="url(#fblur08)"/>
<ellipse cx="676.5" cy="279.0" rx="3.1" ry="2.7" fill="#2a32c8" opacity="0.8" filter="url(#fblur08)"/>
<ellipse cx="673.8" cy="290.2" rx="3.1" ry="2.7" fill="#2a32c8" opacity="0.8" filter="url(#fblur08)"/>
<ellipse cx="679.7" cy="304.6" rx="3.1" ry="2.7" fill="#2a32c8" opacity="0.8" filter="url(#fblur08)"/>
<ellipse cx="663.3" cy="290.8" rx="3.1" ry="2.7" fill="#2a32c8" opacity="0.8" filter="url(#fblur08)"/>
<ellipse cx="672.5" cy="303.3" rx="3.1" ry="2.7" fill="#2a32c8" opacity="0.8" filter="url(#fblur08)"/>
<ellipse cx="644.3" cy="310.6" rx="3.1" ry="2.7" fill="#2a32c8" opacity="0.8" filter="url(#fblur08)"/>
<ellipse cx="618.0" cy="285.6" rx="3.1" ry="2.7" fill="#2a32c8" opacity="0.8" filter="url(#fblur08)"/>
<ellipse cx="649.5" cy="270.5" rx="3.1" ry="2.7" fill="#2a32c8" opacity="0.8" filter="url(#fblur08)"/>
<ellipse cx="661.4" cy="321.0" rx="3.1" ry="2.7" fill="#2a32c8" opacity="0.8" filter="url(#fblur08)"/>
<ellipse cx="673.8" cy="322.4" rx="3.1" ry="2.7" fill="#2a32c8" opacity="0.8" filter="url(#fblur08)"/>
<ellipse cx="616.0" cy="297.4" rx="3.1" ry="2.7" fill="#2a32c8" opacity="0.8" filter="url(#fblur08)"/>
<ellipse cx="628.0" cy="273.0" rx="3.1" ry="2.7" fill="#2a32c8" opacity="0.8" filter="url(#fblur08)"/>
<circle cx="667.40" cy="283.80" r="2.30" fill="#30b030"/>
<circle cx="666.60" cy="283.00" r="2.30" fill="#f0c020"/>
<circle cx="674.00" cy="298.20" r="2.10" fill="#30b030"/>
<circle cx="673.20" cy="297.40" r="2.10" fill="#f0c020"/>
<circle cx="630.60" cy="315.30" r="2.30" fill="#30b030"/>
<circle cx="629.80" cy="314.50" r="2.30" fill="#f0c020"/>
<circle cx="634.60" cy="291.00" r="1.70" fill="#30b030"/>
<circle cx="633.80" cy="290.20" r="1.70" fill="#f0c020"/>
<circle cx="669.40" cy="331.10" r="1.90" fill="#30b030"/>
<circle cx="668.60" cy="330.30" r="1.90" fill="#f0c020"/>
<text x="616.70" y="274.08" font-size="10.00" text-anchor="start" fill="#ececec" style="" textLength="24.9" lengthAdjust="spacingAndGlyphs">Merge</text>
<text x="613.40" y="325.62" font-size="9.00" text-anchor="start" fill="#e6e6e6" style="font-family:'Liberation Serif', serif;" textLength="23.6" lengthAdjust="spacingAndGlyphs">10 µm</text>
<line x1="615.40" y1="328.30" x2="629.80" y2="328.30" stroke="#f4f4f4" stroke-width="1.60" stroke-linecap="butt"/>
</g>
<text x="4.30" y="353.60" font-size="17.50" fill="#000">i</text>
<text x="137.40" y="345.73" font-size="13.20" text-anchor="middle" fill="#352e30" style="font-style:italic;" textLength="33.2" lengthAdjust="spacingAndGlyphs">db/db</text>
<g clip-path="url(#cp7)">
<rect x="26.80" y="350.70" width="71.20" height="71.00" fill="#000" stroke="none" stroke-width="0.00"/>
<path d="M26.8 350.7 L98.0 350.7 L98.0 403.4 C86.8 405.2 74.8 407.7 66.8 409.7 C56.8 412.7 46.8 416.7 41.3 418.2 L41.3 421.9 L26.8 421.9 Z" fill="#2e0834" filter="url(#fblur1)"/>
<path d="M26.8 350.7 L98.0 350.7 L98.0 403.4 C86.8 405.2 74.8 407.7 66.8 409.7 C56.8 412.7 46.8 416.7 41.3 418.2 L41.3 421.9 L26.8 421.9 Z" fill="#fff" filter="url(#fmagi)" opacity="1.00"/>
<ellipse cx="50.8" cy="403.7" rx="5" ry="4" fill="#000" opacity="0.7"/>
<ellipse cx="95.8" cy="418.7" rx="3.5" ry="2.5" fill="#e040e0" opacity="0.8" filter="url(#fblur1)"/>
<ellipse cx="28.8" cy="402.7" rx="3" ry="4" fill="#d030d0" opacity="0.6" filter="url(#fblur1)"/>
<rect x="29.5" y="352.5" width="28" height="9" fill="#000" opacity="0.55"/>
<text x="30.70" y="360.38" font-size="8.60" text-anchor="start" fill="#e048e0" style="" textLength="25.6" lengthAdjust="spacingAndGlyphs">Insulin</text>
<text x="29.40" y="413.72" font-size="9.00" text-anchor="start" fill="#e6e6e6" style="font-family:'Liberation Serif', serif;" textLength="23.9" lengthAdjust="spacingAndGlyphs">50 µm</text>
<line x1="29.90" y1="417.30" x2="47.50" y2="417.30" stroke="#f4f4f4" stroke-width="1.60" stroke-linecap="butt"/>
</g>
<g clip-path="url(#cp8)">
<rect x="101.00" y="350.70" width="71.10" height="71.00" fill="#000" stroke="none" stroke-width="0.00"/>
<path d="M135.5 393.1h1.3v1.3h-1.3zM123.3 401.8h1.0v1.0h-1.0zM164.0 401.5h1.1v1.1h-1.1zM131.2 367.2h1.2v1.2h-1.2zM144.4 406.1h1.1v1.1h-1.1zM151.2 374.5h1.0v1.0h-1.0zM104.8 381.5h0.7v0.7h-0.7zM160.9 421.1h1.0v1.0h-1.0zM144.3 360.2h1.0v1.0h-1.0zM128.8 366.7h1.0v1.0h-1.0zM149.2 399.0h1.1v1.1h-1.1zM168.6 381.5h0.8v0.8h-0.8zM140.9 384.0h1.0v1.0h-1.0zM118.1 364.9h1.0v1.0h-1.0zM164.2 418.4h1.1v1.1h-1.1zM143.1 368.0h1.0v1.0h-1.0zM135.9 363.0h0.9v0.9h-0.9zM152.2 391.8h0.7v0.7h-0.7zM122.4 401.8h1.3v1.3h-1.3zM138.7 375.7h1.0v1.0h-1.0zM125.8 395.7h1.1v1.1h-1.1zM144.2 407.5h1.2v1.2h-1.2zM131.9 396.6h1.1v1.1h-1.1z" fill="#c81010" fill-opacity="0.50"/>
<path d="M129.4 379.1h0.8v0.8h-0.8zM125.2 362.3h0.9v0.9h-0.9zM165.3 368.0h1.2v1.2h-1.2zM161.1 387.5h1.0v1.0h-1.0zM151.1 409.1h0.8v0.8h-0.8zM153.1 373.3h0.8v0.8h-0.8zM133.6 416.8h1.1v1.1h-1.1zM110.1 390.8h0.9v0.9h-0.9zM114.6 366.4h1.1v1.1h-1.1zM104.3 379.9h1.0v1.0h-1.0zM155.9 413.2h1.1v1.1h-1.1zM134.0 376.5h0.8v0.8h-0.8zM146.5 396.9h1.4v1.4h-1.4zM167.7 384.5h0.8v0.8h-0.8zM156.1 389.2h0.9v0.9h-0.9zM107.8 400.5h1.0v1.0h-1.0zM136.6 375.9h0.8v0.8h-0.8zM132.9 376.0h1.1v1.1h-1.1zM106.9 387.2h0.8v0.8h-0.8zM103.7 410.6h1.1v1.1h-1.1zM136.0 368.8h1.3v1.3h-1.3z" fill="#c81010" fill-opacity="0.75"/>
<path d="M121.3 420.0h0.9v0.9h-0.9z" fill="#c81010" fill-opacity="1.00"/>
<circle cx="105.50" cy="367.50" r="1.10" fill="#ff2020"/>
<circle cx="113.00" cy="365.00" r="0.90" fill="#ff2020"/>
<circle cx="117.70" cy="366.50" r="1.30" fill="#ff2020"/>
<circle cx="110.00" cy="375.00" r="0.90" fill="#ff2020"/>
<circle cx="120.00" cy="380.00" r="0.80" fill="#ff2020"/>
<circle cx="113.00" cy="390.00" r="0.80" fill="#ff2020"/>
<circle cx="130.00" cy="374.00" r="0.70" fill="#ff2020"/>
<circle cx="146.00" cy="368.00" r="0.70" fill="#ff2020"/>
<circle cx="160.00" cy="375.00" r="0.70" fill="#ff2020"/>
<circle cx="157.00" cy="380.00" r="0.70" fill="#ff2020"/>
<text x="105.10" y="360.38" font-size="8.60" text-anchor="start" fill="#e8201c" style="" textLength="25.5" lengthAdjust="spacingAndGlyphs">CD11c</text>
<line x1="105.00" y1="417.30" x2="122.00" y2="417.30" stroke="#f4f4f4" stroke-width="1.60" stroke-linecap="butt"/>
</g>
<g clip-path="url(#cp9)">
<rect x="175.20" y="350.70" width="70.90" height="71.00" fill="#000" stroke="none" stroke-width="0.00"/>
<path d="M197.8 397.4h0.7v0.7h-0.7zM208.6 378.5h0.8v0.8h-0.8zM218.8 397.4h1.2v1.2h-1.2zM212.6 378.3h1.0v1.0h-1.0zM227.2 391.6h0.9v0.9h-0.9zM227.4 407.7h1.1v1.1h-1.1zM233.5 362.2h0.8v0.8h-0.8zM219.5 398.1h1.0v1.0h-1.0zM179.5 414.4h1.1v1.1h-1.1zM204.7 405.7h0.8v0.8h-0.8zM215.5 364.4h0.9v0.9h-0.9zM216.6 373.7h0.8v0.8h-0.8zM212.5 398.7h0.8v0.8h-0.8zM183.9 419.9h1.3v1.3h-1.3zM220.4 413.1h1.3v1.3h-1.3z" fill="#18c028" fill-opacity="1.00"/>
<path d="M233.0 421.2h0.9v0.9h-0.9zM241.7 419.9h1.2v1.2h-1.2zM210.5 390.1h0.9v0.9h-0.9zM175.8 384.9h0.7v0.7h-0.7zM208.1 405.2h0.9v0.9h-0.9zM202.7 386.5h1.0v1.0h-1.0zM206.6 367.2h1.3v1.3h-1.3zM222.4 419.0h1.0v1.0h-1.0zM174.7 412.6h1.1v1.1h-1.1zM215.4 363.0h0.7v0.7h-0.7zM177.1 372.0h0.8v0.8h-0.8zM233.7 368.0h0.9v0.9h-0.9zM187.7 384.9h1.1v1.1h-1.1z" fill="#18c028" fill-opacity="0.50"/>
<path d="M178.7 370.6h0.7v0.7h-0.7zM200.5 409.5h1.2v1.2h-1.2zM186.7 380.2h0.7v0.7h-0.7zM188.0 367.4h1.3v1.3h-1.3zM185.1 373.6h1.2v1.2h-1.2zM195.8 359.3h0.9v0.9h-0.9zM179.7 374.0h0.9v0.9h-0.9zM209.6 393.7h1.3v1.3h-1.3zM181.5 377.4h0.9v0.9h-0.9zM177.2 370.1h1.0v1.0h-1.0zM236.6 420.1h1.0v1.0h-1.0zM183.9 396.2h0.8v0.8h-0.8zM194.3 387.5h1.3v1.3h-1.3zM209.6 419.0h1.0v1.0h-1.0zM220.3 389.7h1.2v1.2h-1.2zM216.9 401.5h1.3v1.3h-1.3zM214.1 379.9h1.0v1.0h-1.0zM181.9 391.8h1.1v1.1h-1.1zM176.3 375.2h0.9v0.9h-0.9zM192.7 420.2h0.8v0.8h-0.8zM206.9 359.2h0.8v0.8h-0.8zM224.3 366.2h1.2v1.2h-1.2zM178.8 413.2h0.8v0.8h-0.8zM220.9 404.5h1.2v1.2h-1.2zM198.0 415.1h0.7v0.7h-0.7zM244.5 369.9h1.3v1.3h-1.3zM178.8 376.1h1.2v1.2h-1.2zM220.2 401.7h0.9v0.9h-0.9zM215.2 409.6h0.9v0.9h-0.9zM197.3 371.1h1.2v1.2h-1.2zM227.5 383.3h0.9v0.9h-0.9zM241.2 408.5h1.4v1.4h-1.4zM213.3 377.1h1.1v1.1h-1.1zM228.6 410.8h1.3v1.3h-1.3zM220.6 362.4h0.9v0.9h-0.9zM221.4 391.6h0.8v0.8h-0.8zM190.3 362.4h1.3v1.3h-1.3zM229.3 388.6h1.1v1.1h-1.1zM232.8 407.4h1.0v1.0h-1.0zM194.2 415.5h1.0v1.0h-1.0zM232.4 414.0h0.8v0.8h-0.8zM205.8 385.0h1.0v1.0h-1.0zM232.1 412.4h1.2v1.2h-1.2zM239.8 360.5h0.9v0.9h-0.9zM235.5 415.3h1.4v1.4h-1.4zM213.4 370.8h0.7v0.7h-0.7zM213.3 413.3h1.3v1.3h-1.3zM178.5 393.9h1.4v1.4h-1.4zM220.4 390.6h1.0v1.0h-1.0zM191.0 386.3h1.3v1.3h-1.3zM175.4 404.1h0.8v0.8h-0.8zM196.3 408.8h0.8v0.8h-0.8z" fill="#18c028" fill-opacity="0.75"/>
<circle cx="180.00" cy="367.50" r="1.20" fill="#30f040"/>
<circle cx="186.00" cy="365.00" r="1.00" fill="#30f040"/>
<circle cx="192.00" cy="366.50" r="1.40" fill="#30f040"/>
<circle cx="184.00" cy="375.00" r="1.00" fill="#30f040"/>
<circle cx="196.00" cy="378.00" r="0.90" fill="#30f040"/>
<circle cx="189.00" cy="387.00" r="0.90" fill="#30f040"/>
<circle cx="210.00" cy="372.00" r="0.80" fill="#30f040"/>
<circle cx="221.00" cy="368.00" r="0.80" fill="#30f040"/>
<circle cx="232.00" cy="375.00" r="0.80" fill="#30f040"/>
<text x="178.70" y="360.38" font-size="8.60" text-anchor="start" fill="#2aa86a" style="" textLength="17.3" lengthAdjust="spacingAndGlyphs">Gal3</text>
<line x1="178.50" y1="417.30" x2="195.50" y2="417.30" stroke="#f4f4f4" stroke-width="1.60" stroke-linecap="butt"/>
</g>
<g clip-path="url(#cp10)">
<rect x="26.80" y="423.90" width="71.20" height="71.30" fill="#000" stroke="none" stroke-width="0.00"/>
<path d="M62.2 455.6h1.2v1.2h-1.2zM85.7 434.7h1.1v1.1h-1.1zM48.1 432.9h0.9v0.9h-0.9zM43.0 482.2h1.0v1.0h-1.0zM51.0 448.1h1.4v1.4h-1.4zM77.6 430.5h0.8v0.8h-0.8zM64.2 432.7h1.4v1.4h-1.4zM28.0 476.2h1.3v1.3h-1.3zM75.5 448.6h1.0v1.0h-1.0zM82.7 456.9h1.2v1.2h-1.2zM84.2 452.2h1.0v1.0h-1.0zM97.2 451.8h1.1v1.1h-1.1zM41.4 480.0h1.0v1.0h-1.0zM93.6 493.8h1.2v1.2h-1.2zM35.6 490.7h1.2v1.2h-1.2zM87.2 440.3h1.3v1.3h-1.3zM38.1 450.5h1.1v1.1h-1.1zM79.3 440.8h1.4v1.4h-1.4zM94.4 477.1h1.1v1.1h-1.1zM62.4 459.5h0.9v0.9h-0.9zM51.6 435.3h1.1v1.1h-1.1zM37.1 462.3h1.0v1.0h-1.0zM87.2 429.5h0.9v0.9h-0.9zM56.3 478.7h1.4v1.4h-1.4zM85.0 494.2h0.8v0.8h-0.8zM85.3 492.2h1.1v1.1h-1.1zM27.3 446.9h1.1v1.1h-1.1zM92.3 480.6h1.3v1.3h-1.3zM59.5 493.2h0.8v0.8h-0.8zM90.5 460.3h1.4v1.4h-1.4zM76.2 493.2h1.2v1.2h-1.2zM79.9 442.3h1.0v1.0h-1.0zM96.2 430.2h0.9v0.9h-0.9zM37.6 434.1h1.1v1.1h-1.1zM93.6 462.2h1.1v1.1h-1.1zM37.1 470.0h1.3v1.3h-1.3zM77.4 477.1h1.0v1.0h-1.0zM65.2 468.6h0.8v0.8h-0.8zM28.8 464.2h1.1v1.1h-1.1zM27.3 442.0h1.1v1.1h-1.1zM62.9 445.2h0.9v0.9h-0.9zM96.6 479.7h1.2v1.2h-1.2zM44.7 447.5h1.0v1.0h-1.0zM86.9 433.0h0.9v0.9h-0.9zM55.0 462.0h1.0v1.0h-1.0zM84.0 442.0h1.0v1.0h-1.0zM54.5 436.0h1.3v1.3h-1.3zM68.6 428.9h0.8v0.8h-0.8zM70.5 469.3h1.4v1.4h-1.4zM84.2 490.2h1.4v1.4h-1.4zM47.7 449.8h1.2v1.2h-1.2zM67.7 437.3h1.1v1.1h-1.1zM51.8 452.3h1.1v1.1h-1.1zM89.5 452.4h1.3v1.3h-1.3zM37.7 475.1h1.0v1.0h-1.0zM26.5 467.7h1.1v1.1h-1.1zM93.6 439.3h0.9v0.9h-0.9zM37.9 429.2h1.2v1.2h-1.2zM60.7 462.2h1.4v1.4h-1.4zM90.5 468.7h1.5v1.5h-1.5zM97.5 456.2h0.9v0.9h-0.9zM80.9 443.3h0.9v0.9h-0.9zM26.7 431.1h1.1v1.1h-1.1zM73.9 448.5h0.8v0.8h-0.8zM82.7 486.5h0.9v0.9h-0.9zM82.5 466.0h1.4v1.4h-1.4zM75.4 452.0h1.2v1.2h-1.2zM55.7 454.0h0.9v0.9h-0.9zM85.5 452.0h1.1v1.1h-1.1zM61.4 430.8h1.3v1.3h-1.3zM76.2 469.4h1.2v1.2h-1.2zM81.3 433.8h1.0v1.0h-1.0zM50.5 430.7h1.2v1.2h-1.2zM36.6 451.8h1.0v1.0h-1.0zM33.0 452.4h1.1v1.1h-1.1zM96.2 442.1h1.3v1.3h-1.3zM32.6 477.5h1.2v1.2h-1.2zM42.7 449.7h1.0v1.0h-1.0zM59.8 460.8h0.8v0.8h-0.8zM39.3 444.7h1.4v1.4h-1.4zM38.3 434.7h1.3v1.3h-1.3zM76.1 453.2h1.2v1.2h-1.2zM71.5 454.7h1.0v1.0h-1.0zM77.7 431.4h0.9v0.9h-0.9zM76.2 423.9h1.0v1.0h-1.0zM43.4 471.9h1.0v1.0h-1.0zM72.0 469.8h1.0v1.0h-1.0zM58.7 491.1h1.3v1.3h-1.3zM94.6 427.8h1.0v1.0h-1.0zM30.9 463.3h0.9v0.9h-0.9zM31.4 426.7h0.9v0.9h-0.9zM61.7 460.6h1.5v1.5h-1.5zM75.6 476.5h1.2v1.2h-1.2zM93.1 433.9h0.9v0.9h-0.9zM51.0 450.7h0.9v0.9h-0.9zM76.1 483.3h0.8v0.8h-0.8zM34.6 453.9h0.9v0.9h-0.9zM40.0 484.7h0.9v0.9h-0.9zM30.8 434.3h1.1v1.1h-1.1zM43.5 458.8h0.9v0.9h-0.9zM60.7 456.4h1.1v1.1h-1.1zM92.5 450.4h0.9v0.9h-0.9zM81.3 450.1h1.1v1.1h-1.1zM78.6 459.8h1.1v1.1h-1.1zM48.2 456.0h1.3v1.3h-1.3zM43.1 485.3h1.5v1.5h-1.5zM36.7 477.9h1.0v1.0h-1.0zM70.6 438.9h0.9v0.9h-0.9zM39.3 435.9h1.5v1.5h-1.5zM61.2 456.5h0.9v0.9h-0.9zM28.7 483.7h1.0v1.0h-1.0zM56.5 493.6h1.0v1.0h-1.0zM86.1 459.4h1.5v1.5h-1.5zM29.7 487.0h1.4v1.4h-1.4zM43.1 478.8h1.0v1.0h-1.0zM33.7 461.6h0.8v0.8h-0.8zM49.7 466.5h1.2v1.2h-1.2zM33.3 457.9h1.3v1.3h-1.3zM35.5 451.4h1.2v1.2h-1.2zM46.3 471.9h1.3v1.3h-1.3zM29.1 490.2h1.5v1.5h-1.5zM93.4 465.6h1.1v1.1h-1.1zM76.0 436.7h1.3v1.3h-1.3zM63.6 488.0h1.1v1.1h-1.1zM85.3 425.5h1.1v1.1h-1.1zM86.4 455.8h1.0v1.0h-1.0zM94.8 453.3h1.3v1.3h-1.3zM64.0 484.3h0.8v0.8h-0.8zM29.3 488.1h1.4v1.4h-1.4zM33.1 469.2h1.4v1.4h-1.4zM65.9 470.7h0.9v0.9h-0.9zM54.7 435.7h1.3v1.3h-1.3zM64.8 470.0h1.3v1.3h-1.3zM93.6 471.1h1.2v1.2h-1.2zM96.9 445.2h0.9v0.9h-0.9zM63.3 483.8h1.4v1.4h-1.4zM41.8 485.2h1.4v1.4h-1.4zM71.6 455.2h0.9v0.9h-0.9zM86.0 467.1h1.3v1.3h-1.3zM34.9 431.5h1.2v1.2h-1.2zM54.2 453.5h1.4v1.4h-1.4zM48.9 441.5h1.5v1.5h-1.5zM62.0 443.0h1.1v1.1h-1.1zM70.8 447.5h1.4v1.4h-1.4zM59.3 484.9h1.4v1.4h-1.4zM70.1 453.9h1.0v1.0h-1.0zM33.2 469.8h0.9v0.9h-0.9zM49.5 423.4h1.2v1.2h-1.2zM94.1 459.6h1.2v1.2h-1.2zM41.8 433.5h1.0v1.0h-1.0zM49.9 450.2h1.4v1.4h-1.4zM35.4 472.6h1.5v1.5h-1.5zM89.0 469.4h1.1v1.1h-1.1zM88.5 486.1h0.8v0.8h-0.8zM85.1 446.9h1.2v1.2h-1.2zM61.2 434.0h1.4v1.4h-1.4zM79.0 458.8h1.3v1.3h-1.3zM82.6 441.3h0.9v0.9h-0.9zM32.2 434.2h0.9v0.9h-0.9zM36.8 438.5h0.9v0.9h-0.9zM82.1 479.8h1.3v1.3h-1.3zM67.3 462.8h1.4v1.4h-1.4zM47.2 444.6h1.4v1.4h-1.4zM47.7 438.8h0.8v0.8h-0.8zM66.8 480.6h0.8v0.8h-0.8zM89.4 476.6h1.2v1.2h-1.2zM52.8 433.0h0.9v0.9h-0.9zM39.7 465.1h1.3v1.3h-1.3zM75.0 462.5h1.1v1.1h-1.1zM51.2 472.8h1.5v1.5h-1.5zM29.8 445.5h1.0v1.0h-1.0zM35.0 442.5h1.1v1.1h-1.1zM95.5 437.1h1.4v1.4h-1.4zM51.3 478.9h0.9v0.9h-0.9zM30.2 456.7h1.1v1.1h-1.1zM70.7 451.1h1.5v1.5h-1.5zM67.9 448.8h1.1v1.1h-1.1zM88.3 433.8h1.5v1.5h-1.5zM67.6 428.7h1.4v1.4h-1.4zM66.5 424.3h1.1v1.1h-1.1zM69.4 489.2h0.8v0.8h-0.8zM53.1 431.7h1.4v1.4h-1.4zM53.1 481.7h1.4v1.4h-1.4zM33.3 493.0h1.0v1.0h-1.0zM64.2 456.1h1.3v1.3h-1.3zM76.4 455.6h1.1v1.1h-1.1zM56.1 480.0h1.2v1.2h-1.2zM40.0 461.6h1.0v1.0h-1.0zM61.0 435.8h1.0v1.0h-1.0zM58.6 489.5h1.4v1.4h-1.4zM68.4 433.4h1.5v1.5h-1.5zM90.4 486.4h0.8v0.8h-0.8zM41.5 460.8h0.8v0.8h-0.8zM50.6 484.1h1.4v1.4h-1.4zM60.5 455.5h1.4v1.4h-1.4zM73.8 465.5h1.2v1.2h-1.2zM29.8 457.5h1.4v1.4h-1.4zM33.7 446.7h0.8v0.8h-0.8zM48.3 436.3h1.4v1.4h-1.4zM40.6 487.0h1.3v1.3h-1.3zM39.9 464.4h1.2v1.2h-1.2zM79.7 467.9h1.0v1.0h-1.0zM63.8 440.9h1.3v1.3h-1.3zM65.5 433.1h1.2v1.2h-1.2zM68.6 429.3h1.0v1.0h-1.0zM77.7 475.3h1.5v1.5h-1.5zM97.2 451.7h1.3v1.3h-1.3zM33.1 478.8h1.1v1.1h-1.1zM55.3 430.6h1.5v1.5h-1.5zM76.7 464.7h0.9v0.9h-0.9zM49.9 439.6h1.1v1.1h-1.1zM64.5 447.4h0.9v0.9h-0.9zM47.1 488.0h1.0v1.0h-1.0zM81.2 436.7h0.9v0.9h-0.9zM94.6 436.3h1.5v1.5h-1.5zM36.4 488.4h1.0v1.0h-1.0zM90.4 461.1h0.9v0.9h-0.9zM94.9 454.8h1.4v1.4h-1.4zM29.2 424.4h1.0v1.0h-1.0zM38.9 446.1h0.8v0.8h-0.8zM71.9 482.1h1.0v1.0h-1.0zM88.3 444.6h1.0v1.0h-1.0zM51.4 444.6h1.2v1.2h-1.2zM61.6 433.8h1.5v1.5h-1.5zM28.0 463.2h1.4v1.4h-1.4zM53.8 427.9h1.3v1.3h-1.3zM71.5 469.7h1.4v1.4h-1.4zM65.5 433.5h1.5v1.5h-1.5zM55.0 467.3h1.1v1.1h-1.1zM91.9 448.1h1.2v1.2h-1.2zM52.1 436.2h1.0v1.0h-1.0zM72.0 469.8h0.8v0.8h-0.8zM85.2 494.4h1.1v1.1h-1.1zM45.9 460.7h1.4v1.4h-1.4zM93.7 479.9h0.9v0.9h-0.9zM69.7 435.4h1.4v1.4h-1.4zM78.2 477.1h1.3v1.3h-1.3zM94.4 446.6h1.1v1.1h-1.1zM45.7 443.3h0.9v0.9h-0.9zM51.1 448.5h1.1v1.1h-1.1zM36.4 484.2h0.9v0.9h-0.9zM56.2 462.3h1.0v1.0h-1.0zM27.8 453.3h1.2v1.2h-1.2zM78.4 454.1h1.3v1.3h-1.3zM57.5 434.1h1.2v1.2h-1.2zM57.1 483.2h1.0v1.0h-1.0zM51.6 426.6h0.8v0.8h-0.8zM94.8 469.0h0.8v0.8h-0.8zM65.5 475.8h1.5v1.5h-1.5zM42.4 425.2h1.5v1.5h-1.5zM33.0 461.7h1.2v1.2h-1.2zM27.9 441.3h1.3v1.3h-1.3zM73.9 439.9h1.5v1.5h-1.5zM91.0 490.0h1.3v1.3h-1.3zM53.5 443.7h1.3v1.3h-1.3zM87.6 471.7h0.9v0.9h-0.9zM84.9 467.5h1.0v1.0h-1.0zM58.6 447.7h1.2v1.2h-1.2zM57.2 478.2h1.4v1.4h-1.4zM79.8 470.1h0.9v0.9h-0.9zM71.7 448.7h1.0v1.0h-1.0zM32.8 440.6h1.3v1.3h-1.3zM54.6 426.4h1.1v1.1h-1.1zM48.9 491.5h1.0v1.0h-1.0zM35.6 479.3h1.3v1.3h-1.3zM86.6 433.9h1.4v1.4h-1.4zM38.8 444.9h1.3v1.3h-1.3zM62.8 434.6h1.1v1.1h-1.1zM83.1 449.1h0.8v0.8h-0.8zM51.7 485.5h1.2v1.2h-1.2zM64.0 447.7h1.4v1.4h-1.4zM43.8 453.0h0.8v0.8h-0.8zM44.1 455.6h1.2v1.2h-1.2zM63.9 424.2h1.3v1.3h-1.3zM53.0 484.8h0.8v0.8h-0.8zM81.3 428.6h1.4v1.4h-1.4zM55.2 446.0h0.9v0.9h-0.9zM44.6 486.2h1.3v1.3h-1.3zM75.9 460.9h1.3v1.3h-1.3zM93.5 492.5h1.4v1.4h-1.4zM50.6 447.9h0.8v0.8h-0.8zM93.8 489.6h1.4v1.4h-1.4zM36.3 436.8h1.0v1.0h-1.0zM77.6 443.7h1.1v1.1h-1.1zM79.8 438.1h0.9v0.9h-0.9zM95.7 482.7h1.3v1.3h-1.3zM79.7 476.6h1.2v1.2h-1.2zM74.0 451.1h0.8v0.8h-0.8zM72.4 467.3h1.4v1.4h-1.4zM68.4 440.2h1.5v1.5h-1.5zM86.3 483.9h1.3v1.3h-1.3zM89.8 450.5h1.4v1.4h-1.4zM30.2 434.6h1.3v1.3h-1.3zM96.4 437.6h1.0v1.0h-1.0zM43.2 446.7h1.4v1.4h-1.4zM28.3 445.8h1.2v1.2h-1.2zM28.6 469.7h1.4v1.4h-1.4zM34.0 490.6h1.4v1.4h-1.4zM29.5 444.2h0.9v0.9h-0.9zM92.0 455.7h1.0v1.0h-1.0zM33.6 434.6h1.0v1.0h-1.0zM52.3 428.5h1.5v1.5h-1.5zM47.0 473.5h1.1v1.1h-1.1zM42.7 480.2h1.0v1.0h-1.0zM51.7 450.4h1.3v1.3h-1.3zM79.6 448.6h1.1v1.1h-1.1zM31.3 431.5h1.2v1.2h-1.2zM29.6 426.5h1.0v1.0h-1.0zM89.1 435.4h0.9v0.9h-0.9zM70.3 432.3h0.8v0.8h-0.8zM61.1 470.1h1.4v1.4h-1.4zM74.3 477.2h1.1v1.1h-1.1zM68.6 470.8h1.3v1.3h-1.3zM68.4 484.8h1.3v1.3h-1.3zM92.6 472.0h1.4v1.4h-1.4zM41.2 477.8h1.3v1.3h-1.3zM77.8 491.2h0.9v0.9h-0.9zM75.0 464.4h1.0v1.0h-1.0zM51.7 438.9h0.8v0.8h-0.8zM38.9 468.9h1.1v1.1h-1.1zM36.3 432.5h1.0v1.0h-1.0zM81.1 463.3h0.9v0.9h-0.9zM58.2 440.9h1.1v1.1h-1.1zM95.5 476.0h1.5v1.5h-1.5zM72.8 470.4h1.2v1.2h-1.2zM81.0 437.7h1.0v1.0h-1.0zM56.9 493.1h1.5v1.5h-1.5zM90.8 470.8h1.3v1.3h-1.3zM41.4 451.1h1.3v1.3h-1.3zM30.8 486.3h1.1v1.1h-1.1zM64.4 494.2h0.9v0.9h-0.9zM73.0 436.6h1.1v1.1h-1.1zM90.2 469.3h1.5v1.5h-1.5zM90.1 434.2h1.4v1.4h-1.4zM50.8 472.3h1.0v1.0h-1.0zM70.0 479.3h1.1v1.1h-1.1zM61.8 448.5h0.9v0.9h-0.9zM69.0 457.0h1.4v1.4h-1.4zM86.5 493.1h1.4v1.4h-1.4zM39.2 445.0h1.3v1.3h-1.3zM53.7 441.9h0.9v0.9h-0.9zM51.4 424.3h1.3v1.3h-1.3zM48.3 479.9h0.8v0.8h-0.8zM56.1 454.1h1.4v1.4h-1.4zM45.3 450.7h1.3v1.3h-1.3zM40.7 440.0h1.0v1.0h-1.0zM82.2 470.1h1.4v1.4h-1.4zM52.6 455.0h1.5v1.5h-1.5zM38.4 480.1h0.8v0.8h-0.8zM32.0 467.5h1.3v1.3h-1.3zM30.6 451.4h0.9v0.9h-0.9zM96.7 447.3h1.3v1.3h-1.3z" fill="#1a1ad0" fill-opacity="0.75"/>
<path d="M69.5 488.0h1.0v1.0h-1.0zM42.3 430.6h0.9v0.9h-0.9zM77.6 450.4h1.5v1.5h-1.5zM43.2 464.8h1.4v1.4h-1.4zM42.7 487.7h1.1v1.1h-1.1zM92.6 490.9h1.1v1.1h-1.1zM76.4 460.4h0.9v0.9h-0.9zM84.6 441.5h1.3v1.3h-1.3zM41.6 472.2h0.9v0.9h-0.9zM61.4 454.3h0.8v0.8h-0.8zM47.7 435.6h1.3v1.3h-1.3zM38.6 491.6h1.1v1.1h-1.1zM30.1 443.5h1.0v1.0h-1.0zM56.3 427.0h1.1v1.1h-1.1zM47.0 469.8h1.2v1.2h-1.2zM34.7 470.1h1.1v1.1h-1.1zM46.0 442.8h1.0v1.0h-1.0zM50.9 485.6h0.8v0.8h-0.8zM72.3 452.0h1.3v1.3h-1.3zM72.2 443.4h1.2v1.2h-1.2zM81.4 493.9h1.2v1.2h-1.2zM49.0 427.9h1.0v1.0h-1.0zM83.8 462.7h1.2v1.2h-1.2zM30.5 472.4h0.8v0.8h-0.8zM78.4 437.0h1.2v1.2h-1.2zM54.7 478.4h0.8v0.8h-0.8zM79.8 455.7h1.2v1.2h-1.2zM67.0 441.8h1.4v1.4h-1.4zM75.7 479.0h1.4v1.4h-1.4zM91.9 459.4h1.4v1.4h-1.4zM84.4 449.8h1.0v1.0h-1.0zM89.0 494.1h1.5v1.5h-1.5zM43.5 425.0h1.3v1.3h-1.3zM68.8 477.0h0.9v0.9h-0.9zM81.0 460.4h1.0v1.0h-1.0zM97.1 427.2h1.4v1.4h-1.4zM83.6 447.2h1.5v1.5h-1.5zM92.1 443.1h1.0v1.0h-1.0zM57.1 472.0h0.9v0.9h-0.9zM35.3 428.9h1.3v1.3h-1.3zM48.2 480.2h1.0v1.0h-1.0zM66.8 448.6h1.3v1.3h-1.3zM31.6 459.8h1.3v1.3h-1.3zM28.6 433.5h1.1v1.1h-1.1zM54.0 469.6h1.3v1.3h-1.3zM53.0 477.0h1.2v1.2h-1.2zM81.0 424.6h1.0v1.0h-1.0zM97.1 462.6h0.9v0.9h-0.9zM76.4 436.4h0.8v0.8h-0.8zM93.7 427.3h0.9v0.9h-0.9zM87.5 444.0h1.3v1.3h-1.3zM46.5 448.7h0.8v0.8h-0.8zM60.7 468.2h0.9v0.9h-0.9zM81.1 478.6h1.5v1.5h-1.5zM71.4 481.6h1.2v1.2h-1.2zM35.4 454.9h1.4v1.4h-1.4zM54.1 439.3h1.1v1.1h-1.1zM83.3 435.0h1.5v1.5h-1.5zM65.4 457.5h0.9v0.9h-0.9zM34.9 451.0h1.3v1.3h-1.3zM75.5 446.9h0.9v0.9h-0.9zM68.1 430.2h1.0v1.0h-1.0zM39.1 487.9h1.4v1.4h-1.4zM81.4 460.3h0.9v0.9h-0.9zM67.4 492.3h1.4v1.4h-1.4zM48.7 424.4h1.0v1.0h-1.0zM54.1 492.5h0.8v0.8h-0.8zM69.1 484.6h1.1v1.1h-1.1zM32.3 460.6h1.2v1.2h-1.2zM51.5 443.9h1.3v1.3h-1.3zM68.2 486.0h0.9v0.9h-0.9zM80.0 425.6h0.9v0.9h-0.9zM79.1 445.9h1.4v1.4h-1.4zM81.5 487.5h0.8v0.8h-0.8zM96.3 441.6h1.4v1.4h-1.4zM72.4 444.5h1.2v1.2h-1.2zM53.9 451.0h1.0v1.0h-1.0zM43.3 486.9h1.4v1.4h-1.4zM27.5 470.1h1.0v1.0h-1.0zM74.7 480.9h1.1v1.1h-1.1zM59.5 463.6h1.5v1.5h-1.5zM91.5 440.5h1.4v1.4h-1.4zM92.0 471.1h1.4v1.4h-1.4zM84.5 488.5h1.3v1.3h-1.3zM72.8 465.0h0.9v0.9h-0.9zM63.0 449.6h1.1v1.1h-1.1zM65.0 477.9h1.5v1.5h-1.5zM64.2 428.2h1.1v1.1h-1.1zM64.8 483.9h1.2v1.2h-1.2zM77.0 484.4h1.2v1.2h-1.2zM60.6 428.8h1.0v1.0h-1.0zM87.2 457.8h1.0v1.0h-1.0zM77.2 439.6h1.4v1.4h-1.4zM85.1 467.1h1.0v1.0h-1.0zM85.4 458.9h1.0v1.0h-1.0zM54.9 436.8h1.2v1.2h-1.2zM59.8 434.6h1.4v1.4h-1.4zM36.5 462.9h1.3v1.3h-1.3zM67.2 454.0h1.4v1.4h-1.4zM40.0 424.0h1.1v1.1h-1.1zM63.6 447.1h1.5v1.5h-1.5zM79.0 481.3h1.0v1.0h-1.0zM30.4 460.9h1.2v1.2h-1.2zM62.6 473.9h1.0v1.0h-1.0zM51.4 451.4h1.0v1.0h-1.0zM41.5 489.9h1.3v1.3h-1.3zM75.8 476.8h1.0v1.0h-1.0zM36.1 468.4h1.2v1.2h-1.2zM53.7 452.5h1.3v1.3h-1.3zM72.3 475.6h1.4v1.4h-1.4zM80.4 490.8h1.3v1.3h-1.3zM44.5 453.3h1.4v1.4h-1.4zM71.2 467.2h1.0v1.0h-1.0zM81.4 473.2h0.8v0.8h-0.8zM59.4 493.6h0.9v0.9h-0.9zM51.4 476.2h1.0v1.0h-1.0zM90.0 471.2h1.4v1.4h-1.4zM38.3 428.1h1.4v1.4h-1.4zM94.9 443.5h0.9v0.9h-0.9zM91.5 427.0h1.5v1.5h-1.5zM57.3 442.4h1.0v1.0h-1.0zM83.6 445.0h0.9v0.9h-0.9zM96.9 431.1h1.4v1.4h-1.4zM52.9 467.1h1.1v1.1h-1.1zM29.8 428.6h1.4v1.4h-1.4zM42.6 430.5h0.9v0.9h-0.9zM53.3 488.8h1.3v1.3h-1.3zM51.4 492.5h0.8v0.8h-0.8zM27.5 475.6h1.3v1.3h-1.3zM94.7 474.4h1.3v1.3h-1.3zM64.2 468.8h1.2v1.2h-1.2zM74.8 474.3h1.1v1.1h-1.1zM84.5 493.0h0.9v0.9h-0.9zM51.0 440.3h1.0v1.0h-1.0zM43.3 468.6h1.5v1.5h-1.5zM93.8 450.8h1.3v1.3h-1.3zM74.8 457.1h0.9v0.9h-0.9zM83.6 453.8h1.3v1.3h-1.3zM41.9 441.5h1.0v1.0h-1.0zM96.6 428.2h1.3v1.3h-1.3zM70.7 450.9h1.2v1.2h-1.2zM56.5 476.2h0.9v0.9h-0.9zM46.1 490.9h1.5v1.5h-1.5zM41.5 449.0h1.4v1.4h-1.4zM71.3 453.4h1.4v1.4h-1.4zM44.7 438.5h1.0v1.0h-1.0zM82.8 475.1h1.2v1.2h-1.2zM47.3 477.8h1.1v1.1h-1.1zM53.8 436.5h1.1v1.1h-1.1zM43.1 446.8h1.2v1.2h-1.2zM54.0 473.5h1.4v1.4h-1.4zM57.5 459.6h1.5v1.5h-1.5zM82.1 477.5h0.9v0.9h-0.9zM62.0 468.2h1.2v1.2h-1.2zM66.9 484.5h1.2v1.2h-1.2zM68.8 438.1h1.1v1.1h-1.1zM27.9 473.3h0.9v0.9h-0.9zM88.7 455.9h1.5v1.5h-1.5zM39.7 489.0h1.3v1.3h-1.3zM48.9 440.9h0.9v0.9h-0.9zM82.6 479.7h1.2v1.2h-1.2zM32.9 438.0h0.8v0.8h-0.8zM67.2 473.6h1.4v1.4h-1.4zM28.2 430.9h0.9v0.9h-0.9zM50.0 481.1h1.4v1.4h-1.4zM95.8 427.3h1.3v1.3h-1.3zM34.4 455.7h1.0v1.0h-1.0zM50.9 459.9h1.1v1.1h-1.1zM46.7 430.2h1.2v1.2h-1.2zM26.7 490.0h1.4v1.4h-1.4zM54.7 491.4h1.3v1.3h-1.3zM64.5 464.9h1.1v1.1h-1.1zM94.3 435.5h0.8v0.8h-0.8zM34.4 492.1h1.1v1.1h-1.1zM66.8 455.0h0.9v0.9h-0.9zM76.1 483.1h1.3v1.3h-1.3zM63.2 467.7h0.9v0.9h-0.9zM30.2 433.4h1.1v1.1h-1.1zM70.9 491.2h1.1v1.1h-1.1zM44.1 438.3h0.9v0.9h-0.9zM96.9 438.7h0.9v0.9h-0.9zM88.0 483.6h1.0v1.0h-1.0zM28.4 437.2h1.1v1.1h-1.1zM49.3 437.1h0.9v0.9h-0.9zM65.6 470.3h0.9v0.9h-0.9zM84.8 446.4h1.0v1.0h-1.0zM28.4 486.5h1.0v1.0h-1.0zM53.6 435.7h1.2v1.2h-1.2zM37.6 429.1h1.1v1.1h-1.1zM32.6 485.9h0.9v0.9h-0.9zM80.8 462.9h1.0v1.0h-1.0zM35.4 439.7h0.8v0.8h-0.8zM86.8 424.5h1.3v1.3h-1.3zM95.5 436.0h1.3v1.3h-1.3zM94.0 455.4h1.4v1.4h-1.4zM78.0 473.8h1.0v1.0h-1.0zM93.6 452.1h1.4v1.4h-1.4zM47.8 424.9h0.8v0.8h-0.8zM39.5 484.9h1.0v1.0h-1.0zM86.9 458.0h1.3v1.3h-1.3zM44.9 478.7h1.2v1.2h-1.2zM67.0 427.2h1.1v1.1h-1.1zM91.3 481.8h1.3v1.3h-1.3zM93.4 474.6h1.1v1.1h-1.1zM29.5 474.5h1.5v1.5h-1.5zM50.7 484.2h1.1v1.1h-1.1zM82.5 482.7h0.9v0.9h-0.9zM67.9 478.5h0.9v0.9h-0.9zM66.2 457.4h1.2v1.2h-1.2zM37.0 476.3h1.5v1.5h-1.5zM74.9 427.6h0.9v0.9h-0.9zM94.3 443.8h0.9v0.9h-0.9zM68.2 425.1h1.1v1.1h-1.1zM31.4 457.4h0.8v0.8h-0.8zM53.0 460.2h1.1v1.1h-1.1zM96.6 450.3h0.9v0.9h-0.9zM36.5 468.9h1.3v1.3h-1.3zM55.4 493.8h1.0v1.0h-1.0zM48.6 490.8h1.2v1.2h-1.2zM89.6 466.0h1.2v1.2h-1.2zM36.2 483.6h1.4v1.4h-1.4zM60.0 472.8h1.5v1.5h-1.5zM69.7 470.8h1.2v1.2h-1.2zM43.9 468.8h1.4v1.4h-1.4zM82.6 428.2h1.0v1.0h-1.0zM57.6 464.5h1.1v1.1h-1.1zM39.3 468.6h1.4v1.4h-1.4zM95.3 477.8h1.0v1.0h-1.0zM92.0 427.8h1.1v1.1h-1.1zM78.9 451.0h1.0v1.0h-1.0zM32.8 439.4h1.0v1.0h-1.0zM56.4 425.1h1.4v1.4h-1.4zM47.9 460.9h0.9v0.9h-0.9zM95.7 472.3h1.0v1.0h-1.0zM90.4 432.4h1.3v1.3h-1.3zM81.7 451.4h1.2v1.2h-1.2zM48.6 474.3h1.1v1.1h-1.1zM63.8 479.7h0.9v0.9h-0.9zM36.5 450.7h1.2v1.2h-1.2zM41.6 488.2h1.2v1.2h-1.2zM36.1 470.0h0.9v0.9h-0.9zM95.3 476.9h0.9v0.9h-0.9zM37.3 431.2h1.3v1.3h-1.3zM45.3 457.2h1.3v1.3h-1.3zM83.8 462.8h1.4v1.4h-1.4zM44.4 491.6h1.3v1.3h-1.3zM80.6 461.9h1.2v1.2h-1.2zM91.8 428.7h1.3v1.3h-1.3zM55.9 467.5h1.0v1.0h-1.0zM63.9 481.2h1.3v1.3h-1.3zM74.6 446.3h1.1v1.1h-1.1zM75.6 482.0h1.5v1.5h-1.5zM91.6 482.8h1.1v1.1h-1.1zM91.6 478.2h0.9v0.9h-0.9zM66.5 475.3h1.0v1.0h-1.0zM62.1 450.3h0.9v0.9h-0.9zM89.9 446.7h1.4v1.4h-1.4zM61.5 445.0h1.2v1.2h-1.2zM50.1 478.4h1.3v1.3h-1.3zM33.1 457.5h1.2v1.2h-1.2zM88.0 432.5h0.9v0.9h-0.9zM87.0 426.5h1.1v1.1h-1.1zM32.0 457.0h0.9v0.9h-0.9zM76.6 451.2h1.4v1.4h-1.4zM58.5 477.5h1.2v1.2h-1.2zM53.8 437.8h1.3v1.3h-1.3zM55.2 478.7h1.0v1.0h-1.0zM62.8 475.5h0.9v0.9h-0.9zM67.6 443.1h0.8v0.8h-0.8zM58.4 484.7h1.1v1.1h-1.1zM39.1 488.3h1.4v1.4h-1.4zM52.2 449.5h1.2v1.2h-1.2zM90.3 454.5h1.0v1.0h-1.0zM96.0 454.0h0.9v0.9h-0.9zM77.0 431.8h0.9v0.9h-0.9zM75.7 426.1h0.9v0.9h-0.9zM79.5 442.9h0.9v0.9h-0.9zM73.4 470.6h0.9v0.9h-0.9zM58.8 487.8h0.9v0.9h-0.9zM30.2 472.1h0.8v0.8h-0.8zM87.3 474.1h0.9v0.9h-0.9zM59.3 483.9h1.4v1.4h-1.4zM34.2 424.5h0.9v0.9h-0.9zM71.2 437.1h1.3v1.3h-1.3zM37.8 453.9h0.9v0.9h-0.9zM71.4 469.4h1.4v1.4h-1.4zM77.4 490.7h1.4v1.4h-1.4z" fill="#1a1ad0" fill-opacity="0.50"/>
<path d="M47.3 464.5h1.5v1.5h-1.5zM81.7 447.0h1.1v1.1h-1.1zM65.8 491.7h1.3v1.3h-1.3zM48.0 442.2h1.4v1.4h-1.4zM84.9 491.6h1.0v1.0h-1.0zM64.7 465.3h1.5v1.5h-1.5zM79.8 431.1h1.1v1.1h-1.1zM42.3 493.1h0.9v0.9h-0.9zM80.0 456.0h1.0v1.0h-1.0zM78.3 470.0h1.1v1.1h-1.1zM96.6 432.6h1.1v1.1h-1.1zM48.1 427.4h0.9v0.9h-0.9zM56.4 486.4h1.2v1.2h-1.2zM45.0 476.0h1.4v1.4h-1.4zM55.4 429.5h1.2v1.2h-1.2zM26.5 469.9h0.8v0.8h-0.8zM51.6 491.0h1.1v1.1h-1.1zM58.9 453.9h1.0v1.0h-1.0zM85.2 456.4h1.2v1.2h-1.2zM70.5 483.9h1.0v1.0h-1.0zM52.0 493.5h1.3v1.3h-1.3zM85.0 432.2h1.4v1.4h-1.4zM76.4 478.9h1.0v1.0h-1.0zM51.5 434.0h0.9v0.9h-0.9zM44.5 487.0h1.2v1.2h-1.2zM36.1 452.1h1.2v1.2h-1.2zM44.6 445.9h1.3v1.3h-1.3zM48.1 458.9h1.3v1.3h-1.3zM54.8 463.4h0.8v0.8h-0.8zM47.4 439.6h1.4v1.4h-1.4zM90.3 453.6h1.2v1.2h-1.2zM88.5 487.4h1.0v1.0h-1.0zM91.8 456.4h1.1v1.1h-1.1zM41.8 439.0h1.0v1.0h-1.0zM52.7 470.3h1.0v1.0h-1.0zM50.5 438.8h1.1v1.1h-1.1zM50.3 454.7h0.9v0.9h-0.9zM58.9 434.7h1.1v1.1h-1.1zM37.7 483.3h1.3v1.3h-1.3zM66.8 459.0h1.1v1.1h-1.1zM78.6 452.5h1.2v1.2h-1.2zM86.1 485.1h1.2v1.2h-1.2zM31.4 423.8h1.0v1.0h-1.0zM57.1 482.5h1.1v1.1h-1.1zM90.3 451.5h1.0v1.0h-1.0zM79.9 463.7h1.1v1.1h-1.1zM92.9 426.4h1.2v1.2h-1.2zM72.0 428.4h1.4v1.4h-1.4zM50.9 457.4h1.3v1.3h-1.3zM71.8 437.3h1.0v1.0h-1.0zM33.9 468.1h1.4v1.4h-1.4zM33.5 469.0h1.3v1.3h-1.3zM46.6 433.9h1.0v1.0h-1.0zM35.5 460.0h1.1v1.1h-1.1zM71.5 423.8h1.2v1.2h-1.2zM88.9 485.9h1.3v1.3h-1.3zM31.2 426.3h1.4v1.4h-1.4zM61.6 493.7h1.2v1.2h-1.2zM50.2 477.8h1.0v1.0h-1.0zM56.0 430.3h1.4v1.4h-1.4zM64.5 433.3h1.3v1.3h-1.3zM45.9 454.3h0.9v0.9h-0.9zM65.4 462.5h1.1v1.1h-1.1zM77.3 475.1h1.5v1.5h-1.5zM81.8 474.4h1.2v1.2h-1.2zM51.1 424.2h0.8v0.8h-0.8zM76.6 484.4h1.3v1.3h-1.3zM92.7 447.3h1.4v1.4h-1.4zM84.2 491.5h1.2v1.2h-1.2zM62.7 452.7h0.9v0.9h-0.9zM64.3 471.4h0.9v0.9h-0.9zM76.5 450.0h1.0v1.0h-1.0zM37.0 448.2h1.0v1.0h-1.0zM51.8 470.6h0.9v0.9h-0.9zM51.6 468.2h1.1v1.1h-1.1zM92.5 491.8h1.4v1.4h-1.4zM40.0 466.8h0.8v0.8h-0.8zM82.6 468.0h1.0v1.0h-1.0zM89.8 461.0h0.9v0.9h-0.9zM68.8 493.2h0.9v0.9h-0.9zM81.8 466.0h1.1v1.1h-1.1zM41.1 439.7h1.4v1.4h-1.4zM44.9 485.8h0.9v0.9h-0.9zM90.5 461.2h0.8v0.8h-0.8zM50.5 457.1h1.4v1.4h-1.4zM88.9 437.0h1.0v1.0h-1.0zM30.1 423.9h1.5v1.5h-1.5zM71.6 458.4h0.9v0.9h-0.9zM52.9 437.0h0.8v0.8h-0.8zM32.1 429.6h1.0v1.0h-1.0zM81.4 434.2h1.2v1.2h-1.2zM31.2 490.7h0.8v0.8h-0.8zM85.1 454.9h0.9v0.9h-0.9zM82.0 430.3h1.0v1.0h-1.0zM61.6 483.7h0.9v0.9h-0.9zM95.8 479.2h1.3v1.3h-1.3zM74.8 476.0h1.4v1.4h-1.4zM80.8 476.9h1.1v1.1h-1.1zM43.1 471.7h1.4v1.4h-1.4zM43.9 460.3h1.0v1.0h-1.0zM97.2 424.8h1.3v1.3h-1.3zM57.6 433.5h1.4v1.4h-1.4zM68.4 468.0h1.2v1.2h-1.2zM86.4 493.3h1.2v1.2h-1.2zM74.9 428.5h1.4v1.4h-1.4zM35.9 430.1h1.5v1.5h-1.5zM64.6 481.7h1.2v1.2h-1.2zM69.5 452.2h0.9v0.9h-0.9zM85.8 427.0h1.1v1.1h-1.1zM43.3 430.0h1.3v1.3h-1.3zM47.3 439.5h1.0v1.0h-1.0zM40.4 483.5h1.4v1.4h-1.4zM65.5 479.2h0.9v0.9h-0.9zM79.4 442.1h1.2v1.2h-1.2zM91.4 483.1h1.0v1.0h-1.0zM73.1 474.0h1.3v1.3h-1.3zM55.7 453.2h1.1v1.1h-1.1zM49.5 446.5h1.4v1.4h-1.4zM51.5 481.8h1.1v1.1h-1.1zM93.6 462.0h1.5v1.5h-1.5zM29.2 490.6h1.3v1.3h-1.3zM88.1 475.9h1.3v1.3h-1.3zM75.5 493.8h1.0v1.0h-1.0zM69.5 448.4h1.3v1.3h-1.3zM45.4 483.5h1.4v1.4h-1.4zM56.8 426.2h1.5v1.5h-1.5zM60.4 493.1h1.4v1.4h-1.4zM27.4 456.9h0.9v0.9h-0.9zM52.9 466.3h1.2v1.2h-1.2zM57.7 470.8h1.3v1.3h-1.3zM88.3 481.3h1.3v1.3h-1.3zM76.1 473.5h0.9v0.9h-0.9zM44.9 424.0h0.9v0.9h-0.9zM81.8 443.7h1.1v1.1h-1.1zM97.0 489.9h1.5v1.5h-1.5zM49.3 477.1h0.8v0.8h-0.8zM86.8 435.5h1.3v1.3h-1.3zM73.7 452.3h1.4v1.4h-1.4zM42.8 450.9h1.1v1.1h-1.1zM56.5 473.5h1.3v1.3h-1.3zM60.0 444.9h1.3v1.3h-1.3zM47.9 458.9h1.2v1.2h-1.2zM54.0 452.0h1.0v1.0h-1.0zM34.1 481.7h1.2v1.2h-1.2zM88.6 484.2h1.0v1.0h-1.0zM77.7 427.4h1.2v1.2h-1.2zM89.1 479.8h1.1v1.1h-1.1zM42.9 431.4h1.4v1.4h-1.4zM59.1 455.3h1.4v1.4h-1.4zM50.8 435.8h1.1v1.1h-1.1zM42.7 443.0h0.9v0.9h-0.9zM74.7 432.4h1.4v1.4h-1.4zM59.8 454.9h1.1v1.1h-1.1zM90.2 461.4h1.0v1.0h-1.0zM36.0 464.5h0.8v0.8h-0.8zM82.7 460.5h1.3v1.3h-1.3zM50.5 470.4h0.9v0.9h-0.9zM32.9 431.7h0.8v0.8h-0.8zM41.3 491.8h1.1v1.1h-1.1zM80.3 459.3h1.0v1.0h-1.0zM52.5 433.2h0.9v0.9h-0.9z" fill="#1a1ad0" fill-opacity="1.00"/>
<circle cx="61.50" cy="471.00" r="2.20" fill="#2a2aff"/>
<circle cx="57.00" cy="483.00" r="1.80" fill="#2a2aff"/>
<text x="30.70" y="433.58" font-size="8.60" text-anchor="start" fill="#2a2ae0" style="" textLength="17.8" lengthAdjust="spacingAndGlyphs">DAPI</text>
<line x1="29.90" y1="490.30" x2="47.50" y2="490.30" stroke="#f4f4f4" stroke-width="1.60" stroke-linecap="butt"/>
</g>
<g clip-path="url(#cp11)">
<rect x="101.00" y="423.90" width="71.10" height="71.30" fill="#000" stroke="none" stroke-width="0.00"/>
<path d="M101.0 439.9 C121.0 435.9 146.0 427.9 172.1 425.9 L172.1 481.2 L162.1 485.2 C147.1 489.2 131.0 493.2 111.0 495.2 L101.0 495.2 Z" fill="#fff" filter="url(#fmagi)" opacity="0.75"/>
<ellipse cx="127.0" cy="476.9" rx="7" ry="6" fill="#000" opacity="0.85" filter="url(#fblur1)"/>
<path d="M106.3 435.6h1.2v1.2h-1.2zM126.9 486.4h1.3v1.3h-1.3zM119.2 426.4h1.4v1.4h-1.4zM139.6 466.0h1.0v1.0h-1.0zM119.6 485.2h0.9v0.9h-0.9zM144.4 487.7h1.0v1.0h-1.0zM134.9 460.9h0.9v0.9h-0.9zM119.2 475.6h1.2v1.2h-1.2zM140.7 491.8h0.8v0.8h-0.8zM155.5 474.5h1.0v1.0h-1.0zM119.0 426.2h0.9v0.9h-0.9zM171.1 491.4h1.3v1.3h-1.3zM148.2 442.7h1.4v1.4h-1.4zM123.5 425.6h1.2v1.2h-1.2zM151.2 459.8h1.3v1.3h-1.3zM125.7 471.6h1.0v1.0h-1.0zM116.1 483.6h1.0v1.0h-1.0zM159.0 472.4h1.4v1.4h-1.4zM118.0 490.0h1.1v1.1h-1.1zM138.9 474.0h1.3v1.3h-1.3zM109.1 465.0h1.1v1.1h-1.1zM105.3 437.6h1.2v1.2h-1.2zM152.3 450.9h1.4v1.4h-1.4zM134.3 479.4h1.2v1.2h-1.2zM148.9 447.8h1.4v1.4h-1.4zM121.2 442.9h1.2v1.2h-1.2zM160.2 457.1h1.3v1.3h-1.3zM152.5 445.7h0.9v0.9h-0.9zM160.2 488.2h1.2v1.2h-1.2zM132.7 463.0h1.1v1.1h-1.1zM151.8 465.3h1.2v1.2h-1.2zM108.2 473.0h1.0v1.0h-1.0zM123.6 489.7h1.4v1.4h-1.4zM156.1 470.9h0.9v0.9h-0.9zM136.1 438.0h1.0v1.0h-1.0zM130.1 444.3h1.3v1.3h-1.3zM166.3 467.8h1.1v1.1h-1.1zM147.5 487.5h0.8v0.8h-0.8zM139.4 459.9h1.2v1.2h-1.2zM144.4 445.9h1.4v1.4h-1.4zM138.7 425.5h1.2v1.2h-1.2zM137.3 483.6h1.2v1.2h-1.2zM129.2 470.6h1.4v1.4h-1.4zM129.9 489.5h0.9v0.9h-0.9zM151.2 463.4h1.0v1.0h-1.0zM150.2 482.1h1.4v1.4h-1.4zM125.7 452.3h1.0v1.0h-1.0zM142.8 442.1h1.2v1.2h-1.2zM162.3 455.6h1.1v1.1h-1.1zM114.7 437.4h1.2v1.2h-1.2zM169.8 440.3h1.1v1.1h-1.1zM112.5 466.6h1.2v1.2h-1.2zM131.9 446.7h0.8v0.8h-0.8zM167.2 490.9h1.0v1.0h-1.0zM145.1 442.4h1.1v1.1h-1.1zM124.4 474.8h1.2v1.2h-1.2zM148.9 464.0h1.3v1.3h-1.3zM127.9 460.8h1.1v1.1h-1.1zM107.6 450.5h1.0v1.0h-1.0zM137.6 432.0h1.0v1.0h-1.0zM145.4 454.5h1.3v1.3h-1.3zM165.2 473.3h1.2v1.2h-1.2zM106.0 428.1h1.1v1.1h-1.1zM146.6 458.1h1.2v1.2h-1.2zM171.2 456.7h1.0v1.0h-1.0zM155.7 446.8h1.0v1.0h-1.0zM157.2 458.1h1.0v1.0h-1.0zM123.1 449.0h1.3v1.3h-1.3zM167.4 457.0h1.1v1.1h-1.1zM145.1 481.5h0.9v0.9h-0.9zM104.6 452.5h0.9v0.9h-0.9zM101.9 440.9h1.3v1.3h-1.3zM146.3 461.4h1.1v1.1h-1.1zM145.2 471.8h1.3v1.3h-1.3zM160.5 466.6h1.2v1.2h-1.2zM163.7 464.1h1.3v1.3h-1.3zM144.1 438.6h0.8v0.8h-0.8zM125.7 455.5h1.4v1.4h-1.4zM155.5 432.3h1.1v1.1h-1.1zM170.9 469.6h1.3v1.3h-1.3zM125.2 435.0h1.0v1.0h-1.0zM149.2 445.8h1.3v1.3h-1.3zM163.1 440.0h1.2v1.2h-1.2zM146.4 450.6h1.2v1.2h-1.2zM121.9 477.9h1.1v1.1h-1.1zM112.0 426.8h1.0v1.0h-1.0zM153.6 485.5h0.9v0.9h-0.9zM145.7 440.1h0.9v0.9h-0.9zM107.9 459.2h1.0v1.0h-1.0zM107.5 430.5h1.1v1.1h-1.1zM134.5 471.9h1.1v1.1h-1.1zM122.1 471.5h1.1v1.1h-1.1zM125.6 458.0h1.4v1.4h-1.4zM168.0 467.9h1.3v1.3h-1.3zM142.9 479.8h1.1v1.1h-1.1zM114.6 480.4h1.3v1.3h-1.3zM126.6 425.5h1.3v1.3h-1.3zM133.0 425.9h1.2v1.2h-1.2zM154.8 459.2h1.2v1.2h-1.2zM156.0 492.7h1.1v1.1h-1.1zM150.1 493.2h0.8v0.8h-0.8zM121.4 437.4h1.1v1.1h-1.1zM162.2 434.8h0.9v0.9h-0.9zM130.9 424.5h1.2v1.2h-1.2zM101.2 463.5h1.1v1.1h-1.1zM161.3 440.3h1.2v1.2h-1.2zM126.8 461.6h1.0v1.0h-1.0zM121.1 427.7h1.1v1.1h-1.1zM140.3 440.0h1.3v1.3h-1.3zM133.4 482.1h1.3v1.3h-1.3zM139.2 456.9h0.9v0.9h-0.9zM118.5 465.9h1.2v1.2h-1.2zM100.7 442.6h1.2v1.2h-1.2zM169.7 425.2h1.3v1.3h-1.3zM149.0 494.1h1.2v1.2h-1.2zM150.5 491.4h0.8v0.8h-0.8zM109.0 436.3h1.2v1.2h-1.2zM154.0 465.8h1.0v1.0h-1.0zM101.0 437.9h1.0v1.0h-1.0zM119.8 424.6h1.3v1.3h-1.3zM163.3 467.6h1.1v1.1h-1.1zM139.4 468.5h1.2v1.2h-1.2zM164.7 488.2h0.8v0.8h-0.8zM130.5 470.5h1.3v1.3h-1.3zM102.2 440.7h1.3v1.3h-1.3zM166.4 439.9h0.9v0.9h-0.9zM132.1 474.2h1.0v1.0h-1.0zM161.3 426.4h1.2v1.2h-1.2zM110.3 487.2h0.8v0.8h-0.8zM123.9 448.9h1.2v1.2h-1.2zM101.5 428.2h1.0v1.0h-1.0zM103.7 461.7h1.1v1.1h-1.1zM148.9 430.8h0.9v0.9h-0.9zM161.9 474.1h1.3v1.3h-1.3zM170.1 424.8h0.8v0.8h-0.8zM150.5 474.9h1.1v1.1h-1.1zM117.0 433.6h0.9v0.9h-0.9zM140.1 479.6h0.9v0.9h-0.9zM131.0 465.3h1.3v1.3h-1.3zM132.4 432.1h0.9v0.9h-0.9zM142.5 454.9h1.1v1.1h-1.1zM156.3 470.1h1.2v1.2h-1.2zM154.8 447.9h1.2v1.2h-1.2zM128.0 458.1h0.8v0.8h-0.8zM123.0 479.1h1.3v1.3h-1.3zM110.7 474.3h1.2v1.2h-1.2zM151.7 491.4h0.9v0.9h-0.9zM159.2 464.5h1.1v1.1h-1.1zM157.5 476.2h0.8v0.8h-0.8zM151.8 459.8h1.1v1.1h-1.1zM131.5 466.1h0.9v0.9h-0.9zM135.1 470.8h1.0v1.0h-1.0zM146.2 466.5h1.3v1.3h-1.3zM170.6 480.0h1.0v1.0h-1.0zM162.5 450.2h0.9v0.9h-0.9z" fill="#2222e0" fill-opacity="0.50"/>
<path d="M167.9 483.5h1.2v1.2h-1.2zM159.2 440.7h1.2v1.2h-1.2zM154.8 429.4h1.4v1.4h-1.4zM149.6 454.2h1.0v1.0h-1.0zM131.3 468.4h1.3v1.3h-1.3zM158.7 478.3h1.2v1.2h-1.2zM158.8 491.1h1.2v1.2h-1.2zM125.7 467.9h0.9v0.9h-0.9zM150.8 486.1h0.9v0.9h-0.9zM142.8 423.9h1.2v1.2h-1.2zM126.9 430.8h1.3v1.3h-1.3zM107.4 452.6h1.3v1.3h-1.3zM133.9 494.1h1.0v1.0h-1.0zM116.6 477.3h0.9v0.9h-0.9zM158.9 483.6h1.2v1.2h-1.2zM107.9 447.7h1.0v1.0h-1.0zM149.2 462.8h1.1v1.1h-1.1zM152.1 451.6h1.2v1.2h-1.2zM148.9 446.9h1.3v1.3h-1.3zM167.9 442.3h0.9v0.9h-0.9zM159.2 474.7h1.3v1.3h-1.3zM107.6 433.0h1.3v1.3h-1.3zM163.9 428.3h1.2v1.2h-1.2zM139.6 440.3h1.4v1.4h-1.4zM106.5 492.1h1.0v1.0h-1.0zM165.2 468.3h1.1v1.1h-1.1zM147.1 448.9h1.2v1.2h-1.2zM103.1 462.0h1.0v1.0h-1.0zM155.2 464.3h1.0v1.0h-1.0zM144.7 480.8h1.0v1.0h-1.0zM120.8 477.6h1.0v1.0h-1.0zM132.4 491.2h1.2v1.2h-1.2zM167.3 482.2h1.0v1.0h-1.0zM139.8 426.3h1.3v1.3h-1.3zM138.7 481.4h1.3v1.3h-1.3zM167.8 455.1h1.1v1.1h-1.1zM108.5 427.3h1.2v1.2h-1.2zM163.0 443.2h1.2v1.2h-1.2zM128.6 426.7h0.8v0.8h-0.8zM128.3 443.3h0.8v0.8h-0.8zM169.0 440.1h0.8v0.8h-0.8zM134.5 441.3h0.9v0.9h-0.9zM105.8 448.3h1.3v1.3h-1.3zM162.7 487.2h1.1v1.1h-1.1zM147.8 454.7h0.9v0.9h-0.9zM146.4 483.2h1.4v1.4h-1.4zM140.4 464.9h0.9v0.9h-0.9zM126.6 470.9h1.2v1.2h-1.2zM114.7 427.3h0.8v0.8h-0.8zM156.9 438.8h1.2v1.2h-1.2zM140.0 481.1h1.2v1.2h-1.2zM117.2 454.3h1.1v1.1h-1.1zM124.3 439.5h1.1v1.1h-1.1zM110.1 458.7h0.9v0.9h-0.9zM160.7 492.8h1.1v1.1h-1.1zM142.9 462.3h0.9v0.9h-0.9zM132.1 428.5h1.1v1.1h-1.1zM141.0 438.2h1.0v1.0h-1.0zM139.4 434.7h1.1v1.1h-1.1zM109.4 430.5h1.3v1.3h-1.3zM157.8 428.4h0.8v0.8h-0.8zM144.3 427.0h0.9v0.9h-0.9zM119.2 424.7h0.8v0.8h-0.8zM160.0 443.9h1.2v1.2h-1.2zM170.2 487.8h1.2v1.2h-1.2zM136.6 437.9h1.3v1.3h-1.3zM116.1 451.7h1.3v1.3h-1.3zM101.0 440.0h1.2v1.2h-1.2zM154.5 454.6h1.0v1.0h-1.0zM167.5 449.7h0.8v0.8h-0.8zM149.1 439.1h1.2v1.2h-1.2zM100.7 492.6h0.8v0.8h-0.8zM137.1 462.7h1.2v1.2h-1.2zM101.3 436.2h0.8v0.8h-0.8zM160.5 452.6h1.3v1.3h-1.3zM164.2 479.0h0.9v0.9h-0.9zM159.9 428.5h1.1v1.1h-1.1zM101.7 473.5h0.9v0.9h-0.9zM161.6 441.4h1.0v1.0h-1.0zM141.8 481.4h1.3v1.3h-1.3zM144.0 487.5h1.0v1.0h-1.0zM128.9 487.3h0.8v0.8h-0.8zM162.5 440.3h1.4v1.4h-1.4zM123.5 469.1h1.3v1.3h-1.3zM160.9 477.2h1.3v1.3h-1.3zM147.2 447.1h1.1v1.1h-1.1zM131.3 429.5h1.2v1.2h-1.2zM121.9 446.7h1.3v1.3h-1.3zM147.4 433.0h1.3v1.3h-1.3zM138.3 484.0h1.2v1.2h-1.2zM133.8 491.6h1.1v1.1h-1.1zM127.0 441.0h1.0v1.0h-1.0zM130.5 479.3h1.0v1.0h-1.0zM103.4 458.2h0.8v0.8h-0.8zM153.4 470.6h1.2v1.2h-1.2zM169.7 474.0h1.1v1.1h-1.1zM114.4 491.0h1.3v1.3h-1.3zM154.4 470.1h1.4v1.4h-1.4zM115.0 482.7h1.2v1.2h-1.2zM130.0 458.9h1.4v1.4h-1.4zM168.1 431.7h1.0v1.0h-1.0zM121.9 469.8h0.9v0.9h-0.9zM155.2 445.6h1.0v1.0h-1.0zM168.1 484.8h1.1v1.1h-1.1zM106.1 480.5h1.0v1.0h-1.0zM161.6 447.0h1.0v1.0h-1.0zM131.6 437.5h1.0v1.0h-1.0zM112.5 459.4h1.0v1.0h-1.0zM146.1 427.5h1.3v1.3h-1.3zM151.3 492.2h1.1v1.1h-1.1zM146.9 477.1h1.0v1.0h-1.0zM129.3 488.1h0.9v0.9h-0.9zM156.8 449.4h1.4v1.4h-1.4zM144.3 469.9h1.1v1.1h-1.1zM169.6 460.6h1.1v1.1h-1.1zM118.9 479.4h0.8v0.8h-0.8zM109.7 426.8h1.0v1.0h-1.0zM145.3 483.7h1.3v1.3h-1.3zM104.8 457.3h1.1v1.1h-1.1zM139.8 445.2h0.9v0.9h-0.9zM126.7 423.7h1.0v1.0h-1.0zM117.3 440.3h1.1v1.1h-1.1zM152.9 426.4h1.3v1.3h-1.3zM100.8 425.6h1.0v1.0h-1.0zM126.4 466.6h1.3v1.3h-1.3zM118.5 439.1h1.0v1.0h-1.0zM152.5 493.1h1.0v1.0h-1.0zM116.5 458.5h0.8v0.8h-0.8zM141.6 439.0h1.3v1.3h-1.3zM149.1 489.7h0.9v0.9h-0.9zM126.5 447.8h1.1v1.1h-1.1zM132.0 483.0h1.1v1.1h-1.1zM126.7 454.8h0.9v0.9h-0.9zM158.4 487.4h1.3v1.3h-1.3zM116.2 440.7h1.1v1.1h-1.1zM143.4 432.5h1.3v1.3h-1.3zM133.5 491.1h1.2v1.2h-1.2zM159.2 431.0h0.9v0.9h-0.9zM105.2 449.6h1.3v1.3h-1.3zM146.3 472.3h0.9v0.9h-0.9zM122.5 429.5h1.0v1.0h-1.0zM150.5 448.2h0.9v0.9h-0.9zM123.0 477.2h1.0v1.0h-1.0zM105.3 438.8h1.4v1.4h-1.4zM115.7 481.6h1.3v1.3h-1.3zM153.3 459.8h1.3v1.3h-1.3zM104.0 457.2h1.4v1.4h-1.4zM148.4 469.1h1.1v1.1h-1.1zM144.4 441.3h1.2v1.2h-1.2zM145.3 479.6h0.9v0.9h-0.9zM119.0 432.7h0.9v0.9h-0.9zM156.5 468.7h1.1v1.1h-1.1zM160.0 431.2h1.1v1.1h-1.1zM111.6 437.7h1.3v1.3h-1.3zM145.1 491.9h1.2v1.2h-1.2zM149.0 437.9h1.1v1.1h-1.1zM160.8 480.4h1.0v1.0h-1.0zM145.4 427.9h1.3v1.3h-1.3zM138.7 462.8h1.1v1.1h-1.1zM120.1 484.9h1.3v1.3h-1.3zM116.1 466.4h0.9v0.9h-0.9zM123.9 470.0h0.9v0.9h-0.9zM135.1 427.3h1.2v1.2h-1.2zM148.9 470.8h0.9v0.9h-0.9zM135.9 447.8h1.1v1.1h-1.1zM103.1 489.1h1.2v1.2h-1.2zM141.7 489.5h1.1v1.1h-1.1zM111.1 456.9h1.4v1.4h-1.4zM170.1 426.3h1.0v1.0h-1.0zM141.3 482.8h0.8v0.8h-0.8zM103.8 489.9h0.9v0.9h-0.9zM121.0 449.9h1.2v1.2h-1.2zM158.3 472.9h1.1v1.1h-1.1zM140.1 467.5h1.1v1.1h-1.1zM133.1 475.7h1.3v1.3h-1.3zM127.8 458.1h0.9v0.9h-0.9zM152.4 494.0h0.9v0.9h-0.9zM134.6 452.4h1.1v1.1h-1.1zM164.9 475.4h1.2v1.2h-1.2zM138.7 469.5h0.9v0.9h-0.9zM119.4 424.6h1.1v1.1h-1.1zM102.6 483.3h1.0v1.0h-1.0zM136.5 463.8h1.1v1.1h-1.1zM143.6 465.2h1.2v1.2h-1.2zM107.3 424.3h0.8v0.8h-0.8zM168.0 439.0h1.1v1.1h-1.1zM123.3 433.2h1.2v1.2h-1.2zM157.4 469.9h1.0v1.0h-1.0zM111.3 434.3h0.9v0.9h-0.9zM151.7 465.6h1.1v1.1h-1.1zM119.3 478.4h1.0v1.0h-1.0zM127.7 469.1h0.9v0.9h-0.9zM132.6 426.6h1.1v1.1h-1.1zM123.1 448.8h1.3v1.3h-1.3zM153.3 443.2h1.3v1.3h-1.3zM124.4 436.5h1.0v1.0h-1.0zM129.3 463.9h1.3v1.3h-1.3zM157.7 424.0h1.3v1.3h-1.3zM140.2 437.3h0.8v0.8h-0.8zM147.6 452.1h1.2v1.2h-1.2zM138.5 490.9h1.3v1.3h-1.3zM153.0 452.6h1.3v1.3h-1.3zM120.7 455.0h1.2v1.2h-1.2zM163.2 492.1h1.2v1.2h-1.2zM136.1 455.5h0.8v0.8h-0.8zM133.5 488.7h0.8v0.8h-0.8zM106.7 487.8h1.2v1.2h-1.2zM143.9 493.6h1.3v1.3h-1.3zM132.6 470.7h1.3v1.3h-1.3zM142.0 463.6h0.9v0.9h-0.9zM147.2 429.0h1.2v1.2h-1.2zM111.7 468.3h1.2v1.2h-1.2zM162.4 455.9h1.3v1.3h-1.3zM144.2 474.3h1.4v1.4h-1.4zM110.1 442.4h0.9v0.9h-0.9zM107.5 465.4h1.1v1.1h-1.1zM150.7 453.9h0.9v0.9h-0.9zM161.0 465.1h1.1v1.1h-1.1zM105.4 450.3h1.1v1.1h-1.1zM148.8 450.5h1.2v1.2h-1.2zM111.8 455.6h1.0v1.0h-1.0zM105.7 484.2h1.1v1.1h-1.1zM103.5 492.4h1.1v1.1h-1.1zM116.6 438.6h1.2v1.2h-1.2zM166.7 429.3h0.9v0.9h-0.9zM104.8 437.0h0.8v0.8h-0.8zM129.8 438.6h0.9v0.9h-0.9zM130.2 487.7h1.1v1.1h-1.1zM144.6 465.6h1.1v1.1h-1.1zM114.3 472.7h1.3v1.3h-1.3zM152.5 459.7h0.9v0.9h-0.9zM137.3 455.5h1.0v1.0h-1.0zM114.5 451.2h0.9v0.9h-0.9zM166.1 458.4h1.3v1.3h-1.3zM160.6 441.9h1.2v1.2h-1.2zM141.0 458.9h1.1v1.1h-1.1zM140.3 466.1h0.8v0.8h-0.8zM124.6 492.3h1.1v1.1h-1.1zM169.5 429.9h1.4v1.4h-1.4zM155.7 459.1h1.4v1.4h-1.4zM127.0 431.6h1.4v1.4h-1.4zM110.3 441.0h1.2v1.2h-1.2zM150.6 461.3h1.2v1.2h-1.2zM138.5 429.1h0.8v0.8h-0.8zM127.8 452.0h0.8v0.8h-0.8zM110.2 478.2h1.0v1.0h-1.0zM155.5 437.5h1.0v1.0h-1.0zM117.7 449.6h1.3v1.3h-1.3zM136.9 471.4h1.1v1.1h-1.1zM164.7 441.6h1.1v1.1h-1.1zM149.4 467.1h0.8v0.8h-0.8zM104.7 484.9h1.0v1.0h-1.0zM124.6 452.1h1.1v1.1h-1.1zM114.9 425.5h1.4v1.4h-1.4zM165.1 455.3h1.0v1.0h-1.0zM122.2 447.5h0.8v0.8h-0.8zM110.2 456.7h1.3v1.3h-1.3zM138.5 457.6h1.1v1.1h-1.1zM111.5 431.1h1.1v1.1h-1.1zM127.9 438.7h1.2v1.2h-1.2zM133.2 479.9h0.8v0.8h-0.8zM119.0 431.3h1.1v1.1h-1.1zM122.1 434.5h1.0v1.0h-1.0zM128.0 445.6h1.2v1.2h-1.2zM165.6 441.4h0.9v0.9h-0.9zM118.0 439.1h1.0v1.0h-1.0zM115.7 450.5h1.0v1.0h-1.0zM141.4 445.4h1.0v1.0h-1.0zM143.6 431.9h1.3v1.3h-1.3zM139.8 429.4h1.0v1.0h-1.0zM125.5 456.3h0.8v0.8h-0.8zM111.7 493.6h1.3v1.3h-1.3zM141.1 465.7h1.0v1.0h-1.0zM150.5 454.9h1.4v1.4h-1.4zM124.2 444.5h1.2v1.2h-1.2zM162.0 454.7h1.0v1.0h-1.0zM159.1 454.3h0.9v0.9h-0.9zM106.7 463.7h1.1v1.1h-1.1zM109.5 432.7h1.0v1.0h-1.0zM128.6 450.6h1.2v1.2h-1.2zM148.5 444.4h1.4v1.4h-1.4zM104.6 472.5h1.3v1.3h-1.3zM124.4 459.8h0.8v0.8h-0.8zM110.2 468.7h1.3v1.3h-1.3zM104.2 459.6h1.0v1.0h-1.0zM112.9 478.4h1.2v1.2h-1.2zM156.0 484.4h0.8v0.8h-0.8zM153.3 468.2h1.4v1.4h-1.4zM110.7 468.4h0.8v0.8h-0.8zM128.4 445.9h1.0v1.0h-1.0z" fill="#2222e0" fill-opacity="0.75"/>
<path d="M135.4 492.2h0.9v0.9h-0.9zM139.1 444.9h1.1v1.1h-1.1zM125.2 475.5h1.3v1.3h-1.3zM128.3 436.5h0.9v0.9h-0.9zM163.6 471.6h1.0v1.0h-1.0zM166.4 487.9h0.9v0.9h-0.9zM117.0 463.9h1.1v1.1h-1.1zM115.2 472.0h1.3v1.3h-1.3zM169.2 460.3h1.3v1.3h-1.3zM120.4 466.9h1.1v1.1h-1.1zM150.5 437.4h0.9v0.9h-0.9zM106.3 455.0h1.3v1.3h-1.3zM164.5 446.2h1.1v1.1h-1.1zM162.2 427.5h1.2v1.2h-1.2zM123.3 433.8h1.2v1.2h-1.2zM115.9 478.8h0.9v0.9h-0.9zM105.3 442.3h1.3v1.3h-1.3zM147.0 457.1h1.3v1.3h-1.3zM113.9 447.6h1.3v1.3h-1.3zM169.4 431.2h1.1v1.1h-1.1zM165.8 463.6h1.1v1.1h-1.1zM113.0 487.9h1.0v1.0h-1.0zM137.7 436.3h1.2v1.2h-1.2zM137.6 430.4h1.1v1.1h-1.1zM153.7 471.2h0.9v0.9h-0.9zM170.0 451.1h1.2v1.2h-1.2zM128.4 490.7h1.3v1.3h-1.3zM149.4 428.0h1.4v1.4h-1.4zM153.6 453.5h0.8v0.8h-0.8zM103.0 471.2h0.9v0.9h-0.9zM168.7 431.7h1.2v1.2h-1.2zM102.4 451.5h0.8v0.8h-0.8zM122.7 494.0h1.3v1.3h-1.3zM163.5 445.9h1.0v1.0h-1.0zM145.3 450.6h1.4v1.4h-1.4zM171.1 468.5h1.1v1.1h-1.1zM138.9 436.5h1.2v1.2h-1.2zM145.4 469.0h1.3v1.3h-1.3zM112.7 468.9h1.0v1.0h-1.0zM154.4 447.8h1.0v1.0h-1.0zM166.8 460.4h0.9v0.9h-0.9zM144.8 456.9h0.9v0.9h-0.9zM109.9 460.4h1.0v1.0h-1.0zM170.6 477.1h0.8v0.8h-0.8zM105.2 486.8h1.2v1.2h-1.2zM137.3 466.3h1.2v1.2h-1.2zM149.1 479.6h0.9v0.9h-0.9zM103.2 446.9h1.4v1.4h-1.4zM168.7 446.0h0.9v0.9h-0.9zM157.7 462.2h1.3v1.3h-1.3zM164.9 434.3h1.0v1.0h-1.0zM100.7 481.7h0.9v0.9h-0.9zM136.5 451.3h1.1v1.1h-1.1zM166.9 437.4h1.2v1.2h-1.2zM133.6 480.2h1.0v1.0h-1.0zM143.6 455.3h1.2v1.2h-1.2zM167.0 491.9h1.3v1.3h-1.3zM116.5 440.8h1.3v1.3h-1.3zM111.5 474.1h1.1v1.1h-1.1zM143.1 468.0h1.3v1.3h-1.3zM159.1 490.0h1.0v1.0h-1.0zM152.8 440.4h1.1v1.1h-1.1zM154.0 433.5h1.3v1.3h-1.3zM147.0 444.9h1.4v1.4h-1.4zM136.5 464.6h1.1v1.1h-1.1zM150.7 472.7h0.8v0.8h-0.8zM166.1 493.8h1.0v1.0h-1.0zM162.1 454.1h1.1v1.1h-1.1zM168.8 493.1h1.2v1.2h-1.2zM103.8 451.8h1.1v1.1h-1.1zM102.5 427.0h1.0v1.0h-1.0zM120.5 434.1h1.4v1.4h-1.4zM142.5 442.1h0.9v0.9h-0.9zM153.6 434.5h0.8v0.8h-0.8zM147.7 488.4h1.1v1.1h-1.1zM108.6 478.5h1.4v1.4h-1.4zM100.5 473.7h1.1v1.1h-1.1zM164.0 458.6h1.4v1.4h-1.4zM170.3 427.5h1.1v1.1h-1.1zM153.8 457.8h1.4v1.4h-1.4zM159.7 481.5h0.9v0.9h-0.9zM171.2 483.6h1.1v1.1h-1.1zM155.8 485.5h1.0v1.0h-1.0zM170.3 442.4h0.9v0.9h-0.9zM146.3 436.4h1.1v1.1h-1.1zM170.2 493.4h0.8v0.8h-0.8zM101.5 466.7h1.2v1.2h-1.2zM127.3 477.9h1.0v1.0h-1.0zM112.5 447.5h0.9v0.9h-0.9zM139.2 457.3h1.2v1.2h-1.2zM100.9 435.1h1.3v1.3h-1.3zM165.2 484.6h1.2v1.2h-1.2zM137.1 424.5h1.1v1.1h-1.1zM118.7 455.5h1.2v1.2h-1.2zM121.4 460.8h1.0v1.0h-1.0zM105.8 424.9h0.9v0.9h-0.9zM140.4 467.3h1.0v1.0h-1.0zM112.7 493.4h1.1v1.1h-1.1zM117.1 430.2h0.8v0.8h-0.8zM128.2 485.6h1.0v1.0h-1.0zM161.4 433.9h0.8v0.8h-0.8zM140.9 467.8h1.0v1.0h-1.0zM163.8 454.2h1.0v1.0h-1.0zM151.4 471.7h0.9v0.9h-0.9zM114.4 483.7h1.3v1.3h-1.3zM118.8 443.1h1.4v1.4h-1.4zM117.1 460.8h0.9v0.9h-0.9zM150.7 463.1h1.0v1.0h-1.0zM144.9 491.5h1.3v1.3h-1.3zM166.5 431.9h1.0v1.0h-1.0zM128.3 450.5h1.0v1.0h-1.0zM114.2 423.9h0.9v0.9h-0.9zM118.6 467.2h0.9v0.9h-0.9zM117.4 440.5h1.2v1.2h-1.2zM161.0 447.0h1.3v1.3h-1.3zM147.4 467.7h1.1v1.1h-1.1zM143.7 454.5h1.4v1.4h-1.4zM142.3 461.2h1.2v1.2h-1.2zM141.3 450.8h1.0v1.0h-1.0zM169.6 438.0h1.1v1.1h-1.1zM132.3 473.6h1.0v1.0h-1.0zM164.0 487.4h1.0v1.0h-1.0zM153.1 476.6h1.1v1.1h-1.1zM127.6 428.0h1.0v1.0h-1.0zM164.3 470.4h1.4v1.4h-1.4zM138.0 452.1h1.2v1.2h-1.2zM150.0 425.4h1.0v1.0h-1.0zM130.3 455.1h1.1v1.1h-1.1zM112.3 475.5h1.1v1.1h-1.1zM151.6 430.6h1.1v1.1h-1.1zM135.0 426.3h0.8v0.8h-0.8zM119.5 427.2h0.9v0.9h-0.9zM137.4 432.5h1.3v1.3h-1.3zM111.4 462.9h1.2v1.2h-1.2zM113.1 464.4h0.8v0.8h-0.8zM146.6 462.7h0.8v0.8h-0.8zM115.5 429.8h1.3v1.3h-1.3zM105.1 456.7h1.0v1.0h-1.0zM130.6 492.9h1.2v1.2h-1.2zM169.4 452.0h1.2v1.2h-1.2zM128.1 431.6h1.2v1.2h-1.2zM139.8 489.2h0.9v0.9h-0.9zM167.8 468.5h1.1v1.1h-1.1zM171.2 477.3h1.3v1.3h-1.3zM124.6 466.9h1.1v1.1h-1.1zM108.7 437.8h1.4v1.4h-1.4zM126.7 476.5h1.4v1.4h-1.4zM106.5 441.7h1.2v1.2h-1.2zM100.9 462.3h1.0v1.0h-1.0zM168.4 431.7h1.3v1.3h-1.3zM129.3 489.8h1.4v1.4h-1.4zM136.1 434.5h1.0v1.0h-1.0zM167.5 466.0h1.0v1.0h-1.0zM143.5 483.0h0.9v0.9h-0.9zM127.8 453.0h0.9v0.9h-0.9z" fill="#2222e0" fill-opacity="1.00"/>
<path d="M130.3 465.7h1.2v1.2h-1.2zM146.2 470.4h0.9v0.9h-0.9zM165.1 474.1h1.0v1.0h-1.0zM164.5 486.2h1.5v1.5h-1.5zM160.1 460.8h1.0v1.0h-1.0zM100.9 433.1h1.3v1.3h-1.3zM168.1 487.0h1.2v1.2h-1.2zM155.1 429.9h1.2v1.2h-1.2zM156.3 441.0h1.5v1.5h-1.5zM143.0 481.4h0.9v0.9h-0.9z" fill="#e8c020" fill-opacity="0.75"/>
<path d="M157.3 492.3h1.3v1.3h-1.3zM140.8 459.4h1.5v1.5h-1.5zM141.3 470.3h0.8v0.8h-0.8zM143.5 438.7h1.1v1.1h-1.1zM155.8 475.5h1.3v1.3h-1.3zM146.9 447.4h1.0v1.0h-1.0zM104.3 453.2h1.3v1.3h-1.3zM123.4 432.9h1.6v1.6h-1.6zM110.3 452.6h1.2v1.2h-1.2zM169.0 460.6h1.0v1.0h-1.0zM170.1 473.4h1.4v1.4h-1.4zM133.3 464.9h1.0v1.0h-1.0zM157.5 494.1h1.1v1.1h-1.1z" fill="#e8c020" fill-opacity="1.00"/>
<path d="M156.7 432.9h1.1v1.1h-1.1zM116.6 468.6h1.2v1.2h-1.2z" fill="#e8c020" fill-opacity="0.50"/>
<path d="M165.3 461.1h1.1v1.1h-1.1zM108.6 452.0h0.9v0.9h-0.9zM111.9 430.5h1.1v1.1h-1.1zM144.5 452.6h1.3v1.3h-1.3zM171.4 439.2h1.0v1.0h-1.0zM115.5 479.1h1.4v1.4h-1.4zM112.5 489.3h0.9v0.9h-0.9zM164.3 447.2h0.8v0.8h-0.8zM149.3 464.7h1.2v1.2h-1.2zM130.2 432.3h1.4v1.4h-1.4z" fill="#20d040" fill-opacity="0.75"/>
<path d="M155.2 471.3h1.3v1.3h-1.3zM113.9 454.0h1.0v1.0h-1.0zM167.6 492.1h1.1v1.1h-1.1zM165.3 445.1h1.3v1.3h-1.3zM143.9 462.2h1.0v1.0h-1.0z" fill="#20d040" fill-opacity="1.00"/>
<circle cx="126.50" cy="469.50" r="2.00" fill="#2a2aff"/>
<text x="104.00" y="433.74" font-size="9.60" text-anchor="start" fill="#ececec" style="" textLength="26.0" lengthAdjust="spacingAndGlyphs">Merge</text>
<line x1="104.00" y1="490.30" x2="121.50" y2="490.30" stroke="#f4f4f4" stroke-width="1.60" stroke-linecap="butt"/>
<rect x="102.70" y="443.00" width="23.50" height="23.40" fill="none" stroke="#fff" stroke-width="1.20"/>
<line x1="126.2" y1="443.0" x2="172.1" y2="423.3" stroke="#fff" stroke-width="1.4" stroke-dasharray="8 5 12 5 12 5"/>
<line x1="126.2" y1="466.4" x2="172.1" y2="494.4" stroke="#fff" stroke-width="1.4" stroke-dasharray="8 5 12 5 12 5"/>
</g>
<g clip-path="url(#cp12)">
<rect x="175.20" y="423.90" width="70.90" height="71.30" fill="#4a1450" stroke="none" stroke-width="0.00"/>
<rect x="175.20" y="423.90" width="70.90" height="71.30" fill="#fff" filter="url(#fmagzi)"/>
<path d="M222 462 C230 456 240 458 246 462 L246 470 C238 468 230 470 224 472 Z" fill="#f060f0" opacity="0.8" filter="url(#fblur2)"/>
<path d="M198 476 C204 470 214 474 218 480 L214 488 C206 486 200 484 196 484 Z" fill="#f060f0" opacity="0.7" filter="url(#fblur2)"/>
<ellipse cx="190" cy="440" rx="9" ry="5" fill="#d040d8" opacity="0.45" filter="url(#fblur2)"/>
<ellipse cx="207.4" cy="432.8" rx="3.4" ry="3.0" fill="#2226c0" opacity="0.85" filter="url(#fblur08)"/>
<ellipse cx="217.9" cy="439.9" rx="3.4" ry="3.0" fill="#2226c0" opacity="0.85" filter="url(#fblur08)"/>
<ellipse cx="184.0" cy="445.1" rx="3.4" ry="3.0" fill="#2226c0" opacity="0.85" filter="url(#fblur08)"/>
<ellipse cx="181.7" cy="466.7" rx="3.4" ry="3.0" fill="#2226c0" opacity="0.85" filter="url(#fblur08)"/>
<ellipse cx="201.5" cy="462.0" rx="3.4" ry="3.0" fill="#2226c0" opacity="0.85" filter="url(#fblur08)"/>
<ellipse cx="212.0" cy="449.2" rx="3.4" ry="3.0" fill="#2226c0" opacity="0.85" filter="url(#fblur08)"/>
<ellipse cx="226.0" cy="453.9" rx="3.4" ry="3.0" fill="#2226c0" opacity="0.85" filter="url(#fblur08)"/>
<ellipse cx="235.4" cy="442.2" rx="3.4" ry="3.0" fill="#2226c0" opacity="0.85" filter="url(#fblur08)"/>
<ellipse cx="240.0" cy="444.5" rx="3.4" ry="3.0" fill="#2226c0" opacity="0.85" filter="url(#fblur08)"/>
<ellipse cx="219.0" cy="431.7" rx="3.4" ry="3.0" fill="#2226c0" opacity="0.85" filter="url(#fblur08)"/>
<ellipse cx="230.7" cy="429.3" rx="3.4" ry="3.0" fill="#2226c0" opacity="0.85" filter="url(#fblur08)"/>
<ellipse cx="193.4" cy="466.7" rx="3.4" ry="3.0" fill="#2226c0" opacity="0.85" filter="url(#fblur08)"/>
<ellipse cx="202.7" cy="478.4" rx="3.4" ry="3.0" fill="#2226c0" opacity="0.85" filter="url(#fblur08)"/>
<ellipse cx="212.0" cy="478.4" rx="3.4" ry="3.0" fill="#2226c0" opacity="0.85" filter="url(#fblur08)"/>
<ellipse cx="196.9" cy="487.7" rx="3.4" ry="3.0" fill="#2226c0" opacity="0.85" filter="url(#fblur08)"/>
<ellipse cx="221.4" cy="490.1" rx="3.4" ry="3.0" fill="#2226c0" opacity="0.85" filter="url(#fblur08)"/>
<ellipse cx="240.0" cy="486.6" rx="3.4" ry="3.0" fill="#2226c0" opacity="0.85" filter="url(#fblur08)"/>
<ellipse cx="179.3" cy="463.2" rx="3.4" ry="3.0" fill="#2226c0" opacity="0.85" filter="url(#fblur08)"/>
<ellipse cx="199.0" cy="442.0" rx="4.5" ry="4.0" fill="#30d030" opacity="0.9" filter="url(#fblur08)"/>
<ellipse cx="204.0" cy="439.0" rx="2.5" ry="2.5" fill="#d8c020" opacity="0.9" filter="url(#fblur08)"/>
<ellipse cx="205.0" cy="437.0" rx="2.0" ry="1.5" fill="#30d030" opacity="0.9" filter="url(#fblur08)"/>
<ellipse cx="200.0" cy="447.0" rx="2.0" ry="1.5" fill="#c8c020" opacity="0.9" filter="url(#fblur08)"/>
<ellipse cx="239.0" cy="465.5" rx="3.5" ry="1.6" fill="#c8b020" opacity="0.9" filter="url(#fblur08)"/>
<ellipse cx="236.0" cy="465.0" rx="2.0" ry="1.5" fill="#30d030" opacity="0.9" filter="url(#fblur08)"/>
<ellipse cx="236.0" cy="482.0" rx="5.0" ry="1.8" fill="#c8c020" opacity="0.9" filter="url(#fblur08)"/>
<ellipse cx="215.5" cy="478.4" rx="2.2" ry="1.8" fill="#30d030" opacity="0.9" filter="url(#fblur08)"/>
<ellipse cx="205.0" cy="481.9" rx="2.0" ry="2.0" fill="#30d030" opacity="0.9" filter="url(#fblur08)"/>
<ellipse cx="177.0" cy="476.0" rx="1.8" ry="2.5" fill="#30d030" opacity="0.9" filter="url(#fblur08)"/>
<text x="178.50" y="433.44" font-size="9.60" text-anchor="start" fill="#ececec" style="" textLength="26.4" lengthAdjust="spacingAndGlyphs">Merge</text>
<text x="177.50" y="486.02" font-size="9.00" text-anchor="start" fill="#e6e6e6" style="font-family:'Liberation Serif', serif;" textLength="23.5" lengthAdjust="spacingAndGlyphs">10 µm</text>
<line x1="178.00" y1="489.80" x2="192.00" y2="489.80" stroke="#f4f4f4" stroke-width="1.60" stroke-linecap="butt"/>
</g>
<text x="551.60" y="379.82" font-size="10.40" text-anchor="middle" fill="#352e30" style="" textLength="68.3" lengthAdjust="spacingAndGlyphs">MIN6 + MΦ-HFD</text>
<g clip-path="url(#cp13)">
<rect x="440.50" y="388.00" width="76.90" height="76.60" fill="#000" stroke="none" stroke-width="0.00"/>
<path d="M474.3 399.9h1.7v1.7h-1.7zM481.6 401.9h1.7v1.7h-1.7zM479.5 395.3h1.2v1.2h-1.2zM479.2 399.8h1.7v1.7h-1.7zM488.1 408.5h1.1v1.1h-1.1zM483.5 404.8h0.8v0.8h-0.8zM475.6 407.0h1.2v1.2h-1.2zM477.9 396.9h1.7v1.7h-1.7zM472.5 391.6h1.1v1.1h-1.1zM484.1 401.2h1.2v1.2h-1.2zM484.7 398.3h1.1v1.1h-1.1zM481.5 402.0h1.3v1.3h-1.3zM486.4 397.6h1.6v1.6h-1.6zM475.1 398.4h0.8v0.8h-0.8zM487.4 409.1h1.7v1.7h-1.7zM480.2 406.6h1.5v1.5h-1.5zM476.3 405.1h1.3v1.3h-1.3zM482.4 404.1h1.3v1.3h-1.3zM479.4 393.7h1.5v1.5h-1.5zM481.6 405.3h0.9v0.9h-0.9zM480.3 404.9h1.0v1.0h-1.0z" fill="#20c020" fill-opacity="1.00"/>
<path d="M470.3 402.7h1.0v1.0h-1.0zM475.3 406.9h1.8v1.8h-1.8zM480.1 402.3h1.6v1.6h-1.6zM471.3 404.6h1.3v1.3h-1.3zM472.8 400.5h1.5v1.5h-1.5zM484.0 401.9h0.8v0.8h-0.8zM478.0 402.5h1.5v1.5h-1.5zM474.8 396.1h0.9v0.9h-0.9zM480.7 395.2h1.0v1.0h-1.0zM480.8 402.4h0.9v0.9h-0.9zM474.1 397.2h1.3v1.3h-1.3zM476.9 404.0h1.6v1.6h-1.6zM480.5 403.1h1.0v1.0h-1.0zM476.0 401.7h1.3v1.3h-1.3zM481.4 401.0h1.5v1.5h-1.5zM472.3 404.3h1.7v1.7h-1.7zM478.2 403.5h1.2v1.2h-1.2zM480.5 407.6h1.3v1.3h-1.3zM487.5 403.0h1.4v1.4h-1.4zM479.0 401.2h0.8v0.8h-0.8zM485.3 408.5h0.9v0.9h-0.9zM475.5 401.7h1.6v1.6h-1.6zM481.2 394.9h0.9v0.9h-0.9zM481.8 401.6h1.0v1.0h-1.0z" fill="#20c020" fill-opacity="0.50"/>
<path d="M473.5 404.5h1.4v1.4h-1.4zM474.7 402.9h1.1v1.1h-1.1zM484.3 405.9h1.5v1.5h-1.5zM481.1 398.8h1.2v1.2h-1.2zM476.7 397.7h1.3v1.3h-1.3zM467.1 401.2h1.7v1.7h-1.7zM478.5 399.6h1.6v1.6h-1.6zM476.3 402.5h1.5v1.5h-1.5zM476.2 402.3h1.6v1.6h-1.6zM487.3 406.4h1.0v1.0h-1.0zM470.8 395.7h1.4v1.4h-1.4zM478.5 398.6h1.5v1.5h-1.5zM471.3 399.6h1.7v1.7h-1.7zM480.7 403.8h1.2v1.2h-1.2zM473.6 396.4h1.2v1.2h-1.2zM474.4 406.7h1.0v1.0h-1.0zM472.6 403.3h0.8v0.8h-0.8zM492.2 405.1h1.2v1.2h-1.2zM475.2 398.5h1.8v1.8h-1.8zM482.2 402.9h1.1v1.1h-1.1zM475.1 399.7h1.7v1.7h-1.7zM484.3 403.5h1.4v1.4h-1.4zM477.0 399.2h1.2v1.2h-1.2zM476.3 396.1h1.7v1.7h-1.7zM475.1 393.1h1.0v1.0h-1.0zM467.5 396.2h1.7v1.7h-1.7zM482.9 398.7h0.9v0.9h-0.9zM478.3 402.0h1.5v1.5h-1.5zM478.5 402.3h1.3v1.3h-1.3zM473.7 396.7h1.2v1.2h-1.2zM480.2 392.3h1.8v1.8h-1.8zM478.5 400.5h0.9v0.9h-0.9zM475.6 411.4h1.5v1.5h-1.5zM466.1 401.8h1.7v1.7h-1.7zM483.4 403.0h0.8v0.8h-0.8zM475.9 398.3h1.4v1.4h-1.4zM464.8 400.6h1.6v1.6h-1.6zM478.7 400.6h1.4v1.4h-1.4zM481.1 401.6h1.3v1.3h-1.3zM473.4 399.9h1.7v1.7h-1.7zM483.8 400.9h0.9v0.9h-0.9zM481.0 405.2h0.9v0.9h-0.9zM477.9 399.8h1.5v1.5h-1.5z" fill="#20c020" fill-opacity="0.75"/>
<path d="M510.5 406.3h1.7v1.7h-1.7zM509.8 411.6h1.6v1.6h-1.6zM508.9 410.1h1.1v1.1h-1.1zM512.9 404.5h1.2v1.2h-1.2zM510.4 408.4h1.2v1.2h-1.2zM512.1 405.8h1.5v1.5h-1.5zM510.2 411.9h1.2v1.2h-1.2zM506.4 407.6h1.4v1.4h-1.4z" fill="#20c020" fill-opacity="0.75"/>
<path d="M508.2 406.3h1.5v1.5h-1.5zM508.4 403.5h0.8v0.8h-0.8zM510.8 411.7h1.6v1.6h-1.6zM509.4 405.7h1.7v1.7h-1.7zM510.8 409.6h1.4v1.4h-1.4z" fill="#20c020" fill-opacity="1.00"/>
<path d="M514.5 404.9h1.7v1.7h-1.7zM509.8 407.1h1.2v1.2h-1.2zM511.1 406.7h1.2v1.2h-1.2zM510.2 406.1h1.2v1.2h-1.2zM509.0 404.8h1.6v1.6h-1.6zM507.0 408.6h1.4v1.4h-1.4z" fill="#20c020" fill-opacity="0.50"/>
<path d="M472.2 418.9h1.3v1.3h-1.3zM472.1 415.1h0.9v0.9h-0.9zM467.0 421.3h1.0v1.0h-1.0zM472.9 416.6h1.8v1.8h-1.8zM470.0 416.5h1.5v1.5h-1.5zM473.0 414.9h1.7v1.7h-1.7zM465.2 420.3h1.5v1.5h-1.5zM474.1 421.3h1.5v1.5h-1.5zM476.1 414.5h1.0v1.0h-1.0zM470.3 420.0h1.7v1.7h-1.7zM475.5 417.2h1.6v1.6h-1.6zM471.7 419.8h1.8v1.8h-1.8zM470.8 420.4h0.9v0.9h-0.9zM470.0 425.2h1.1v1.1h-1.1zM472.0 417.3h1.0v1.0h-1.0zM480.8 419.2h1.1v1.1h-1.1zM470.9 418.2h1.5v1.5h-1.5zM468.3 415.5h1.5v1.5h-1.5z" fill="#20c020" fill-opacity="1.00"/>
<path d="M469.7 421.5h1.6v1.6h-1.6zM470.6 418.5h1.2v1.2h-1.2zM470.9 421.9h1.8v1.8h-1.8zM469.7 423.5h1.1v1.1h-1.1zM464.7 417.6h1.0v1.0h-1.0zM475.3 419.6h1.3v1.3h-1.3zM478.3 416.4h1.0v1.0h-1.0zM465.8 419.1h1.6v1.6h-1.6zM469.7 414.5h1.2v1.2h-1.2zM474.0 418.2h1.4v1.4h-1.4zM473.2 418.5h1.2v1.2h-1.2zM473.1 418.3h1.1v1.1h-1.1zM472.8 411.6h0.9v0.9h-0.9z" fill="#20c020" fill-opacity="0.50"/>
<path d="M473.8 427.3h1.1v1.1h-1.1zM469.5 421.5h1.5v1.5h-1.5zM471.5 419.0h1.6v1.6h-1.6zM472.2 418.4h1.0v1.0h-1.0zM473.5 419.4h1.3v1.3h-1.3zM476.6 422.6h1.5v1.5h-1.5zM468.9 422.2h1.1v1.1h-1.1zM473.2 422.4h1.5v1.5h-1.5zM474.6 411.3h1.7v1.7h-1.7zM474.3 423.7h1.4v1.4h-1.4zM475.1 427.2h0.9v0.9h-0.9zM473.0 419.4h1.5v1.5h-1.5zM474.2 420.9h1.2v1.2h-1.2zM471.3 415.2h1.3v1.3h-1.3zM470.9 423.6h0.9v0.9h-0.9zM478.9 421.6h1.4v1.4h-1.4zM474.2 419.3h1.3v1.3h-1.3zM474.7 422.3h1.4v1.4h-1.4zM469.5 414.5h1.7v1.7h-1.7zM472.8 421.6h1.4v1.4h-1.4zM465.2 421.6h1.3v1.3h-1.3zM466.2 419.9h0.9v0.9h-0.9zM467.9 419.9h1.2v1.2h-1.2zM468.4 420.1h1.7v1.7h-1.7zM466.0 416.3h1.3v1.3h-1.3zM474.6 417.7h1.1v1.1h-1.1zM470.2 420.8h1.5v1.5h-1.5z" fill="#20c020" fill-opacity="0.75"/>
<path d="M494.2 427.7h0.8v0.8h-0.8zM487.7 431.1h1.8v1.8h-1.8zM486.5 423.1h1.1v1.1h-1.1zM496.4 421.0h1.0v1.0h-1.0zM491.2 427.9h0.8v0.8h-0.8zM494.0 422.7h0.9v0.9h-0.9zM489.7 424.0h0.8v0.8h-0.8zM501.5 420.8h1.0v1.0h-1.0zM489.9 421.0h1.6v1.6h-1.6zM491.4 421.5h1.2v1.2h-1.2zM491.5 419.2h1.7v1.7h-1.7zM495.4 426.3h1.1v1.1h-1.1zM496.8 424.8h1.2v1.2h-1.2zM493.3 422.7h1.5v1.5h-1.5z" fill="#20c020" fill-opacity="0.50"/>
<path d="M491.9 426.1h1.8v1.8h-1.8zM495.8 425.1h1.4v1.4h-1.4zM497.2 431.0h1.4v1.4h-1.4zM484.3 424.3h1.8v1.8h-1.8zM495.1 424.6h1.7v1.7h-1.7zM492.2 413.3h1.7v1.7h-1.7zM490.7 426.5h1.8v1.8h-1.8zM491.2 423.6h1.4v1.4h-1.4zM491.7 421.5h1.0v1.0h-1.0zM489.1 423.0h1.3v1.3h-1.3zM492.5 418.1h1.2v1.2h-1.2zM492.4 421.8h1.8v1.8h-1.8zM493.0 422.7h1.6v1.6h-1.6zM494.7 424.3h0.9v0.9h-0.9zM496.9 431.8h1.8v1.8h-1.8zM495.5 417.7h1.0v1.0h-1.0zM494.4 424.4h1.4v1.4h-1.4zM494.3 426.6h1.7v1.7h-1.7zM490.2 430.1h1.7v1.7h-1.7zM492.0 426.5h1.1v1.1h-1.1zM486.0 417.8h1.0v1.0h-1.0zM497.0 425.4h0.8v0.8h-0.8zM488.4 428.5h1.1v1.1h-1.1zM495.5 424.5h0.9v0.9h-0.9zM490.2 426.1h1.8v1.8h-1.8zM491.4 419.6h0.9v0.9h-0.9zM494.8 428.7h1.2v1.2h-1.2zM496.6 427.9h1.6v1.6h-1.6z" fill="#20c020" fill-opacity="0.75"/>
<path d="M488.7 426.0h1.4v1.4h-1.4zM491.0 420.6h1.7v1.7h-1.7zM487.9 420.6h0.9v0.9h-0.9zM493.5 418.5h1.7v1.7h-1.7zM488.8 421.9h1.8v1.8h-1.8zM492.3 428.5h1.2v1.2h-1.2zM486.0 423.5h1.6v1.6h-1.6zM487.3 424.1h1.4v1.4h-1.4zM495.5 420.7h1.4v1.4h-1.4zM489.4 419.8h1.7v1.7h-1.7zM488.4 423.1h1.6v1.6h-1.6zM495.4 427.8h1.0v1.0h-1.0zM489.6 420.6h1.3v1.3h-1.3zM494.7 417.1h0.9v0.9h-0.9zM492.1 422.3h1.5v1.5h-1.5zM493.2 415.7h1.6v1.6h-1.6z" fill="#20c020" fill-opacity="1.00"/>
<path d="M461.2 444.1h1.5v1.5h-1.5zM457.3 441.5h1.6v1.6h-1.6zM452.6 434.4h1.6v1.6h-1.6zM461.6 444.5h1.4v1.4h-1.4zM453.4 439.8h1.4v1.4h-1.4zM454.4 436.3h1.7v1.7h-1.7zM450.9 443.8h1.5v1.5h-1.5zM458.2 444.5h1.4v1.4h-1.4zM454.3 446.5h1.6v1.6h-1.6zM456.5 445.4h1.2v1.2h-1.2zM459.0 437.1h1.5v1.5h-1.5zM460.4 443.9h1.4v1.4h-1.4zM461.6 438.2h1.0v1.0h-1.0zM463.5 439.9h1.1v1.1h-1.1zM459.8 444.5h1.3v1.3h-1.3zM456.6 441.7h0.9v0.9h-0.9zM459.3 441.6h1.7v1.7h-1.7zM452.2 441.6h1.5v1.5h-1.5zM452.9 441.1h1.1v1.1h-1.1zM459.1 437.4h1.5v1.5h-1.5zM456.1 436.2h1.5v1.5h-1.5zM459.4 441.0h0.9v0.9h-0.9zM456.7 441.8h1.4v1.4h-1.4zM454.4 443.1h1.1v1.1h-1.1zM461.7 440.0h1.5v1.5h-1.5zM458.5 442.0h1.5v1.5h-1.5zM464.9 441.1h0.9v0.9h-0.9z" fill="#20c020" fill-opacity="0.75"/>
<path d="M458.9 443.7h1.6v1.6h-1.6zM457.8 444.1h1.8v1.8h-1.8zM455.9 443.8h0.9v0.9h-0.9zM457.1 446.3h0.9v0.9h-0.9zM458.4 440.5h0.9v0.9h-0.9zM458.3 444.4h1.5v1.5h-1.5zM446.6 444.1h1.5v1.5h-1.5zM457.2 445.4h0.9v0.9h-0.9zM458.3 448.2h1.6v1.6h-1.6zM456.1 446.4h1.7v1.7h-1.7zM454.0 440.4h1.7v1.7h-1.7zM459.6 436.0h1.5v1.5h-1.5zM457.1 442.0h1.7v1.7h-1.7zM462.8 438.9h1.0v1.0h-1.0z" fill="#20c020" fill-opacity="1.00"/>
<path d="M462.7 444.6h1.2v1.2h-1.2zM461.6 443.8h1.2v1.2h-1.2zM458.1 447.3h1.3v1.3h-1.3zM457.9 440.6h1.1v1.1h-1.1zM459.0 438.8h1.3v1.3h-1.3zM456.3 444.6h1.7v1.7h-1.7zM461.0 443.1h1.7v1.7h-1.7zM457.1 435.8h0.8v0.8h-0.8zM459.5 445.8h1.4v1.4h-1.4z" fill="#20c020" fill-opacity="0.50"/>
<path d="M470.5 454.8h1.2v1.2h-1.2zM463.2 450.8h1.2v1.2h-1.2zM464.2 450.6h1.7v1.7h-1.7zM468.7 454.3h0.8v0.8h-0.8zM470.1 456.0h0.9v0.9h-0.9zM478.8 453.1h1.2v1.2h-1.2zM468.2 451.4h1.8v1.8h-1.8zM470.5 447.9h1.4v1.4h-1.4zM472.0 450.0h0.8v0.8h-0.8zM475.6 454.3h0.8v0.8h-0.8zM473.2 450.3h1.3v1.3h-1.3zM472.3 444.2h1.2v1.2h-1.2zM463.9 452.5h1.2v1.2h-1.2zM471.8 444.9h1.1v1.1h-1.1zM468.9 456.4h1.7v1.7h-1.7zM474.2 454.2h1.8v1.8h-1.8zM469.3 449.4h1.4v1.4h-1.4zM475.6 450.8h1.0v1.0h-1.0zM469.0 454.4h1.4v1.4h-1.4zM471.7 453.6h1.4v1.4h-1.4zM464.7 449.2h0.8v0.8h-0.8zM468.4 450.3h1.5v1.5h-1.5zM473.1 448.9h1.1v1.1h-1.1zM471.2 450.1h1.5v1.5h-1.5z" fill="#20c020" fill-opacity="0.75"/>
<path d="M468.5 454.5h1.3v1.3h-1.3zM467.9 450.9h1.1v1.1h-1.1zM472.8 451.0h1.5v1.5h-1.5zM470.8 449.4h1.6v1.6h-1.6zM467.7 452.2h1.1v1.1h-1.1zM470.1 453.1h1.1v1.1h-1.1zM467.6 452.4h1.6v1.6h-1.6zM473.1 452.9h1.5v1.5h-1.5zM470.7 454.1h1.1v1.1h-1.1z" fill="#20c020" fill-opacity="0.50"/>
<path d="M469.7 447.4h0.9v0.9h-0.9zM474.1 447.9h0.9v0.9h-0.9zM476.9 455.0h1.2v1.2h-1.2zM463.4 454.6h1.2v1.2h-1.2zM474.0 458.8h1.0v1.0h-1.0zM466.1 454.2h1.3v1.3h-1.3zM473.2 456.6h1.2v1.2h-1.2zM478.0 445.1h1.7v1.7h-1.7zM470.5 446.2h1.0v1.0h-1.0z" fill="#20c020" fill-opacity="1.00"/>
<path d="M500.2 451.8h1.6v1.6h-1.6zM496.0 450.6h1.0v1.0h-1.0zM497.5 456.1h1.4v1.4h-1.4zM494.8 451.3h1.6v1.6h-1.6zM492.0 454.5h1.8v1.8h-1.8zM491.9 455.8h1.1v1.1h-1.1zM495.5 451.2h1.2v1.2h-1.2zM493.3 453.3h1.7v1.7h-1.7zM492.0 448.7h1.6v1.6h-1.6zM499.3 456.9h1.6v1.6h-1.6zM496.5 455.7h0.9v0.9h-0.9zM500.7 458.0h0.9v0.9h-0.9zM490.5 455.0h1.5v1.5h-1.5z" fill="#20c020" fill-opacity="0.50"/>
<path d="M499.5 449.0h1.5v1.5h-1.5zM492.1 454.0h1.2v1.2h-1.2zM492.0 460.2h1.2v1.2h-1.2zM504.2 451.7h1.6v1.6h-1.6zM496.3 456.6h1.4v1.4h-1.4zM497.6 452.9h1.2v1.2h-1.2zM496.9 453.9h1.0v1.0h-1.0zM495.5 451.2h1.7v1.7h-1.7z" fill="#20c020" fill-opacity="1.00"/>
<path d="M490.8 455.3h1.2v1.2h-1.2zM493.8 453.9h1.4v1.4h-1.4zM498.0 452.5h1.4v1.4h-1.4zM497.2 454.9h1.2v1.2h-1.2zM495.4 456.6h1.2v1.2h-1.2zM496.8 449.8h1.3v1.3h-1.3zM496.6 454.5h0.9v0.9h-0.9zM495.7 451.0h1.3v1.3h-1.3zM498.7 456.1h0.8v0.8h-0.8zM498.0 455.4h1.2v1.2h-1.2zM488.5 454.8h0.9v0.9h-0.9zM493.3 452.7h1.7v1.7h-1.7zM498.9 452.9h1.5v1.5h-1.5zM493.3 455.6h1.7v1.7h-1.7zM493.7 454.3h0.9v0.9h-0.9zM499.5 449.5h1.6v1.6h-1.6zM495.3 456.3h1.2v1.2h-1.2zM492.0 452.8h1.6v1.6h-1.6zM493.5 455.6h1.0v1.0h-1.0zM500.2 456.2h1.2v1.2h-1.2zM494.7 454.7h1.7v1.7h-1.7z" fill="#20c020" fill-opacity="0.75"/>
<path d="M510.7 441.0h1.2v1.2h-1.2zM510.4 439.1h1.5v1.5h-1.5z" fill="#20c020" fill-opacity="0.75"/>
<path d="M512.5 439.8h1.0v1.0h-1.0zM512.3 440.3h1.2v1.2h-1.2zM513.8 441.6h0.9v0.9h-0.9z" fill="#20c020" fill-opacity="0.50"/>
<path d="M509.7 440.4h1.4v1.4h-1.4zM513.2 442.1h1.6v1.6h-1.6zM513.0 441.7h1.3v1.3h-1.3z" fill="#20c020" fill-opacity="1.00"/>
<path d="M498.3 440.2h1.1v1.1h-1.1zM495.0 440.2h1.6v1.6h-1.6zM499.0 441.2h1.0v1.0h-1.0z" fill="#20c020" fill-opacity="0.50"/>
<path d="M496.6 437.2h1.7v1.7h-1.7zM496.5 437.8h1.8v1.8h-1.8zM494.9 440.6h1.1v1.1h-1.1z" fill="#20c020" fill-opacity="1.00"/>
<path d="M494.9 437.9h1.3v1.3h-1.3zM494.8 442.5h1.6v1.6h-1.6z" fill="#20c020" fill-opacity="0.75"/>
<path d="M445.1 417.6h0.9v0.9h-0.9z" fill="#20c020" fill-opacity="0.50"/>
<path d="M444.2 417.9h1.2v1.2h-1.2zM443.7 421.1h1.1v1.1h-1.1zM445.4 419.0h1.1v1.1h-1.1z" fill="#20c020" fill-opacity="1.00"/>
<path d="M446.2 420.5h1.4v1.4h-1.4z" fill="#20c020" fill-opacity="0.75"/>
<path d="M451.5 434.8h0.7v0.7h-0.7zM486.7 416.9h1.1v1.1h-1.1zM443.3 428.1h1.1v1.1h-1.1zM449.8 449.5h1.2v1.2h-1.2zM474.1 426.0h0.8v0.8h-0.8zM451.1 435.0h1.1v1.1h-1.1zM459.0 394.6h0.9v0.9h-0.9zM509.9 400.4h0.8v0.8h-0.8zM491.3 455.5h1.3v1.3h-1.3zM476.2 460.1h1.0v1.0h-1.0zM506.8 439.9h0.9v0.9h-0.9zM486.1 457.5h1.1v1.1h-1.1zM514.9 428.0h0.9v0.9h-0.9zM512.8 400.8h0.7v0.7h-0.7zM508.0 417.0h0.8v0.8h-0.8zM512.3 403.8h1.0v1.0h-1.0zM457.1 419.4h0.7v0.7h-0.7zM463.0 444.6h0.8v0.8h-0.8zM502.0 451.1h1.0v1.0h-1.0zM456.8 437.1h1.2v1.2h-1.2zM494.2 461.0h1.1v1.1h-1.1zM504.2 408.4h1.2v1.2h-1.2zM506.8 392.3h0.8v0.8h-0.8zM450.9 422.0h1.1v1.1h-1.1zM440.8 432.2h0.8v0.8h-0.8zM478.9 430.1h1.1v1.1h-1.1zM460.8 456.5h1.3v1.3h-1.3z" fill="#18a018" fill-opacity="0.75"/>
<path d="M507.7 443.9h0.9v0.9h-0.9zM479.2 444.8h0.9v0.9h-0.9zM488.5 420.6h1.0v1.0h-1.0zM457.7 393.7h0.9v0.9h-0.9zM449.2 399.1h0.9v0.9h-0.9zM496.1 419.3h0.8v0.8h-0.8zM489.6 405.0h0.7v0.7h-0.7zM510.9 423.6h0.6v0.6h-0.6zM507.7 460.7h0.9v0.9h-0.9zM510.4 422.3h0.8v0.8h-0.8zM510.9 424.4h1.4v1.4h-1.4zM498.1 445.1h1.4v1.4h-1.4z" fill="#18a018" fill-opacity="0.50"/>
<path d="M500.6 417.2h1.3v1.3h-1.3z" fill="#18a018" fill-opacity="1.00"/>
<circle cx="486.80" cy="430.80" r="1.30" fill="#40ff40"/>
<text x="442.80" y="399.02" font-size="9.00" text-anchor="start" fill="#28d028" style="" textLength="28.0" lengthAdjust="spacingAndGlyphs">Insulin</text>
</g>
<g clip-path="url(#cp14)">
<rect x="524.10" y="388.00" width="76.90" height="76.60" fill="#000" stroke="none" stroke-width="0.00"/>
<ellipse cx="585.7" cy="410.0" rx="2.0" ry="0.8" fill="#c01010" fill-opacity="0.60" transform="rotate(170 585.7 410.0)"/><ellipse cx="570.9" cy="407.1" rx="1.8" ry="0.8" fill="#c01010" fill-opacity="0.51" transform="rotate(35 570.9 407.1)"/><ellipse cx="574.6" cy="423.3" rx="1.6" ry="0.8" fill="#c01010" fill-opacity="0.51" transform="rotate(69 574.6 423.3)"/><ellipse cx="577.9" cy="455.2" rx="2.6" ry="0.8" fill="#c01010" fill-opacity="0.56" transform="rotate(63 577.9 455.2)"/><ellipse cx="581.0" cy="411.7" rx="1.8" ry="0.8" fill="#c01010" fill-opacity="0.84" transform="rotate(102 581.0 411.7)"/><ellipse cx="581.1" cy="403.1" rx="1.9" ry="0.8" fill="#c01010" fill-opacity="0.51" transform="rotate(18 581.1 403.1)"/><ellipse cx="544.0" cy="458.4" rx="1.0" ry="0.8" fill="#c01010" fill-opacity="0.41" transform="rotate(169 544.0 458.4)"/><ellipse cx="571.6" cy="458.2" rx="2.4" ry="0.8" fill="#c01010" fill-opacity="0.77" transform="rotate(160 571.6 458.2)"/><ellipse cx="561.3" cy="428.1" rx="1.2" ry="0.8" fill="#c01010" fill-opacity="0.74" transform="rotate(154 561.3 428.1)"/><ellipse cx="578.1" cy="406.2" rx="1.3" ry="0.8" fill="#c01010" fill-opacity="0.88" transform="rotate(139 578.1 406.2)"/><ellipse cx="581.3" cy="425.9" rx="2.9" ry="0.8" fill="#c01010" fill-opacity="0.58" transform="rotate(105 581.3 425.9)"/><ellipse cx="541.6" cy="441.2" rx="1.3" ry="0.8" fill="#c01010" fill-opacity="0.78" transform="rotate(163 541.6 441.2)"/><ellipse cx="554.7" cy="441.1" rx="2.9" ry="0.8" fill="#c01010" fill-opacity="0.69" transform="rotate(86 554.7 441.1)"/><ellipse cx="595.6" cy="459.2" rx="2.9" ry="0.8" fill="#c01010" fill-opacity="0.78" transform="rotate(23 595.6 459.2)"/><ellipse cx="537.3" cy="433.9" rx="1.1" ry="0.8" fill="#c01010" fill-opacity="0.43" transform="rotate(49 537.3 433.9)"/><ellipse cx="552.8" cy="453.3" rx="2.2" ry="0.8" fill="#c01010" fill-opacity="0.84" transform="rotate(13 552.8 453.3)"/><ellipse cx="552.8" cy="443.1" rx="2.5" ry="0.8" fill="#c01010" fill-opacity="0.64" transform="rotate(107 552.8 443.1)"/><ellipse cx="596.7" cy="422.2" rx="1.2" ry="0.8" fill="#c01010" fill-opacity="0.53" transform="rotate(38 596.7 422.2)"/><ellipse cx="535.5" cy="457.7" rx="2.7" ry="0.8" fill="#c01010" fill-opacity="0.79" transform="rotate(24 535.5 457.7)"/><ellipse cx="560.4" cy="399.3" rx="2.9" ry="0.8" fill="#c01010" fill-opacity="0.61" transform="rotate(36 560.4 399.3)"/><ellipse cx="582.5" cy="404.2" rx="1.7" ry="0.8" fill="#c01010" fill-opacity="0.58" transform="rotate(8 582.5 404.2)"/><ellipse cx="541.7" cy="438.0" rx="2.1" ry="0.8" fill="#c01010" fill-opacity="0.56" transform="rotate(104 541.7 438.0)"/><ellipse cx="556.2" cy="413.6" rx="1.8" ry="0.8" fill="#c01010" fill-opacity="0.73" transform="rotate(99 556.2 413.6)"/><ellipse cx="595.4" cy="417.2" rx="1.2" ry="0.8" fill="#c01010" fill-opacity="0.81" transform="rotate(107 595.4 417.2)"/><ellipse cx="564.8" cy="434.9" rx="1.2" ry="0.8" fill="#c01010" fill-opacity="0.84" transform="rotate(101 564.8 434.9)"/><ellipse cx="527.9" cy="408.7" rx="2.8" ry="0.8" fill="#c01010" fill-opacity="0.75" transform="rotate(87 527.9 408.7)"/><ellipse cx="591.1" cy="418.3" rx="2.2" ry="0.8" fill="#c01010" fill-opacity="0.52" transform="rotate(99 591.1 418.3)"/><ellipse cx="533.7" cy="418.3" rx="1.0" ry="0.8" fill="#c01010" fill-opacity="0.49" transform="rotate(16 533.7 418.3)"/><ellipse cx="588.1" cy="436.3" rx="2.1" ry="0.8" fill="#c01010" fill-opacity="0.64" transform="rotate(135 588.1 436.3)"/><ellipse cx="590.1" cy="418.6" rx="1.6" ry="0.8" fill="#c01010" fill-opacity="0.44" transform="rotate(47 590.1 418.6)"/><ellipse cx="528.4" cy="413.8" rx="1.4" ry="0.8" fill="#c01010" fill-opacity="0.64" transform="rotate(114 528.4 413.8)"/><ellipse cx="547.6" cy="445.3" rx="1.9" ry="0.8" fill="#c01010" fill-opacity="0.77" transform="rotate(43 547.6 445.3)"/><ellipse cx="578.1" cy="454.8" rx="1.9" ry="0.8" fill="#c01010" fill-opacity="0.50" transform="rotate(3 578.1 454.8)"/><ellipse cx="590.3" cy="412.3" rx="2.0" ry="0.8" fill="#c01010" fill-opacity="0.78" transform="rotate(145 590.3 412.3)"/><ellipse cx="583.6" cy="452.5" rx="1.8" ry="0.8" fill="#c01010" fill-opacity="0.74" transform="rotate(160 583.6 452.5)"/><ellipse cx="592.2" cy="448.4" rx="2.7" ry="0.8" fill="#c01010" fill-opacity="0.79" transform="rotate(80 592.2 448.4)"/><ellipse cx="558.5" cy="425.0" rx="2.9" ry="0.8" fill="#c01010" fill-opacity="0.51" transform="rotate(79 558.5 425.0)"/><ellipse cx="594.8" cy="405.0" rx="2.5" ry="0.8" fill="#c01010" fill-opacity="0.75" transform="rotate(46 594.8 405.0)"/><ellipse cx="548.8" cy="415.6" rx="2.5" ry="0.8" fill="#c01010" fill-opacity="0.59" transform="rotate(102 548.8 415.6)"/><ellipse cx="560.4" cy="424.2" rx="2.8" ry="0.8" fill="#c01010" fill-opacity="0.71" transform="rotate(149 560.4 424.2)"/><ellipse cx="545.0" cy="423.8" rx="2.3" ry="0.8" fill="#c01010" fill-opacity="0.56" transform="rotate(75 545.0 423.8)"/><ellipse cx="570.2" cy="430.4" rx="2.9" ry="0.8" fill="#c01010" fill-opacity="0.61" transform="rotate(98 570.2 430.4)"/><ellipse cx="545.0" cy="396.4" rx="2.4" ry="0.8" fill="#c01010" fill-opacity="0.85" transform="rotate(2 545.0 396.4)"/><ellipse cx="574.2" cy="409.7" rx="1.9" ry="0.8" fill="#c01010" fill-opacity="0.43" transform="rotate(6 574.2 409.7)"/><ellipse cx="532.4" cy="437.5" rx="2.0" ry="0.8" fill="#c01010" fill-opacity="0.82" transform="rotate(28 532.4 437.5)"/>
<path d="M560.6 438.5h1.1v1.1h-1.1zM558.4 417.2h1.4v1.4h-1.4zM570.6 407.1h0.7v0.7h-0.7zM574.7 424.3h0.6v0.6h-0.6zM565.8 398.3h1.1v1.1h-1.1zM540.2 407.8h1.1v1.1h-1.1zM553.7 412.8h1.0v1.0h-1.0zM590.0 394.6h1.1v1.1h-1.1zM590.5 437.8h1.3v1.3h-1.3zM581.3 421.3h0.7v0.7h-0.7zM528.7 392.2h1.0v1.0h-1.0zM578.6 418.8h0.9v0.9h-0.9zM529.0 401.3h1.4v1.4h-1.4zM594.9 401.5h0.7v0.7h-0.7zM579.0 454.9h1.3v1.3h-1.3zM524.5 454.2h1.1v1.1h-1.1zM538.9 417.7h0.7v0.7h-0.7zM568.9 453.8h1.0v1.0h-1.0zM525.6 443.6h1.2v1.2h-1.2zM549.8 397.5h1.2v1.2h-1.2zM594.9 429.0h1.3v1.3h-1.3zM535.5 390.9h1.3v1.3h-1.3zM554.3 458.9h1.0v1.0h-1.0z" fill="#b01010" fill-opacity="0.75"/>
<path d="M593.1 445.2h0.7v0.7h-0.7zM559.7 414.5h0.8v0.8h-0.8zM594.7 400.3h1.0v1.0h-1.0zM547.0 436.9h1.3v1.3h-1.3zM593.9 449.2h0.7v0.7h-0.7zM573.6 420.8h1.0v1.0h-1.0zM536.6 417.4h1.1v1.1h-1.1zM528.9 444.7h1.1v1.1h-1.1zM565.6 395.4h1.0v1.0h-1.0zM563.3 400.2h0.7v0.7h-0.7zM576.9 438.5h1.3v1.3h-1.3zM581.4 420.7h0.7v0.7h-0.7zM569.6 447.2h0.8v0.8h-0.8zM551.7 391.3h1.4v1.4h-1.4zM557.4 461.6h1.2v1.2h-1.2zM595.9 450.7h1.1v1.1h-1.1zM588.8 458.0h1.1v1.1h-1.1zM576.8 456.1h1.0v1.0h-1.0zM564.9 422.4h1.0v1.0h-1.0zM588.6 409.5h0.8v0.8h-0.8zM561.3 411.7h0.7v0.7h-0.7zM555.4 429.5h1.1v1.1h-1.1zM580.6 458.8h0.7v0.7h-0.7zM530.0 459.8h0.8v0.8h-0.8zM574.0 430.3h1.2v1.2h-1.2zM562.3 412.1h1.2v1.2h-1.2zM585.0 396.1h0.8v0.8h-0.8zM585.3 464.1h0.9v0.9h-0.9zM584.1 402.8h0.7v0.7h-0.7zM555.9 431.3h1.1v1.1h-1.1zM570.2 435.6h1.4v1.4h-1.4zM529.9 397.9h1.1v1.1h-1.1zM550.7 405.5h1.1v1.1h-1.1zM580.0 397.2h0.6v0.6h-0.6z" fill="#b01010" fill-opacity="0.50"/>
<path d="M541.1 437.9h1.4v1.4h-1.4zM531.9 463.4h0.6v0.6h-0.6zM551.9 392.4h0.7v0.7h-0.7z" fill="#b01010" fill-opacity="0.25"/>
<circle cx="569.30" cy="429.50" r="1.50" fill="#ff3030"/>
<text x="526.00" y="399.02" font-size="9.00" text-anchor="start" fill="#e01818" style="" textLength="26.4" lengthAdjust="spacingAndGlyphs">CD11c</text>
</g>
<g clip-path="url(#cp15)">
<rect x="607.10" y="388.00" width="76.90" height="76.60" fill="#000" stroke="none" stroke-width="0.00"/>
<path d="M650.2 404.4h1.0v1.0h-1.0zM644.8 395.8h1.4v1.4h-1.4zM643.1 405.5h1.6v1.6h-1.6zM649.9 403.8h1.1v1.1h-1.1zM645.2 402.6h1.0v1.0h-1.0zM650.2 397.1h1.5v1.5h-1.5zM648.6 403.5h1.2v1.2h-1.2zM644.2 410.6h0.8v0.8h-0.8zM644.0 400.1h1.7v1.7h-1.7zM644.2 409.2h1.8v1.8h-1.8zM656.8 397.7h1.0v1.0h-1.0zM645.9 403.9h1.6v1.6h-1.6zM658.8 409.3h1.4v1.4h-1.4zM651.3 404.1h1.5v1.5h-1.5z" fill="#d02020" fill-opacity="0.75"/>
<path d="M644.8 398.7h1.6v1.6h-1.6zM634.4 405.1h1.0v1.0h-1.0zM648.2 398.0h1.7v1.7h-1.7zM638.5 406.7h1.0v1.0h-1.0zM653.3 402.0h0.8v0.8h-0.8zM641.0 401.8h0.9v0.9h-0.9zM651.5 407.8h1.5v1.5h-1.5zM648.7 399.7h1.2v1.2h-1.2zM649.3 403.8h1.4v1.4h-1.4zM645.2 405.4h1.4v1.4h-1.4zM641.5 402.7h0.8v0.8h-0.8zM640.4 395.3h1.2v1.2h-1.2zM647.5 396.2h0.9v0.9h-0.9zM647.7 397.8h1.1v1.1h-1.1zM646.1 395.0h1.0v1.0h-1.0zM648.0 406.0h0.8v0.8h-0.8zM638.9 401.8h0.8v0.8h-0.8zM642.1 402.6h0.9v0.9h-0.9zM630.5 408.4h1.0v1.0h-1.0zM639.2 398.8h1.7v1.7h-1.7zM639.6 406.0h1.6v1.6h-1.6zM635.5 402.7h1.4v1.4h-1.4zM649.4 401.4h1.1v1.1h-1.1zM639.5 410.0h1.5v1.5h-1.5z" fill="#2030e0" fill-opacity="0.75"/>
<path d="M637.0 404.6h0.8v0.8h-0.8zM644.2 397.1h1.7v1.7h-1.7zM636.6 404.7h1.6v1.6h-1.6zM652.0 401.7h1.1v1.1h-1.1zM650.1 401.5h1.1v1.1h-1.1zM644.6 404.9h1.7v1.7h-1.7zM641.9 401.2h1.4v1.4h-1.4zM650.9 401.1h1.6v1.6h-1.6z" fill="#d02020" fill-opacity="1.00"/>
<path d="M640.8 405.1h1.0v1.0h-1.0zM646.9 401.5h1.2v1.2h-1.2zM636.7 405.5h1.7v1.7h-1.7zM642.0 398.5h1.3v1.3h-1.3zM642.6 399.7h1.7v1.7h-1.7zM640.4 402.5h1.1v1.1h-1.1zM640.0 402.3h0.9v0.9h-0.9zM642.8 400.3h1.3v1.3h-1.3zM651.3 401.6h0.8v0.8h-0.8zM642.7 404.1h1.1v1.1h-1.1zM640.8 394.4h1.7v1.7h-1.7z" fill="#20c020" fill-opacity="0.75"/>
<path d="M638.6 403.7h0.8v0.8h-0.8zM646.8 401.9h1.5v1.5h-1.5zM645.1 403.8h1.7v1.7h-1.7zM645.7 404.3h1.5v1.5h-1.5zM647.9 401.8h1.4v1.4h-1.4zM640.7 403.4h1.5v1.5h-1.5zM642.4 400.0h1.6v1.6h-1.6zM644.9 400.7h1.3v1.3h-1.3zM645.6 403.5h1.6v1.6h-1.6zM650.0 405.0h1.7v1.7h-1.7zM648.7 407.1h1.2v1.2h-1.2zM645.4 399.1h1.0v1.0h-1.0zM639.9 404.9h1.3v1.3h-1.3z" fill="#2030e0" fill-opacity="0.50"/>
<path d="M639.6 404.9h1.0v1.0h-1.0zM630.5 399.5h1.4v1.4h-1.4zM633.6 400.4h1.2v1.2h-1.2zM646.7 402.6h1.5v1.5h-1.5zM644.8 400.5h1.7v1.7h-1.7zM643.5 400.1h1.4v1.4h-1.4zM641.6 402.0h0.9v0.9h-0.9z" fill="#20c020" fill-opacity="1.00"/>
<path d="M645.4 409.8h1.5v1.5h-1.5zM642.7 400.9h1.4v1.4h-1.4zM645.2 399.7h1.4v1.4h-1.4zM638.6 396.4h1.3v1.3h-1.3zM642.8 402.7h1.5v1.5h-1.5zM638.1 393.7h1.7v1.7h-1.7z" fill="#20c020" fill-opacity="0.50"/>
<path d="M643.9 395.8h1.5v1.5h-1.5zM648.2 403.3h1.2v1.2h-1.2zM637.8 410.9h1.8v1.8h-1.8zM641.9 393.9h1.0v1.0h-1.0zM640.9 401.2h0.9v0.9h-0.9zM644.1 401.6h0.9v0.9h-0.9zM642.9 399.7h1.6v1.6h-1.6zM642.9 402.3h0.8v0.8h-0.8zM647.0 398.9h1.5v1.5h-1.5zM642.3 405.1h1.3v1.3h-1.3z" fill="#2030e0" fill-opacity="1.00"/>
<path d="M639.1 399.1h1.7v1.7h-1.7zM645.2 396.9h1.5v1.5h-1.5zM639.2 400.1h1.2v1.2h-1.2zM642.0 398.7h1.7v1.7h-1.7zM640.4 396.8h1.2v1.2h-1.2zM647.9 400.8h1.0v1.0h-1.0zM638.7 397.6h1.2v1.2h-1.2z" fill="#d02020" fill-opacity="0.50"/>
<path d="M677.0 408.4h1.2v1.2h-1.2zM676.6 401.3h1.4v1.4h-1.4zM677.5 405.0h1.1v1.1h-1.1zM676.1 405.7h1.8v1.8h-1.8zM679.8 408.6h0.9v0.9h-0.9z" fill="#2030e0" fill-opacity="0.50"/>
<path d="M678.0 408.8h1.4v1.4h-1.4zM679.3 407.2h1.6v1.6h-1.6zM676.1 408.6h1.5v1.5h-1.5z" fill="#d02020" fill-opacity="0.75"/>
<path d="M674.8 406.9h1.6v1.6h-1.6zM677.7 410.3h1.7v1.7h-1.7zM677.8 406.3h1.3v1.3h-1.3zM677.2 406.4h1.0v1.0h-1.0zM674.9 407.7h1.5v1.5h-1.5zM675.0 403.2h1.0v1.0h-1.0z" fill="#2030e0" fill-opacity="0.75"/>
<path d="M676.0 407.8h0.9v0.9h-0.9z" fill="#d02020" fill-opacity="1.00"/>
<path d="M674.9 407.0h1.8v1.8h-1.8zM675.9 408.6h1.6v1.6h-1.6zM676.9 408.4h0.9v0.9h-0.9zM671.0 408.5h0.9v0.9h-0.9zM678.9 407.8h0.8v0.8h-0.8zM675.0 403.2h1.8v1.8h-1.8z" fill="#20c020" fill-opacity="0.75"/>
<path d="M677.3 409.3h0.9v0.9h-0.9z" fill="#20c020" fill-opacity="1.00"/>
<path d="M630.0 418.2h1.1v1.1h-1.1zM641.7 418.2h1.2v1.2h-1.2zM641.1 423.9h0.8v0.8h-0.8zM635.9 422.5h1.5v1.5h-1.5zM638.4 420.7h1.7v1.7h-1.7zM635.4 422.6h1.0v1.0h-1.0z" fill="#2030e0" fill-opacity="1.00"/>
<path d="M637.9 420.6h1.4v1.4h-1.4zM639.1 417.1h1.0v1.0h-1.0zM641.7 423.9h1.1v1.1h-1.1zM629.6 423.5h1.3v1.3h-1.3zM639.2 415.0h1.0v1.0h-1.0zM632.6 420.6h1.3v1.3h-1.3zM639.2 419.7h0.9v0.9h-0.9zM635.3 421.3h1.7v1.7h-1.7zM634.4 416.7h0.8v0.8h-0.8zM635.5 417.6h1.3v1.3h-1.3zM637.4 416.1h1.7v1.7h-1.7zM640.1 423.3h1.7v1.7h-1.7z" fill="#2030e0" fill-opacity="0.50"/>
<path d="M628.9 423.0h1.6v1.6h-1.6zM638.5 418.6h0.8v0.8h-0.8zM634.6 420.8h1.5v1.5h-1.5zM636.7 417.3h1.4v1.4h-1.4zM637.2 419.3h0.8v0.8h-0.8zM637.8 422.6h0.8v0.8h-0.8zM639.3 421.6h1.1v1.1h-1.1zM636.6 418.9h1.8v1.8h-1.8zM640.7 418.3h1.1v1.1h-1.1zM634.2 421.0h1.0v1.0h-1.0zM638.0 417.4h1.2v1.2h-1.2zM640.7 419.6h0.8v0.8h-0.8zM633.2 429.4h0.9v0.9h-0.9zM631.3 416.8h1.7v1.7h-1.7zM637.0 419.5h0.9v0.9h-0.9zM635.2 416.0h1.6v1.6h-1.6zM638.4 416.0h1.0v1.0h-1.0zM638.1 417.2h1.5v1.5h-1.5zM637.8 416.2h0.9v0.9h-0.9z" fill="#2030e0" fill-opacity="0.75"/>
<path d="M637.0 423.4h1.7v1.7h-1.7zM633.1 419.0h1.2v1.2h-1.2zM638.6 422.3h1.6v1.6h-1.6zM639.0 424.5h1.5v1.5h-1.5z" fill="#20c020" fill-opacity="1.00"/>
<path d="M639.5 422.5h1.6v1.6h-1.6zM635.6 421.5h1.1v1.1h-1.1zM635.6 423.6h1.1v1.1h-1.1zM644.2 416.7h1.3v1.3h-1.3zM640.6 425.1h1.0v1.0h-1.0zM632.7 420.2h0.9v0.9h-0.9zM638.2 418.3h1.6v1.6h-1.6zM638.8 414.6h1.2v1.2h-1.2zM632.2 421.6h1.4v1.4h-1.4z" fill="#20c020" fill-opacity="0.75"/>
<path d="M643.3 418.2h1.5v1.5h-1.5zM630.0 417.6h1.2v1.2h-1.2z" fill="#d02020" fill-opacity="1.00"/>
<path d="M638.3 416.2h0.8v0.8h-0.8zM642.1 419.5h1.7v1.7h-1.7zM639.9 421.5h1.8v1.8h-1.8zM638.3 413.2h1.3v1.3h-1.3z" fill="#d02020" fill-opacity="0.50"/>
<path d="M643.5 409.0h1.6v1.6h-1.6zM635.0 417.0h1.5v1.5h-1.5zM638.6 420.7h1.6v1.6h-1.6zM638.1 419.9h1.1v1.1h-1.1zM644.7 419.9h1.5v1.5h-1.5z" fill="#d02020" fill-opacity="0.75"/>
<path d="M638.3 419.1h0.9v0.9h-0.9zM642.7 423.6h0.8v0.8h-0.8zM645.0 423.4h1.1v1.1h-1.1zM636.3 415.2h0.9v0.9h-0.9zM636.2 419.3h1.1v1.1h-1.1zM636.7 422.1h1.0v1.0h-1.0z" fill="#20c020" fill-opacity="0.50"/>
<path d="M661.1 421.4h1.7v1.7h-1.7zM663.8 430.4h1.4v1.4h-1.4zM660.8 424.5h1.5v1.5h-1.5zM664.4 434.4h1.6v1.6h-1.6zM656.1 420.7h1.7v1.7h-1.7zM661.1 426.4h0.8v0.8h-0.8zM667.7 415.7h1.4v1.4h-1.4zM651.2 419.1h0.9v0.9h-0.9zM659.1 422.2h1.3v1.3h-1.3zM658.5 426.2h1.3v1.3h-1.3zM659.5 421.0h1.5v1.5h-1.5zM658.0 417.2h0.9v0.9h-0.9zM658.8 425.6h1.1v1.1h-1.1zM656.6 432.9h0.9v0.9h-0.9zM662.4 421.9h1.0v1.0h-1.0zM657.1 426.7h1.3v1.3h-1.3zM654.5 420.8h0.9v0.9h-0.9zM662.7 425.4h0.9v0.9h-0.9zM660.7 428.0h0.9v0.9h-0.9z" fill="#2030e0" fill-opacity="0.75"/>
<path d="M661.4 427.1h0.8v0.8h-0.8zM657.8 423.6h1.4v1.4h-1.4zM658.7 419.6h1.7v1.7h-1.7zM657.9 429.0h1.7v1.7h-1.7zM658.8 427.9h1.5v1.5h-1.5zM661.4 425.9h1.0v1.0h-1.0zM660.1 418.5h1.7v1.7h-1.7zM660.1 419.7h0.9v0.9h-0.9zM661.8 431.0h1.0v1.0h-1.0zM661.2 423.0h1.8v1.8h-1.8zM657.2 419.9h1.3v1.3h-1.3z" fill="#2030e0" fill-opacity="1.00"/>
<path d="M657.7 422.6h1.6v1.6h-1.6zM659.0 427.5h0.9v0.9h-0.9zM660.0 430.4h1.4v1.4h-1.4zM662.9 429.0h0.9v0.9h-0.9zM658.0 424.2h1.2v1.2h-1.2zM662.3 424.5h1.2v1.2h-1.2zM658.3 424.2h1.4v1.4h-1.4zM656.8 428.2h1.1v1.1h-1.1zM650.1 411.6h1.1v1.1h-1.1z" fill="#20c020" fill-opacity="0.75"/>
<path d="M656.3 431.5h1.3v1.3h-1.3zM660.3 422.6h1.4v1.4h-1.4zM660.5 421.6h1.1v1.1h-1.1zM658.4 423.1h1.1v1.1h-1.1zM666.7 423.6h0.8v0.8h-0.8z" fill="#2030e0" fill-opacity="0.50"/>
<path d="M659.8 425.7h1.5v1.5h-1.5zM664.8 415.1h1.0v1.0h-1.0zM659.5 427.1h1.6v1.6h-1.6z" fill="#d02020" fill-opacity="1.00"/>
<path d="M654.3 429.0h1.5v1.5h-1.5zM661.4 419.9h1.2v1.2h-1.2zM657.0 415.8h1.6v1.6h-1.6zM653.4 424.3h0.9v0.9h-0.9z" fill="#20c020" fill-opacity="0.50"/>
<path d="M654.4 425.5h1.2v1.2h-1.2zM657.6 410.9h1.1v1.1h-1.1zM654.0 424.2h1.7v1.7h-1.7zM658.0 419.6h1.1v1.1h-1.1z" fill="#20c020" fill-opacity="1.00"/>
<path d="M662.0 425.1h1.5v1.5h-1.5zM651.8 428.6h1.6v1.6h-1.6zM660.3 417.9h1.5v1.5h-1.5zM665.3 424.6h0.8v0.8h-0.8zM657.1 421.8h1.4v1.4h-1.4z" fill="#d02020" fill-opacity="0.50"/>
<path d="M660.2 425.7h1.1v1.1h-1.1zM655.6 425.5h0.9v0.9h-0.9zM654.6 426.3h1.0v1.0h-1.0zM657.8 422.6h0.9v0.9h-0.9zM656.0 425.0h1.7v1.7h-1.7zM658.9 431.3h0.9v0.9h-0.9zM663.6 424.8h1.3v1.3h-1.3z" fill="#d02020" fill-opacity="0.75"/>
<path d="M617.3 446.5h1.0v1.0h-1.0zM625.6 438.8h0.8v0.8h-0.8zM630.2 448.2h1.4v1.4h-1.4zM629.0 434.4h1.5v1.5h-1.5zM616.6 444.9h1.0v1.0h-1.0zM623.6 439.4h0.8v0.8h-0.8zM620.5 446.5h1.0v1.0h-1.0zM623.6 434.2h0.9v0.9h-0.9zM625.3 436.8h1.3v1.3h-1.3zM628.2 434.8h0.8v0.8h-0.8zM619.5 439.2h1.8v1.8h-1.8zM623.7 433.9h1.7v1.7h-1.7zM626.4 446.3h1.0v1.0h-1.0zM633.7 433.6h1.3v1.3h-1.3zM625.2 442.3h1.2v1.2h-1.2zM621.9 446.6h0.8v0.8h-0.8z" fill="#2030e0" fill-opacity="0.75"/>
<path d="M628.4 449.2h1.5v1.5h-1.5zM624.6 435.8h1.6v1.6h-1.6zM630.1 442.6h1.7v1.7h-1.7zM620.7 437.2h0.9v0.9h-0.9zM624.2 446.8h1.6v1.6h-1.6z" fill="#2030e0" fill-opacity="1.00"/>
<path d="M622.5 447.4h1.3v1.3h-1.3zM627.7 439.3h0.8v0.8h-0.8zM627.6 436.9h1.1v1.1h-1.1zM627.2 441.0h1.4v1.4h-1.4zM624.6 447.9h1.3v1.3h-1.3zM623.7 440.2h1.4v1.4h-1.4zM630.0 438.4h1.4v1.4h-1.4z" fill="#20c020" fill-opacity="0.75"/>
<path d="M622.9 442.9h1.7v1.7h-1.7zM616.3 439.4h1.0v1.0h-1.0zM627.3 437.1h1.8v1.8h-1.8zM626.7 441.7h0.9v0.9h-0.9zM629.3 443.2h1.0v1.0h-1.0zM624.7 440.4h1.4v1.4h-1.4zM621.8 431.3h1.1v1.1h-1.1zM621.3 442.0h1.7v1.7h-1.7z" fill="#2030e0" fill-opacity="0.50"/>
<path d="M620.5 442.9h1.3v1.3h-1.3zM624.5 442.1h1.2v1.2h-1.2zM634.3 442.2h1.5v1.5h-1.5zM627.5 433.6h1.8v1.8h-1.8z" fill="#20c020" fill-opacity="1.00"/>
<path d="M617.5 445.1h1.6v1.6h-1.6zM621.5 439.5h1.3v1.3h-1.3zM627.3 441.8h1.0v1.0h-1.0zM623.5 443.6h1.2v1.2h-1.2zM624.4 444.3h1.3v1.3h-1.3zM620.9 435.3h1.1v1.1h-1.1z" fill="#20c020" fill-opacity="0.50"/>
<path d="M624.1 439.8h0.8v0.8h-0.8zM623.4 437.4h1.7v1.7h-1.7zM627.0 442.6h1.2v1.2h-1.2zM620.3 435.2h1.5v1.5h-1.5zM617.5 436.2h1.2v1.2h-1.2zM625.1 440.7h0.8v0.8h-0.8zM624.1 442.6h1.6v1.6h-1.6zM627.0 440.3h1.2v1.2h-1.2z" fill="#d02020" fill-opacity="0.75"/>
<path d="M624.4 438.4h1.6v1.6h-1.6zM619.7 435.9h1.7v1.7h-1.7z" fill="#d02020" fill-opacity="1.00"/>
<path d="M623.3 442.7h1.4v1.4h-1.4z" fill="#d02020" fill-opacity="0.50"/>
<path d="M646.4 447.6h0.8v0.8h-0.8zM638.0 446.4h1.8v1.8h-1.8zM645.0 451.2h1.2v1.2h-1.2zM635.9 457.5h1.1v1.1h-1.1zM637.9 447.4h1.0v1.0h-1.0zM638.7 448.2h1.7v1.7h-1.7zM631.9 455.6h1.1v1.1h-1.1zM637.2 453.9h0.9v0.9h-0.9zM640.4 447.4h1.2v1.2h-1.2zM635.4 452.4h1.8v1.8h-1.8z" fill="#2030e0" fill-opacity="0.75"/>
<path d="M638.1 451.9h1.2v1.2h-1.2zM634.6 459.4h1.3v1.3h-1.3zM638.2 451.1h1.0v1.0h-1.0zM636.3 453.6h0.9v0.9h-0.9zM635.6 448.2h1.4v1.4h-1.4zM639.2 450.3h1.3v1.3h-1.3z" fill="#2030e0" fill-opacity="1.00"/>
<path d="M632.3 453.4h1.4v1.4h-1.4zM630.5 452.6h1.3v1.3h-1.3zM634.4 446.1h1.8v1.8h-1.8zM635.8 451.4h1.3v1.3h-1.3zM642.5 456.4h1.3v1.3h-1.3zM640.5 451.6h1.2v1.2h-1.2z" fill="#2030e0" fill-opacity="0.50"/>
<path d="M637.1 451.1h1.6v1.6h-1.6zM639.2 454.4h1.0v1.0h-1.0zM641.5 452.8h1.8v1.8h-1.8zM639.7 446.5h1.6v1.6h-1.6zM632.0 456.1h1.7v1.7h-1.7z" fill="#20c020" fill-opacity="1.00"/>
<path d="M635.7 450.0h0.9v0.9h-0.9zM639.0 452.4h1.8v1.8h-1.8zM637.2 451.0h1.4v1.4h-1.4zM636.9 450.2h1.6v1.6h-1.6zM632.1 455.6h1.1v1.1h-1.1zM635.1 452.5h0.9v0.9h-0.9zM643.3 450.2h1.5v1.5h-1.5zM632.6 457.3h1.7v1.7h-1.7z" fill="#d02020" fill-opacity="0.75"/>
<path d="M636.7 448.6h1.4v1.4h-1.4zM640.3 452.7h1.1v1.1h-1.1zM635.1 447.6h1.6v1.6h-1.6zM639.9 449.9h1.6v1.6h-1.6z" fill="#20c020" fill-opacity="0.50"/>
<path d="M634.4 451.4h1.4v1.4h-1.4zM634.4 447.8h1.4v1.4h-1.4zM636.3 448.5h1.1v1.1h-1.1zM630.1 452.4h1.2v1.2h-1.2zM638.0 452.5h1.2v1.2h-1.2zM636.3 451.1h1.3v1.3h-1.3z" fill="#20c020" fill-opacity="0.75"/>
<path d="M634.9 445.4h1.0v1.0h-1.0zM633.6 451.1h1.0v1.0h-1.0z" fill="#d02020" fill-opacity="1.00"/>
<path d="M635.5 453.9h1.5v1.5h-1.5z" fill="#d02020" fill-opacity="0.50"/>
<path d="M658.2 453.5h1.3v1.3h-1.3zM660.1 454.8h0.9v0.9h-0.9zM659.9 447.6h1.4v1.4h-1.4zM660.5 450.9h0.9v0.9h-0.9zM664.2 455.4h0.8v0.8h-0.8z" fill="#d02020" fill-opacity="0.75"/>
<path d="M662.6 454.9h0.8v0.8h-0.8zM662.4 460.1h0.9v0.9h-0.9zM660.8 447.6h1.0v1.0h-1.0zM664.0 452.0h1.3v1.3h-1.3zM661.6 453.4h1.0v1.0h-1.0zM657.9 449.2h1.0v1.0h-1.0zM662.1 456.1h1.5v1.5h-1.5zM661.7 451.6h1.2v1.2h-1.2zM662.9 451.2h1.0v1.0h-1.0zM658.9 450.0h0.8v0.8h-0.8zM659.7 455.6h1.2v1.2h-1.2z" fill="#2030e0" fill-opacity="0.75"/>
<path d="M661.8 455.1h1.3v1.3h-1.3zM661.8 449.7h1.6v1.6h-1.6zM657.1 455.4h1.3v1.3h-1.3zM666.8 454.3h1.4v1.4h-1.4zM665.1 455.2h1.6v1.6h-1.6zM664.0 457.7h1.3v1.3h-1.3zM659.9 451.1h1.2v1.2h-1.2zM659.2 456.6h0.8v0.8h-0.8zM662.2 454.2h1.0v1.0h-1.0zM663.7 458.1h1.6v1.6h-1.6z" fill="#2030e0" fill-opacity="1.00"/>
<path d="M664.1 453.8h1.0v1.0h-1.0zM664.4 453.8h0.9v0.9h-0.9zM658.0 457.7h1.4v1.4h-1.4zM657.8 452.6h1.7v1.7h-1.7zM658.9 450.8h1.3v1.3h-1.3z" fill="#20c020" fill-opacity="0.75"/>
<path d="M658.2 451.6h0.9v0.9h-0.9zM659.4 450.0h1.1v1.1h-1.1zM661.9 448.0h1.3v1.3h-1.3zM660.0 453.5h1.1v1.1h-1.1zM670.0 460.4h1.1v1.1h-1.1zM663.9 454.0h1.4v1.4h-1.4z" fill="#20c020" fill-opacity="1.00"/>
<path d="M663.0 451.7h1.5v1.5h-1.5zM667.4 447.5h1.5v1.5h-1.5zM662.8 457.0h1.6v1.6h-1.6zM657.0 454.4h1.0v1.0h-1.0zM667.6 454.1h1.2v1.2h-1.2zM665.8 452.9h1.3v1.3h-1.3z" fill="#2030e0" fill-opacity="0.50"/>
<path d="M656.6 450.4h1.8v1.8h-1.8zM662.7 451.2h1.7v1.7h-1.7zM661.3 452.6h1.2v1.2h-1.2z" fill="#d02020" fill-opacity="1.00"/>
<path d="M659.6 458.5h1.3v1.3h-1.3z" fill="#20c020" fill-opacity="0.50"/>
<path d="M669.5 453.2h1.3v1.3h-1.3z" fill="#d02020" fill-opacity="0.50"/>
<path d="M681.0 439.4h1.2v1.2h-1.2zM680.4 439.9h0.8v0.8h-0.8zM681.3 443.6h1.2v1.2h-1.2z" fill="#d02020" fill-opacity="1.00"/>
<path d="M680.3 441.3h1.3v1.3h-1.3zM681.1 441.3h0.8v0.8h-0.8z" fill="#2030e0" fill-opacity="0.75"/>
<path d="M679.4 439.0h0.8v0.8h-0.8z" fill="#20c020" fill-opacity="0.75"/>
<path d="M682.0 440.4h1.5v1.5h-1.5z" fill="#2030e0" fill-opacity="1.00"/>
<path d="M681.6 439.9h1.3v1.3h-1.3zM680.0 439.1h1.4v1.4h-1.4z" fill="#2030e0" fill-opacity="0.50"/>
<path d="M681.8 440.8h1.8v1.8h-1.8z" fill="#20c020" fill-opacity="1.00"/>
<path d="M660.8 436.3h1.6v1.6h-1.6z" fill="#20c020" fill-opacity="1.00"/>
<path d="M664.7 441.7h0.9v0.9h-0.9z" fill="#d02020" fill-opacity="0.50"/>
<path d="M666.9 439.1h1.8v1.8h-1.8zM663.7 439.7h1.2v1.2h-1.2z" fill="#20c020" fill-opacity="0.50"/>
<path d="M662.6 437.3h1.4v1.4h-1.4z" fill="#2030e0" fill-opacity="1.00"/>
<path d="M662.5 439.7h1.7v1.7h-1.7z" fill="#20c020" fill-opacity="0.75"/>
<path d="M662.2 441.3h1.5v1.5h-1.5zM663.0 441.9h1.2v1.2h-1.2zM662.0 442.2h1.3v1.3h-1.3z" fill="#d02020" fill-opacity="0.75"/>
<path d="M662.6 441.1h1.6v1.6h-1.6z" fill="#2030e0" fill-opacity="0.75"/>
<path d="M612.0 420.5h1.5v1.5h-1.5z" fill="#d02020" fill-opacity="1.00"/>
<path d="M611.6 418.9h1.5v1.5h-1.5z" fill="#d02020" fill-opacity="0.50"/>
<path d="M611.8 419.6h1.8v1.8h-1.8zM612.0 419.5h1.5v1.5h-1.5z" fill="#20c020" fill-opacity="0.75"/>
<path d="M611.9 419.3h0.9v0.9h-0.9zM610.8 419.5h1.7v1.7h-1.7z" fill="#d02020" fill-opacity="0.75"/>
<path d="M645.9 433.3h0.8v0.8h-0.8zM662.7 445.8h1.0v1.0h-1.0zM663.2 433.0h0.7v0.7h-0.7zM681.3 430.3h0.9v0.9h-0.9zM617.4 412.6h1.2v1.2h-1.2zM636.4 462.1h1.0v1.0h-1.0zM678.3 435.2h1.0v1.0h-1.0zM672.2 419.3h0.8v0.8h-0.8zM622.3 438.5h1.1v1.1h-1.1zM643.5 413.0h1.2v1.2h-1.2zM666.3 460.4h1.1v1.1h-1.1zM663.3 406.6h1.2v1.2h-1.2zM647.4 405.6h1.4v1.4h-1.4zM683.1 391.7h0.9v0.9h-0.9zM645.0 438.8h1.3v1.3h-1.3zM619.2 439.4h1.1v1.1h-1.1zM646.8 438.4h1.3v1.3h-1.3zM641.3 409.7h0.8v0.8h-0.8zM620.6 408.9h1.3v1.3h-1.3zM677.2 434.1h1.0v1.0h-1.0zM649.6 443.8h0.8v0.8h-0.8zM633.5 435.5h1.2v1.2h-1.2zM676.1 432.6h1.1v1.1h-1.1zM631.0 463.7h0.7v0.7h-0.7zM642.9 405.1h0.9v0.9h-0.9zM614.0 446.7h0.7v0.7h-0.7zM679.1 459.6h1.2v1.2h-1.2zM612.0 452.4h1.1v1.1h-1.1zM682.1 394.8h1.0v1.0h-1.0z" fill="#c01818" fill-opacity="0.75"/>
<path d="M612.9 433.2h1.0v1.0h-1.0zM637.0 462.3h1.1v1.1h-1.1zM641.6 461.6h1.1v1.1h-1.1zM667.2 406.2h0.7v0.7h-0.7zM635.7 413.5h1.2v1.2h-1.2zM619.6 391.2h1.4v1.4h-1.4zM646.4 395.9h1.0v1.0h-1.0zM670.5 461.5h1.3v1.3h-1.3zM607.7 443.9h1.4v1.4h-1.4zM620.9 462.4h1.0v1.0h-1.0zM614.2 438.3h1.3v1.3h-1.3zM608.3 412.9h1.2v1.2h-1.2zM637.6 408.3h0.6v0.6h-0.6zM665.0 414.3h1.2v1.2h-1.2zM664.2 460.7h1.1v1.1h-1.1zM659.5 420.5h0.8v0.8h-0.8zM650.5 410.1h1.1v1.1h-1.1zM661.5 459.7h1.0v1.0h-1.0z" fill="#c01818" fill-opacity="0.50"/>
<path d="M610.4 435.7h1.2v1.2h-1.2zM619.3 393.5h0.8v0.8h-0.8zM616.5 421.8h0.9v0.9h-0.9z" fill="#c01818" fill-opacity="1.00"/>
<path d="M610.7 394.2h0.9v0.9h-0.9zM675.9 390.4h1.0v1.0h-1.0zM672.2 399.8h0.9v0.9h-0.9zM625.5 387.7h0.9v0.9h-0.9zM652.6 392.9h0.9v0.9h-0.9zM608.2 457.3h1.1v1.1h-1.1zM644.0 438.8h0.9v0.9h-0.9zM657.3 400.6h0.9v0.9h-0.9zM612.2 422.5h1.1v1.1h-1.1zM621.1 394.2h1.1v1.1h-1.1zM655.1 405.4h1.0v1.0h-1.0zM682.8 421.4h1.2v1.2h-1.2zM617.1 402.4h0.8v0.8h-0.8zM627.5 420.8h0.9v0.9h-0.9zM611.6 414.9h0.7v0.7h-0.7zM658.9 416.1h0.8v0.8h-0.8zM655.1 449.0h0.9v0.9h-0.9zM663.5 462.5h1.1v1.1h-1.1zM635.0 456.0h0.9v0.9h-0.9zM645.6 403.1h0.9v0.9h-0.9zM678.9 393.8h0.8v0.8h-0.8z" fill="#2030d0" fill-opacity="0.50"/>
<path d="M676.4 394.7h0.7v0.7h-0.7zM671.1 446.5h0.9v0.9h-0.9zM622.5 434.1h1.0v1.0h-1.0zM630.7 417.9h1.2v1.2h-1.2zM659.2 436.3h1.1v1.1h-1.1zM664.5 401.3h1.3v1.3h-1.3zM633.6 405.0h1.0v1.0h-1.0zM607.4 428.7h0.7v0.7h-0.7zM637.8 463.1h0.8v0.8h-0.8zM664.4 413.2h0.9v0.9h-0.9zM681.2 455.2h0.9v0.9h-0.9zM674.2 391.9h1.0v1.0h-1.0zM617.7 437.6h1.3v1.3h-1.3zM636.3 397.0h1.4v1.4h-1.4zM617.1 438.8h0.9v0.9h-0.9zM667.4 389.7h1.0v1.0h-1.0zM646.2 398.0h1.0v1.0h-1.0zM683.3 455.9h0.8v0.8h-0.8z" fill="#2030d0" fill-opacity="0.75"/>
<path d="M676.3 436.2h1.4v1.4h-1.4z" fill="#2030d0" fill-opacity="1.00"/>
<text x="609.00" y="399.24" font-size="9.60" text-anchor="start" fill="#ececec" style="" textLength="25.8" lengthAdjust="spacingAndGlyphs">Merge</text>
<text x="609.00" y="455.72" font-size="9.00" text-anchor="start" fill="#e6e6e6" style="font-family:'Liberation Serif', serif;" textLength="24.0" lengthAdjust="spacingAndGlyphs">50 µm</text>
<line x1="612.00" y1="459.20" x2="621.50" y2="459.20" stroke="#f4f4f4" stroke-width="1.60" stroke-linecap="butt"/>
</g>
<text x="274.20" y="353.60" font-size="17.50" fill="#000">j</text>
<text x="296.60" y="361.05" font-size="10.20" text-anchor="start" fill="#3a3a3a" style="" textLength="63.2" lengthAdjust="spacingAndGlyphs">Gal3 KO mice</text>
<text x="376.80" y="361.05" font-size="10.20" text-anchor="start" fill="#3a3a3a" style="" textLength="39.5" lengthAdjust="spacingAndGlyphs">WT mice</text>
<path d="M300.5 372.8 C304.5 364 308.5 365 311.5 370 C314.5 376 316.5 380 318.9 377.5 C321.2 376.5 322.4 376.5 323.5 376.8" stroke="#333" stroke-width="0.90" fill="none" />
<path d="M323.3 381.5 C323.3 372 326.3 364.6 332.3 364.6 L342.3 364.6 C347.3 364.6 350.3 372 353.3 376 C355.8 377.5 356.3 379 356.3 380 C356.3 381 355.8 381.5 354.3 381.5 Z" fill="#c9c9c9"/>
<ellipse cx="347.9" cy="371.2" rx="2.6" ry="3.6" fill="#dedede" transform="rotate(-15 347.9 371.2)"/>
<circle cx="351.60" cy="376.00" r="0.60" fill="#333"/>
<circle cx="335.83" cy="376.85" r="0.80" fill="#c02040"/>
<circle cx="331.66" cy="374.35" r="0.80" fill="#c02040"/>
<circle cx="334.50" cy="376.50" r="0.80" fill="#c02040"/>
<circle cx="336.98" cy="378.29" r="0.80" fill="#c02040"/>
<circle cx="332.95" cy="377.30" r="0.80" fill="#c02040"/>
<circle cx="333.63" cy="373.73" r="0.80" fill="#c02040"/>
<circle cx="330.93" cy="374.04" r="0.80" fill="#c02040"/>
<circle cx="335.85" cy="372.88" r="0.80" fill="#c02040"/>
<circle cx="333.61" cy="374.16" r="0.80" fill="#c02040"/>
<path d="M358.0 372.8 C362.0 364 366.0 365 369.0 370 C372.0 376 374.0 380 377.2 377.5 C379.6 376.5 380.8 376.5 382.0 376.8" stroke="#333" stroke-width="0.90" fill="none" />
<path d="M381.7 381.5 C381.7 372 384.7 364.6 390.7 364.6 L400.7 364.6 C405.7 364.6 408.7 372 411.7 376 C414.2 377.5 414.7 379 414.7 380 C414.7 381 414.2 381.5 412.7 381.5 Z" fill="#c9c9c9"/>
<ellipse cx="406.3" cy="371.2" rx="2.6" ry="3.6" fill="#dedede" transform="rotate(-15 406.3 371.2)"/>
<circle cx="410.00" cy="376.00" r="0.60" fill="#333"/>
<circle cx="392.46" cy="378.34" r="0.80" fill="#4040c0"/>
<circle cx="389.29" cy="377.85" r="0.80" fill="#4040c0"/>
<circle cx="391.09" cy="373.78" r="0.80" fill="#4040c0"/>
<circle cx="392.81" cy="376.03" r="0.80" fill="#4040c0"/>
<circle cx="395.76" cy="374.11" r="0.80" fill="#4040c0"/>
<circle cx="390.74" cy="376.35" r="0.80" fill="#4040c0"/>
<circle cx="394.80" cy="378.18" r="0.80" fill="#4040c0"/>
<circle cx="392.36" cy="377.88" r="0.80" fill="#4040c0"/>
<circle cx="389.23" cy="376.11" r="0.80" fill="#4040c0"/>
<line x1="354.30" y1="383.70" x2="354.30" y2="393.30" stroke="#111" stroke-width="1.30" stroke-linecap="butt"/>
<path d="M352.4 392.5 L356.2 392.5 L354.3 396.5 Z" stroke="none" stroke-width="0.00" fill="#111" />
<text x="300.10" y="407.45" font-size="10.20" text-anchor="start" fill="#3a3a3a" style="" textLength="98.0" lengthAdjust="spacingAndGlyphs">Gal3 KO MΦ, WT MΦ</text>
<circle cx="336.96" cy="412.96" r="2.80" fill="#e8c070"/>
<circle cx="336.96" cy="412.96" r="2.40" fill="#c8284e"/>
<circle cx="336.36" cy="412.36" r="1.08" fill="#c8284e"/>
<circle cx="341.53" cy="412.50" r="2.80" fill="#e8c070"/>
<circle cx="341.53" cy="412.50" r="2.40" fill="#d84a6a"/>
<circle cx="340.93" cy="411.90" r="1.08" fill="#d84a6a"/>
<circle cx="336.50" cy="416.61" r="2.80" fill="#e8c070"/>
<circle cx="336.50" cy="416.61" r="2.40" fill="#b01e40"/>
<circle cx="335.90" cy="416.01" r="1.08" fill="#b01e40"/>
<circle cx="341.07" cy="416.16" r="2.80" fill="#e8c070"/>
<circle cx="341.07" cy="416.16" r="2.40" fill="#c8284e"/>
<circle cx="340.47" cy="415.56" r="1.08" fill="#c8284e"/>
<circle cx="343.81" cy="415.24" r="2.80" fill="#e8c070"/>
<circle cx="343.81" cy="415.24" r="2.40" fill="#d84a6a"/>
<circle cx="343.21" cy="414.64" r="1.08" fill="#d84a6a"/>
<circle cx="338.79" cy="419.36" r="2.80" fill="#e8c070"/>
<circle cx="338.79" cy="419.36" r="2.40" fill="#b01e40"/>
<circle cx="338.19" cy="418.76" r="1.08" fill="#b01e40"/>
<circle cx="342.90" cy="419.17" r="2.80" fill="#e8c070"/>
<circle cx="342.90" cy="419.17" r="2.40" fill="#c8284e"/>
<circle cx="342.30" cy="418.57" r="1.08" fill="#c8284e"/>
<circle cx="336.04" cy="419.81" r="2.80" fill="#e8c070"/>
<circle cx="336.04" cy="419.81" r="2.40" fill="#d84a6a"/>
<circle cx="335.44" cy="419.21" r="1.08" fill="#d84a6a"/>
<circle cx="371.66" cy="412.96" r="2.80" fill="#c0c0e8"/>
<circle cx="371.66" cy="412.96" r="2.40" fill="#6868c8"/>
<circle cx="371.06" cy="412.36" r="1.08" fill="#6868c8"/>
<circle cx="376.23" cy="412.50" r="2.80" fill="#c0c0e8"/>
<circle cx="376.23" cy="412.50" r="2.40" fill="#8080d8"/>
<circle cx="375.63" cy="411.90" r="1.08" fill="#8080d8"/>
<circle cx="371.20" cy="416.61" r="2.80" fill="#c0c0e8"/>
<circle cx="371.20" cy="416.61" r="2.40" fill="#5050b0"/>
<circle cx="370.60" cy="416.01" r="1.08" fill="#5050b0"/>
<circle cx="375.77" cy="416.16" r="2.80" fill="#c0c0e8"/>
<circle cx="375.77" cy="416.16" r="2.40" fill="#6868c8"/>
<circle cx="375.17" cy="415.56" r="1.08" fill="#6868c8"/>
<circle cx="378.51" cy="415.24" r="2.80" fill="#c0c0e8"/>
<circle cx="378.51" cy="415.24" r="2.40" fill="#8080d8"/>
<circle cx="377.91" cy="414.64" r="1.08" fill="#8080d8"/>
<circle cx="373.49" cy="419.36" r="2.80" fill="#c0c0e8"/>
<circle cx="373.49" cy="419.36" r="2.40" fill="#5050b0"/>
<circle cx="372.89" cy="418.76" r="1.08" fill="#5050b0"/>
<circle cx="377.60" cy="419.17" r="2.80" fill="#c0c0e8"/>
<circle cx="377.60" cy="419.17" r="2.40" fill="#6868c8"/>
<circle cx="377.00" cy="418.57" r="1.08" fill="#6868c8"/>
<circle cx="370.74" cy="419.81" r="2.80" fill="#c0c0e8"/>
<circle cx="370.74" cy="419.81" r="2.40" fill="#8080d8"/>
<circle cx="370.14" cy="419.21" r="1.08" fill="#8080d8"/>
<text x="307.30" y="433.85" font-size="10.20" text-anchor="start" fill="#3a3a3a" style="" textLength="44.1" lengthAdjust="spacingAndGlyphs">co-culture</text>
<line x1="356.20" y1="422.90" x2="356.20" y2="429.90" stroke="#111" stroke-width="1.30" stroke-linecap="butt"/>
<path d="M354.3 429.1 L358.1 429.1 L356.2 433.1 Z" stroke="none" stroke-width="0.00" fill="#111" />
<text x="326.00" y="450.35" font-size="10.20" text-anchor="start" fill="#3a3a3a" style="" textLength="23.6" lengthAdjust="spacingAndGlyphs">MIN6</text>
<circle cx="353.60" cy="441.60" r="2.90" fill="#f08c00"/>
<circle cx="353.60" cy="441.60" r="2.20" fill="#fdb010"/>
<circle cx="358.70" cy="441.60" r="2.90" fill="#f08c00"/>
<circle cx="358.70" cy="441.60" r="2.20" fill="#fdb010"/>
<circle cx="353.60" cy="445.50" r="2.90" fill="#f08c00"/>
<circle cx="353.60" cy="445.50" r="2.20" fill="#fdb010"/>
<circle cx="358.70" cy="445.50" r="2.90" fill="#f08c00"/>
<circle cx="358.70" cy="445.50" r="2.20" fill="#fdb010"/>
<circle cx="355.50" cy="448.50" r="2.90" fill="#f08c00"/>
<circle cx="355.50" cy="448.50" r="2.20" fill="#fdb010"/>
<circle cx="359.20" cy="448.80" r="2.90" fill="#f08c00"/>
<circle cx="359.20" cy="448.80" r="2.20" fill="#fdb010"/>
<line x1="356.20" y1="455.00" x2="356.20" y2="461.30" stroke="#111" stroke-width="1.30" stroke-linecap="butt"/>
<path d="M354.3 460.5 L358.1 460.5 L356.2 464.5 Z" stroke="none" stroke-width="0.00" fill="#111" />
<circle cx="328.50" cy="471.10" r="2.90" fill="#f08c00"/>
<circle cx="328.50" cy="471.10" r="2.20" fill="#fdb010"/>
<circle cx="328.50" cy="475.50" r="2.90" fill="#f08c00"/>
<circle cx="328.50" cy="475.50" r="2.20" fill="#fdb010"/>
<circle cx="334.30" cy="474.70" r="2.90" fill="#f08c00"/>
<circle cx="334.30" cy="474.70" r="2.20" fill="#fdb010"/>
<circle cx="331.40" cy="477.70" r="2.90" fill="#f08c00"/>
<circle cx="331.40" cy="477.70" r="2.20" fill="#fdb010"/>
<circle cx="335.00" cy="477.70" r="2.90" fill="#f08c00"/>
<circle cx="335.00" cy="477.70" r="2.20" fill="#fdb010"/>
<circle cx="334.30" cy="468.90" r="2.40" fill="#fbc830"/>
<circle cx="353.40" cy="470.50" r="2.90" fill="#f08c00"/>
<circle cx="353.40" cy="470.50" r="2.20" fill="#fdb010"/>
<circle cx="358.50" cy="470.50" r="2.90" fill="#f08c00"/>
<circle cx="358.50" cy="470.50" r="2.20" fill="#fdb010"/>
<circle cx="353.40" cy="475.50" r="2.90" fill="#f08c00"/>
<circle cx="353.40" cy="475.50" r="2.20" fill="#fdb010"/>
<circle cx="363.50" cy="475.50" r="2.90" fill="#f08c00"/>
<circle cx="363.50" cy="475.50" r="2.20" fill="#fdb010"/>
<circle cx="358.40" cy="480.00" r="2.90" fill="#f08c00"/>
<circle cx="358.40" cy="480.00" r="2.20" fill="#fdb010"/>
<circle cx="361.00" cy="479.00" r="2.90" fill="#f08c00"/>
<circle cx="361.00" cy="479.00" r="2.20" fill="#fdb010"/>
<circle cx="354.20" cy="468.30" r="2.40" fill="#b02c5a"/>
<circle cx="362.70" cy="471.80" r="2.40" fill="#b02c5a"/>
<circle cx="357.60" cy="474.70" r="2.40" fill="#b83060"/>
<circle cx="357.80" cy="478.40" r="2.40" fill="#a02850"/>
<circle cx="376.80" cy="469.80" r="2.90" fill="#f08c00"/>
<circle cx="376.80" cy="469.80" r="2.20" fill="#fdb010"/>
<circle cx="382.80" cy="467.80" r="2.90" fill="#f08c00"/>
<circle cx="382.80" cy="467.80" r="2.20" fill="#fdb010"/>
<circle cx="376.80" cy="474.50" r="2.90" fill="#f08c00"/>
<circle cx="376.80" cy="474.50" r="2.20" fill="#fdb010"/>
<circle cx="382.00" cy="473.30" r="2.90" fill="#f08c00"/>
<circle cx="382.00" cy="473.30" r="2.20" fill="#fdb010"/>
<circle cx="387.00" cy="474.00" r="2.90" fill="#f08c00"/>
<circle cx="387.00" cy="474.00" r="2.20" fill="#fdb010"/>
<circle cx="384.00" cy="479.00" r="2.90" fill="#f08c00"/>
<circle cx="384.00" cy="479.00" r="2.20" fill="#fdb010"/>
<circle cx="379.50" cy="468.20" r="2.40" fill="#7474cc"/>
<circle cx="386.50" cy="471.00" r="2.40" fill="#7474cc"/>
<circle cx="380.00" cy="475.60" r="2.40" fill="#6a6ac0"/>
<circle cx="387.00" cy="476.50" r="2.40" fill="#7474cc"/>
<text x="358.40" y="494.45" font-size="10.20" text-anchor="middle" fill="#3a3a3a" style="" textLength="23.4" lengthAdjust="spacingAndGlyphs">GSIS</text></svg>
</body></html>
